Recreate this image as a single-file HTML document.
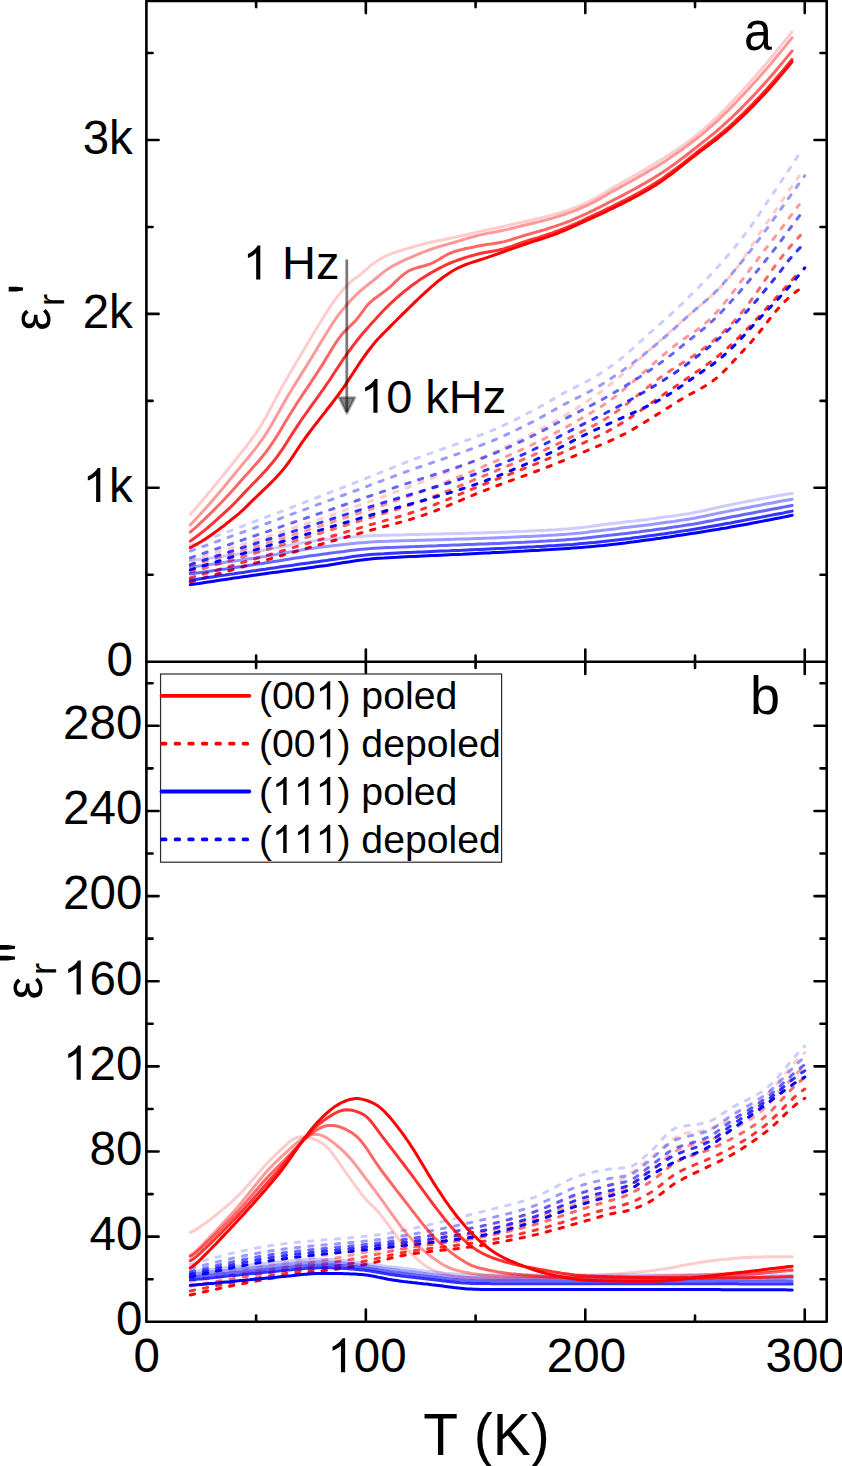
<!DOCTYPE html>
<html><head><meta charset="utf-8"><style>
html,body{margin:0;padding:0;background:#fff;width:842px;height:1466px;overflow:hidden}
svg{display:block}
text{font-family:"Liberation Sans",sans-serif;font-kerning:none;font-feature-settings:"kern" 0}
</style></head><body>
<svg width="842" height="1466" viewBox="0 0 842 1466">
<rect width="842" height="1466" fill="#fff"/>
<g fill="none" stroke-linejoin="round" stroke-linecap="round">
<path d="M190.3 560.0L194.7 558.7L199.1 557.4L203.5 556.2L207.8 554.9L212.2 553.6L216.6 552.3L221.0 551.0L225.4 549.6L229.8 548.3L234.2 547.0L238.6 545.6L243.0 544.3L247.3 542.9L251.7 541.5L256.1 540.1L260.5 538.7L264.9 537.3L269.3 535.9L273.7 534.5L278.1 533.0L282.5 531.6L286.8 530.2L291.2 528.7L295.6 527.2L300.0 525.8L304.4 524.3L308.8 522.8L313.2 521.3L317.6 519.8L322.0 518.3L326.3 516.8L330.7 515.3L335.1 513.7L339.5 512.2L343.9 510.6L348.3 509.1L352.7 507.5L357.1 506.0L361.5 504.4L365.9 502.8L370.2 501.3L374.6 499.7L379.0 498.1L383.4 496.5L387.8 494.9L392.2 493.3L396.6 491.7L401.0 490.0L405.4 488.4L409.7 486.7L414.1 485.1L418.5 483.4L422.9 481.7L427.3 480.0L431.7 478.3L436.1 476.6L440.5 474.9L444.9 473.1L449.2 471.3L453.6 469.5L458.0 467.7L462.4 465.9L466.8 464.1L471.2 462.2L475.6 460.3L480.0 458.4L484.4 456.5L488.7 454.5L493.1 452.6L497.5 450.6L501.9 448.5L506.3 446.5L510.7 444.4L515.1 442.2L519.5 440.1L523.9 437.9L528.2 435.6L532.6 433.3L537.0 431.0L541.4 428.7L545.8 426.3L550.2 423.8L554.6 421.3L559.0 418.8L563.4 416.3L567.7 413.7L572.1 411.0L576.5 408.3L580.9 405.5L585.3 402.6L589.7 399.6L594.1 396.6L598.5 393.5L602.9 390.3L607.2 386.9L611.6 383.5L616.0 379.9L620.4 376.2L624.8 372.3L629.2 368.4L633.6 364.4L638.0 360.5L642.4 356.5L646.7 352.6L651.1 348.6L655.5 344.8L659.9 340.9L664.3 337.0L668.7 333.0L673.1 329.1L677.5 325.2L681.9 321.3L686.2 317.4L690.6 313.6L695.0 309.9L699.4 306.2L703.8 302.5L708.2 298.8L712.6 294.8L717.0 290.6L721.4 286.1L725.7 281.4L730.1 276.4L734.5 271.0L738.9 265.0L743.3 258.6L747.7 251.8L752.1 245.0L756.5 238.2L760.9 231.6L765.2 225.2L769.6 218.9L774.0 212.4L778.4 206.0L782.8 199.5L787.2 193.1L791.6 186.8L796.0 180.5L799.3 175.9" stroke="#ff0000" stroke-opacity="0.2" stroke-width="3.0" stroke-dasharray="4.4 9"/>
<path d="M190.3 566.2L194.7 564.9L199.1 563.6L203.5 562.3L207.8 561.1L212.2 559.8L216.6 558.5L221.0 557.2L225.4 555.8L229.8 554.5L234.2 553.2L238.6 551.9L243.0 550.5L247.3 549.2L251.7 547.8L256.1 546.5L260.5 545.1L264.9 543.8L269.3 542.4L273.7 541.0L278.1 539.6L282.5 538.2L286.8 536.8L291.2 535.4L295.6 534.0L300.0 532.6L304.4 531.2L308.8 529.8L313.2 528.4L317.6 526.9L322.0 525.5L326.3 524.0L330.7 522.6L335.1 521.1L339.5 519.7L343.9 518.2L348.3 516.8L352.7 515.3L357.1 513.8L361.5 512.3L365.9 510.9L370.2 509.4L374.6 507.9L379.0 506.5L383.4 505.0L387.8 503.5L392.2 502.0L396.6 500.5L401.0 499.0L405.4 497.5L409.7 495.9L414.1 494.4L418.5 492.8L422.9 491.1L427.3 489.5L431.7 487.8L436.1 486.1L440.5 484.4L444.9 482.6L449.2 480.8L453.6 479.0L458.0 477.2L462.4 475.4L466.8 473.5L471.2 471.6L475.6 469.8L480.0 467.9L484.4 466.0L488.7 464.2L493.1 462.3L497.5 460.4L501.9 458.4L506.3 456.5L510.7 454.5L515.1 452.6L519.5 450.6L523.9 448.5L528.2 446.5L532.6 444.4L537.0 442.2L541.4 440.1L545.8 437.9L550.2 435.6L554.6 433.3L559.0 431.0L563.4 428.7L567.7 426.3L572.1 423.8L576.5 421.3L580.9 418.8L585.3 416.2L589.7 413.6L594.1 411.0L598.5 408.2L602.9 405.4L607.2 402.4L611.6 399.2L616.0 395.9L620.4 392.4L624.8 388.7L629.2 385.0L633.6 381.2L638.0 377.4L642.4 373.5L646.7 369.6L651.1 365.7L655.5 361.8L659.9 358.0L664.3 354.2L668.7 350.5L673.1 346.9L677.5 343.5L681.9 340.3L686.2 337.2L690.6 334.3L695.0 331.4L699.4 328.2L703.8 324.7L708.2 320.8L712.6 316.4L717.0 311.7L721.4 306.7L725.7 301.4L730.1 295.9L734.5 290.2L738.9 284.4L743.3 278.5L747.7 272.6L752.1 266.7L756.5 260.9L760.9 255.1L765.2 249.4L769.6 243.8L774.0 238.1L778.4 232.4L782.8 226.5L787.2 220.4L791.6 214.6L796.0 208.9L799.3 204.6" stroke="#ff0000" stroke-opacity="0.4" stroke-width="3.0" stroke-dasharray="4.4 9"/>
<path d="M190.3 572.3L194.7 571.1L199.1 569.8L203.5 568.5L207.8 567.2L212.2 565.9L216.6 564.6L221.0 563.3L225.4 562.0L229.8 560.7L234.2 559.4L238.6 558.1L243.0 556.8L247.3 555.5L251.7 554.2L256.1 552.9L260.5 551.5L264.9 550.2L269.3 548.9L273.7 547.5L278.1 546.2L282.5 544.9L286.8 543.5L291.2 542.2L295.6 540.8L300.0 539.5L304.4 538.1L308.8 536.8L313.2 535.4L317.6 534.0L322.0 532.7L326.3 531.3L330.7 529.9L335.1 528.6L339.5 527.2L343.9 525.8L348.3 524.4L352.7 523.0L357.1 521.7L361.5 520.3L365.9 518.9L370.2 517.5L374.6 516.2L379.0 514.8L383.4 513.5L387.8 512.1L392.2 510.8L396.6 509.4L401.0 508.0L405.4 506.6L409.7 505.1L414.1 503.6L418.5 502.1L422.9 500.5L427.3 498.9L431.7 497.3L436.1 495.6L440.5 493.9L444.9 492.1L449.2 490.3L453.6 488.5L458.0 486.6L462.4 484.8L466.8 482.9L471.2 481.1L475.6 479.2L480.0 477.4L484.4 475.6L488.7 473.8L493.1 472.0L497.5 470.2L501.9 468.3L506.3 466.5L510.7 464.7L515.1 462.9L519.5 461.0L523.9 459.2L528.2 457.3L532.6 455.4L537.0 453.4L541.4 451.5L545.8 449.5L550.2 447.4L554.6 445.3L559.0 443.2L563.4 441.1L567.7 438.9L572.1 436.7L576.5 434.4L580.9 432.2L585.3 429.9L589.7 427.6L594.1 425.3L598.5 422.9L602.9 420.4L607.2 417.8L611.6 415.0L616.0 412.0L620.4 408.8L624.8 405.5L629.2 402.1L633.6 398.6L638.0 395.0L642.4 391.5L646.7 388.0L651.1 384.5L655.5 381.1L659.9 377.8L664.3 374.7L668.7 371.7L673.1 368.8L677.5 366.0L681.9 363.2L686.2 360.5L690.6 357.6L695.0 354.7L699.4 351.6L703.8 348.3L708.2 344.9L712.6 341.4L717.0 337.6L721.4 333.8L725.7 329.7L730.1 325.4L734.5 320.8L738.9 315.9L743.3 310.5L747.7 304.8L752.1 298.8L756.5 292.6L760.9 286.3L765.2 279.9L769.6 273.6L774.0 267.4L778.4 261.4L782.8 255.6L787.2 250.0L791.6 244.9L796.0 240.0L800.4 235.4L800.4 235.4" stroke="#ff0000" stroke-opacity="0.6" stroke-width="3.0" stroke-dasharray="4.4 9"/>
<path d="M190.3 577.9L194.7 576.6L199.1 575.3L203.5 574.0L207.8 572.7L212.2 571.4L216.6 570.2L221.0 568.9L225.4 567.6L229.8 566.3L234.2 565.0L238.6 563.7L243.0 562.4L247.3 561.1L251.7 559.8L256.1 558.5L260.5 557.3L264.9 556.0L269.3 554.7L273.7 553.4L278.1 552.1L282.5 550.8L286.8 549.5L291.2 548.2L295.6 546.9L300.0 545.6L304.4 544.3L308.8 543.0L313.2 541.7L317.6 540.4L322.0 539.1L326.3 537.8L330.7 536.5L335.1 535.2L339.5 533.9L343.9 532.6L348.3 531.3L352.7 530.0L357.1 528.7L361.5 527.4L365.9 526.1L370.2 524.8L374.6 523.6L379.0 522.3L383.4 521.1L387.8 519.8L392.2 518.6L396.6 517.3L401.0 516.0L405.4 514.7L409.7 513.3L414.1 511.9L418.5 510.4L422.9 508.9L427.3 507.4L431.7 505.8L436.1 504.1L440.5 502.3L444.9 500.6L449.2 498.8L453.6 496.9L458.0 495.1L462.4 493.2L466.8 491.4L471.2 489.5L475.6 487.7L480.0 485.9L484.4 484.1L488.7 482.4L493.1 480.6L497.5 478.9L501.9 477.2L506.3 475.5L510.7 473.8L515.1 472.1L519.5 470.4L523.9 468.7L528.2 466.9L532.6 465.2L537.0 463.4L541.4 461.6L545.8 459.8L550.2 457.9L554.6 456.1L559.0 454.1L563.4 452.2L567.7 450.2L572.1 448.2L576.5 446.1L580.9 444.1L585.3 442.1L589.7 440.1L594.1 438.0L598.5 436.0L602.9 433.9L607.2 431.6L611.6 429.2L616.0 426.7L620.4 424.0L624.8 421.2L629.2 418.3L633.6 415.4L638.0 412.4L642.4 409.3L646.7 406.2L651.1 403.2L655.5 400.1L659.9 397.0L664.3 394.0L668.7 391.0L673.1 388.0L677.5 385.0L681.9 382.1L686.2 379.0L690.6 376.0L695.0 372.9L699.4 369.9L703.8 366.8L708.2 363.6L712.6 360.4L717.0 357.0L721.4 353.4L725.7 349.7L730.1 345.7L734.5 341.6L738.9 337.4L743.3 333.0L747.7 328.5L752.1 323.9L756.5 319.2L760.9 314.5L765.2 309.8L769.6 305.0L774.0 300.2L778.4 295.3L782.8 290.5L787.2 285.5L791.6 280.6L796.0 275.6L799.3 271.8" stroke="#ff0000" stroke-opacity="0.8" stroke-width="3.0" stroke-dasharray="4.4 9"/>
<path d="M190.3 582.1L194.7 580.8L199.1 579.5L203.5 578.2L207.8 576.9L212.2 575.6L216.6 574.3L221.0 573.1L225.4 571.8L229.8 570.5L234.2 569.2L238.6 568.0L243.0 566.7L247.3 565.4L251.7 564.1L256.1 562.9L260.5 561.6L264.9 560.3L269.3 559.1L273.7 557.8L278.1 556.5L282.5 555.3L286.8 554.0L291.2 552.8L295.6 551.5L300.0 550.2L304.4 549.0L308.8 547.7L313.2 546.5L317.6 545.2L322.0 544.0L326.3 542.7L330.7 541.5L335.1 540.2L339.5 539.0L343.9 537.7L348.3 536.5L352.7 535.2L357.1 534.0L361.5 532.8L365.9 531.5L370.2 530.3L374.6 529.2L379.0 528.0L383.4 526.8L387.8 525.7L392.2 524.5L396.6 523.3L401.0 522.1L405.4 520.8L409.7 519.6L414.1 518.2L418.5 516.8L422.9 515.4L427.3 513.8L431.7 512.2L436.1 510.5L440.5 508.8L444.9 507.0L449.2 505.2L453.6 503.4L458.0 501.5L462.4 499.6L466.8 497.8L471.2 495.9L475.6 494.1L480.0 492.3L484.4 490.6L488.7 488.9L493.1 487.2L497.5 485.5L501.9 483.9L506.3 482.3L510.7 480.7L515.1 479.1L519.5 477.5L523.9 475.9L528.2 474.3L532.6 472.7L537.0 471.0L541.4 469.4L545.8 467.7L550.2 466.0L554.6 464.2L559.0 462.4L563.4 460.6L567.7 458.8L572.1 456.9L576.5 455.0L580.9 453.2L585.3 451.3L589.7 449.5L594.1 447.6L598.5 445.8L602.9 444.0L607.2 442.1L611.6 440.2L616.0 438.2L620.4 436.0L624.8 433.8L629.2 431.4L633.6 428.9L638.0 426.3L642.4 423.6L646.7 420.9L651.1 418.2L655.5 415.5L659.9 412.8L664.3 410.0L668.7 407.2L673.1 404.4L677.5 401.6L681.9 399.0L686.2 396.4L690.6 394.0L695.0 391.7L699.4 389.3L703.8 386.8L708.2 384.2L712.6 381.1L717.0 377.7L721.4 373.8L725.7 369.5L730.1 364.9L734.5 360.1L738.9 355.3L743.3 350.6L747.7 345.8L752.1 340.9L756.5 335.7L760.9 330.3L765.2 324.7L769.6 319.0L774.0 313.5L778.4 308.3L782.8 303.6L787.2 299.2L791.6 295.3L796.0 291.7L800.4 288.5L804.8 285.7" stroke="#ff0000" stroke-width="3.0" stroke-dasharray="4.4 9"/>
<path d="M190.3 545.7L194.7 544.1L199.1 542.5L203.5 540.8L207.8 539.2L212.2 537.6L216.6 535.9L221.0 534.3L225.4 532.6L229.8 531.0L234.2 529.3L238.6 527.7L243.0 526.0L247.3 524.3L251.7 522.7L256.1 521.0L260.5 519.3L264.9 517.6L269.3 516.0L273.7 514.3L278.1 512.6L282.5 510.9L286.8 509.2L291.2 507.5L295.6 505.8L300.0 504.1L304.4 502.4L308.8 500.7L313.2 499.0L317.6 497.3L322.0 495.6L326.3 493.9L330.7 492.2L335.1 490.5L339.5 488.8L343.9 487.0L348.3 485.3L352.7 483.6L357.1 481.9L361.5 480.1L365.9 478.4L370.2 476.7L374.6 474.9L379.0 473.1L383.4 471.3L387.8 469.6L392.2 467.8L396.6 466.0L401.0 464.3L405.4 462.6L409.7 460.9L414.1 459.2L418.5 457.6L422.9 456.0L427.3 454.4L431.7 452.9L436.1 451.3L440.5 449.7L444.9 448.2L449.2 446.6L453.6 445.1L458.0 443.5L462.4 441.9L466.8 440.3L471.2 438.7L475.6 437.0L480.0 435.3L484.4 433.6L488.7 431.8L493.1 430.0L497.5 428.1L501.9 426.1L506.3 424.1L510.7 422.0L515.1 419.8L519.5 417.6L523.9 415.3L528.2 413.0L532.6 410.6L537.0 408.3L541.4 405.9L545.8 403.4L550.2 400.9L554.6 398.4L559.0 395.8L563.4 393.3L567.7 391.0L572.1 388.7L576.5 386.6L580.9 384.4L585.3 382.2L589.7 379.8L594.1 377.2L598.5 374.5L602.9 371.7L607.2 368.7L611.6 365.7L616.0 362.5L620.4 359.1L624.8 355.5L629.2 351.7L633.6 347.8L638.0 343.8L642.4 339.8L646.7 335.8L651.1 331.9L655.5 328.1L659.9 324.2L664.3 320.2L668.7 316.2L673.1 312.2L677.5 308.0L681.9 303.9L686.2 299.6L690.6 295.3L695.0 291.0L699.4 286.5L703.8 282.0L708.2 277.4L712.6 272.7L717.0 267.8L721.4 262.9L725.7 257.9L730.1 252.7L734.5 247.5L738.9 242.1L743.3 236.5L747.7 230.7L752.1 224.6L756.5 218.2L760.9 211.7L765.2 205.2L769.6 198.6L774.0 192.1L778.4 185.6L782.8 179.0L787.2 172.4L791.6 165.7L796.0 158.9L799.7 153.1" stroke="#0000ff" stroke-opacity="0.2" stroke-width="3.0" stroke-dasharray="4.4 9"/>
<path d="M190.3 551.0L194.7 549.5L199.1 547.9L203.5 546.3L207.8 544.7L212.2 543.2L216.6 541.6L221.0 540.0L225.4 538.4L229.8 536.8L234.2 535.2L238.6 533.7L243.0 532.1L247.3 530.5L251.7 528.9L256.1 527.3L260.5 525.7L264.9 524.1L269.3 522.5L273.7 520.9L278.1 519.3L282.5 517.6L286.8 516.0L291.2 514.4L295.6 512.8L300.0 511.2L304.4 509.6L308.8 508.0L313.2 506.3L317.6 504.7L322.0 503.1L326.3 501.5L330.7 499.8L335.1 498.2L339.5 496.6L343.9 495.0L348.3 493.3L352.7 491.7L357.1 490.1L361.5 488.4L365.9 486.8L370.2 485.1L374.6 483.5L379.0 481.8L383.4 480.2L387.8 478.5L392.2 476.9L396.6 475.2L401.0 473.6L405.4 472.0L409.7 470.4L414.1 468.9L418.5 467.3L422.9 465.8L427.3 464.3L431.7 462.8L436.1 461.3L440.5 459.8L444.9 458.3L449.2 456.8L453.6 455.3L458.0 453.8L462.4 452.2L466.8 450.6L471.2 449.0L475.6 447.4L480.0 445.7L484.4 444.0L488.7 442.3L493.1 440.5L497.5 438.6L501.9 436.7L506.3 434.7L510.7 432.7L515.1 430.6L519.5 428.4L523.9 426.3L528.2 424.0L532.6 421.8L537.0 419.5L541.4 417.1L545.8 414.7L550.2 412.2L554.6 409.8L559.0 407.3L563.4 404.9L567.7 402.6L572.1 400.4L576.5 398.2L580.9 396.0L585.3 393.7L589.7 391.4L594.1 388.9L598.5 386.4L602.9 383.7L607.2 381.0L611.6 378.1L616.0 375.2L620.4 372.1L624.8 368.9L629.2 365.7L633.6 362.4L638.0 359.1L642.4 355.7L646.7 352.2L651.1 348.7L655.5 345.0L659.9 341.3L664.3 337.5L668.7 333.6L673.1 329.6L677.5 325.6L681.9 321.6L686.2 317.6L690.6 313.7L695.0 309.9L699.4 306.2L703.8 302.5L708.2 298.7L712.6 294.7L717.0 290.4L721.4 285.7L725.7 280.8L730.1 275.7L734.5 270.5L738.9 265.2L743.3 259.8L747.7 254.3L752.1 248.5L756.5 242.7L760.9 236.8L765.2 230.8L769.6 224.8L774.0 218.7L778.4 212.6L782.8 206.4L787.2 200.2L791.6 194.1L796.0 187.9L800.4 181.7L804.8 175.6" stroke="#0000ff" stroke-opacity="0.4" stroke-width="3.0" stroke-dasharray="4.4 9"/>
<path d="M190.3 557.8L194.7 556.3L199.1 554.8L203.5 553.3L207.8 551.8L212.2 550.3L216.6 548.8L221.0 547.3L225.4 545.8L229.8 544.3L234.2 542.8L238.6 541.3L243.0 539.8L247.3 538.3L251.7 536.8L256.1 535.3L260.5 533.8L264.9 532.3L269.3 530.8L273.7 529.2L278.1 527.7L282.5 526.2L286.8 524.7L291.2 523.2L295.6 521.7L300.0 520.2L304.4 518.7L308.8 517.1L313.2 515.6L317.6 514.1L322.0 512.6L326.3 511.1L330.7 509.6L335.1 508.1L339.5 506.5L343.9 505.0L348.3 503.5L352.7 502.0L357.1 500.5L361.5 499.0L365.9 497.4L370.2 495.9L374.6 494.4L379.0 492.9L383.4 491.4L387.8 489.9L392.2 488.4L396.6 486.9L401.0 485.5L405.4 484.0L409.7 482.6L414.1 481.1L418.5 479.7L422.9 478.3L427.3 476.9L431.7 475.5L436.1 474.1L440.5 472.6L444.9 471.2L449.2 469.8L453.6 468.3L458.0 466.8L462.4 465.3L466.8 463.8L471.2 462.2L475.6 460.7L480.0 459.0L484.4 457.4L488.7 455.6L493.1 453.9L497.5 452.1L501.9 450.2L506.3 448.3L510.7 446.3L515.1 444.3L519.5 442.2L523.9 440.2L528.2 438.0L532.6 435.9L537.0 433.7L541.4 431.4L545.8 429.1L550.2 426.8L554.6 424.4L559.0 422.0L563.4 419.6L567.7 417.4L572.1 415.1L576.5 412.9L580.9 410.7L585.3 408.4L589.7 406.1L594.1 403.8L598.5 401.5L602.9 399.1L607.2 396.6L611.6 394.1L616.0 391.5L620.4 388.9L624.8 386.2L629.2 383.6L633.6 380.8L638.0 378.0L642.4 375.2L646.7 372.3L651.1 369.4L655.5 366.4L659.9 363.3L664.3 360.1L668.7 356.8L673.1 353.3L677.5 349.7L681.9 346.1L686.2 342.5L690.6 339.0L695.0 335.6L699.4 332.2L703.8 328.6L708.2 324.8L712.6 320.8L717.0 316.5L721.4 312.0L725.7 307.4L730.1 302.6L734.5 297.7L738.9 292.7L743.3 287.6L747.7 282.4L752.1 277.1L756.5 271.8L760.9 266.4L765.2 261.0L769.6 255.5L774.0 249.9L778.4 244.3L782.8 238.3L787.2 232.2L791.6 226.3L796.0 220.5L800.4 214.7L800.4 214.7" stroke="#0000ff" stroke-opacity="0.6" stroke-width="3.0" stroke-dasharray="4.4 9"/>
<path d="M190.3 564.6L194.7 563.1L199.1 561.7L203.5 560.3L207.8 558.9L212.2 557.5L216.6 556.0L221.0 554.6L225.4 553.2L229.8 551.8L234.2 550.4L238.6 548.9L243.0 547.5L247.3 546.1L251.7 544.7L256.1 543.3L260.5 541.9L264.9 540.4L269.3 539.0L273.7 537.6L278.1 536.2L282.5 534.8L286.8 533.4L291.2 532.0L295.6 530.6L300.0 529.2L304.4 527.7L308.8 526.3L313.2 524.9L317.6 523.5L322.0 522.1L326.3 520.7L330.7 519.3L335.1 517.9L339.5 516.5L343.9 515.1L348.3 513.7L352.7 512.3L357.1 510.9L361.5 509.5L365.9 508.1L370.2 506.7L374.6 505.4L379.0 504.0L383.4 502.6L387.8 501.3L392.2 500.0L396.6 498.6L401.0 497.3L405.4 496.0L409.7 494.7L414.1 493.4L418.5 492.1L422.9 490.8L427.3 489.5L431.7 488.1L436.1 486.8L440.5 485.5L444.9 484.1L449.2 482.7L453.6 481.3L458.0 479.9L462.4 478.4L466.8 477.0L471.2 475.5L475.6 473.9L480.0 472.3L484.4 470.7L488.7 469.0L493.1 467.3L497.5 465.5L501.9 463.7L506.3 461.8L510.7 459.9L515.1 458.0L519.5 456.1L523.9 454.1L528.2 452.0L532.6 450.0L537.0 447.9L541.4 445.8L545.8 443.5L550.2 441.3L554.6 439.0L559.0 436.7L563.4 434.4L567.7 432.1L572.1 429.8L576.5 427.5L580.9 425.3L585.3 423.1L589.7 420.9L594.1 418.8L598.5 416.6L602.9 414.5L607.2 412.2L611.6 410.0L616.0 407.6L620.4 405.3L624.8 402.9L629.2 400.5L633.6 398.0L638.0 395.6L642.4 393.0L646.7 390.5L651.1 387.9L655.5 385.2L659.9 382.5L664.3 379.7L668.7 376.9L673.1 374.0L677.5 371.0L681.9 367.9L686.2 364.7L690.6 361.4L695.0 358.0L699.4 354.6L703.8 351.1L708.2 347.6L712.6 344.0L717.0 340.2L721.4 336.4L725.7 332.5L730.1 328.4L734.5 324.1L738.9 319.7L743.3 315.1L747.7 310.4L752.1 305.5L756.5 300.4L760.9 295.3L765.2 290.0L769.6 284.7L774.0 279.3L778.4 273.9L782.8 268.1L787.2 262.1L791.6 256.9L796.0 252.0L800.4 247.4L800.4 247.4" stroke="#0000ff" stroke-opacity="0.8" stroke-width="3.0" stroke-dasharray="4.4 9"/>
<path d="M190.3 569.9L194.7 568.5L199.1 567.2L203.5 565.8L207.8 564.4L212.2 563.1L216.6 561.7L221.0 560.4L225.4 559.0L229.8 557.6L234.2 556.3L238.6 554.9L243.0 553.6L247.3 552.2L251.7 550.9L256.1 549.6L260.5 548.2L264.9 546.9L269.3 545.5L273.7 544.2L278.1 542.9L282.5 541.5L286.8 540.2L291.2 538.9L295.6 537.5L300.0 536.2L304.4 534.9L308.8 533.6L313.2 532.2L317.6 530.9L322.0 529.6L326.3 528.3L330.7 526.9L335.1 525.6L339.5 524.3L343.9 523.0L348.3 521.7L352.7 520.4L357.1 519.1L361.5 517.8L365.9 516.5L370.2 515.2L374.6 513.9L379.0 512.7L383.4 511.5L387.8 510.3L392.2 509.0L396.6 507.8L401.0 506.6L405.4 505.4L409.7 504.2L414.1 503.0L418.5 501.8L422.9 500.6L427.3 499.3L431.7 498.1L436.1 496.8L440.5 495.5L444.9 494.2L449.2 492.9L453.6 491.5L458.0 490.2L462.4 488.8L466.8 487.3L471.2 485.8L475.6 484.3L480.0 482.8L484.4 481.2L488.7 479.5L493.1 477.8L497.5 476.1L501.9 474.3L506.3 472.5L510.7 470.7L515.1 468.8L519.5 466.9L523.9 465.0L528.2 463.0L532.6 461.0L537.0 459.0L541.4 457.0L545.8 454.9L550.2 452.8L554.6 450.5L559.0 448.2L563.4 445.9L567.7 443.6L572.1 441.3L576.5 439.0L580.9 436.8L585.3 434.6L589.7 432.5L594.1 430.5L598.5 428.5L602.9 426.5L607.2 424.5L611.6 422.6L616.0 420.6L620.4 418.6L624.8 416.6L629.2 414.6L633.6 412.6L638.0 410.5L642.4 408.5L646.7 406.4L651.1 404.3L655.5 402.1L659.9 399.7L664.3 397.2L668.7 394.6L673.1 391.8L677.5 388.8L681.9 385.8L686.2 382.7L690.6 379.7L695.0 376.6L699.4 373.6L703.8 370.6L708.2 367.6L712.6 364.5L717.0 361.1L721.4 357.6L725.7 353.7L730.1 349.6L734.5 345.3L738.9 340.8L743.3 336.2L747.7 331.4L752.1 326.5L756.5 321.7L760.9 317.0L765.2 312.4L769.6 307.9L774.0 303.3L778.4 298.7L782.8 293.9L787.2 288.9L791.6 283.8L796.0 278.6L800.4 273.3L804.8 267.8" stroke="#0000ff" stroke-width="3.0" stroke-dasharray="4.4 9"/>
<path d="M190.3 560.7L194.7 560.1L199.1 559.6L203.5 559.0L207.9 558.4L212.3 557.8L216.7 557.2L221.0 556.6L225.4 556.0L229.8 555.4L234.2 554.7L238.6 554.1L243.0 553.5L247.4 552.8L251.8 552.1L256.2 551.4L260.6 550.7L265.0 549.9L269.4 549.2L273.8 548.3L278.2 547.5L282.6 546.6L287.0 545.7L291.3 544.9L295.7 544.1L300.1 543.2L304.5 542.5L308.9 541.8L313.3 541.1L317.7 540.5L322.1 540.0L326.5 539.5L330.9 539.0L335.3 538.5L339.7 538.1L344.1 537.7L348.5 537.3L352.9 537.0L357.3 536.6L361.6 536.3L366.0 536.1L370.4 535.8L374.8 535.6L379.2 535.5L383.6 535.3L388.0 535.2L392.4 535.1L396.8 535.0L401.2 534.9L405.6 534.7L410.0 534.6L414.4 534.5L418.8 534.4L423.2 534.3L427.6 534.2L431.9 534.1L436.3 534.0L440.7 533.9L445.1 533.8L449.5 533.7L453.9 533.6L458.3 533.5L462.7 533.4L467.1 533.3L471.5 533.1L475.9 533.0L480.3 532.9L484.7 532.7L489.1 532.6L493.5 532.4L497.9 532.3L502.3 532.1L506.6 532.0L511.0 531.8L515.4 531.6L519.8 531.4L524.2 531.3L528.6 531.1L533.0 530.9L537.4 530.6L541.8 530.4L546.2 530.2L550.6 529.9L555.0 529.7L559.4 529.4L563.8 529.1L568.2 528.8L572.6 528.4L576.9 528.0L581.3 527.5L585.7 526.9L590.1 526.4L594.5 525.8L598.9 525.2L603.3 524.6L607.7 524.1L612.1 523.5L616.5 523.0L620.9 522.5L625.3 522.0L629.7 521.5L634.1 521.0L638.5 520.4L642.9 519.9L647.2 519.4L651.6 518.8L656.0 518.3L660.4 517.7L664.8 517.1L669.2 516.5L673.6 515.9L678.0 515.3L682.4 514.6L686.8 513.9L691.2 513.2L695.6 512.3L700.0 511.5L704.4 510.5L708.8 509.5L713.2 508.5L717.5 507.5L721.9 506.5L726.3 505.6L730.7 504.7L735.1 503.8L739.5 503.0L743.9 502.1L748.3 501.2L752.7 500.4L757.1 499.6L761.5 498.7L765.9 497.9L770.3 497.1L774.7 496.3L779.1 495.6L783.5 494.8L787.8 494.1L792.2 493.4" stroke="#0000ff" stroke-opacity="0.2" stroke-width="3.0" />
<path d="M190.3 567.2L194.7 566.6L199.1 566.0L203.5 565.4L207.9 564.8L212.3 564.2L216.7 563.6L221.0 563.0L225.4 562.3L229.8 561.7L234.2 561.1L238.6 560.4L243.0 559.8L247.4 559.1L251.8 558.4L256.2 557.8L260.6 557.1L265.0 556.4L269.4 555.6L273.8 554.9L278.2 554.1L282.6 553.3L287.0 552.5L291.3 551.7L295.7 550.9L300.1 550.2L304.5 549.5L308.9 548.8L313.3 548.2L317.7 547.6L322.1 547.0L326.5 546.5L330.9 545.9L335.3 545.4L339.7 544.9L344.1 544.4L348.5 544.0L352.9 543.5L357.3 543.1L361.6 542.7L366.0 542.4L370.4 542.1L374.8 541.8L379.2 541.6L383.6 541.4L388.0 541.3L392.4 541.1L396.8 541.0L401.2 540.8L405.6 540.7L410.0 540.6L414.4 540.4L418.8 540.3L423.2 540.2L427.6 540.0L431.9 539.9L436.3 539.8L440.7 539.7L445.1 539.5L449.5 539.4L453.9 539.3L458.3 539.1L462.7 539.0L467.1 538.9L471.5 538.7L475.9 538.5L480.3 538.4L484.7 538.2L489.1 538.1L493.5 537.9L497.9 537.7L502.3 537.5L506.6 537.4L511.0 537.2L515.4 537.0L519.8 536.8L524.2 536.6L528.6 536.4L533.0 536.2L537.4 536.0L541.8 535.7L546.2 535.5L550.6 535.2L555.0 535.0L559.4 534.7L563.8 534.4L568.2 534.1L572.6 533.7L576.9 533.3L581.3 532.9L585.7 532.4L590.1 531.8L594.5 531.3L598.9 530.8L603.3 530.2L607.7 529.7L612.1 529.2L616.5 528.7L620.9 528.1L625.3 527.6L629.7 527.1L634.1 526.6L638.5 526.0L642.9 525.5L647.2 524.9L651.6 524.4L656.0 523.8L660.4 523.2L664.8 522.6L669.2 522.0L673.6 521.4L678.0 520.7L682.4 520.1L686.8 519.4L691.2 518.7L695.6 517.9L700.0 517.1L704.4 516.2L708.8 515.3L713.2 514.3L717.5 513.4L721.9 512.5L726.3 511.6L730.7 510.8L735.1 509.9L739.5 509.1L743.9 508.2L748.3 507.4L752.7 506.5L757.1 505.7L761.5 504.9L765.9 504.0L770.3 503.2L774.7 502.4L779.1 501.6L783.5 500.8L787.8 500.1L792.2 499.3" stroke="#0000ff" stroke-opacity="0.4" stroke-width="3.0" />
<path d="M190.3 574.0L194.7 573.3L199.1 572.7L203.5 572.1L207.9 571.4L212.3 570.8L216.7 570.2L221.0 569.5L225.4 568.9L229.8 568.2L234.2 567.6L238.6 566.9L243.0 566.3L247.4 565.7L251.8 565.0L256.2 564.3L260.6 563.7L265.0 563.0L269.4 562.3L273.8 561.6L278.2 560.9L282.6 560.2L287.0 559.5L291.3 558.8L295.7 558.1L300.1 557.4L304.5 556.7L308.9 556.1L313.3 555.5L317.7 554.9L322.1 554.3L326.5 553.7L330.9 553.1L335.3 552.6L339.7 552.0L344.1 551.4L348.5 550.8L352.9 550.3L357.3 549.8L361.6 549.3L366.0 548.9L370.4 548.6L374.8 548.2L379.2 548.0L383.6 547.8L388.0 547.6L392.4 547.4L396.8 547.2L401.2 547.1L405.6 546.9L410.0 546.7L414.4 546.6L418.8 546.4L423.2 546.2L427.6 546.1L431.9 545.9L436.3 545.8L440.7 545.6L445.1 545.5L449.5 545.3L453.9 545.1L458.3 545.0L462.7 544.8L467.1 544.6L471.5 544.5L475.9 544.3L480.3 544.1L484.7 543.9L489.1 543.7L493.5 543.5L497.9 543.4L502.3 543.2L506.6 543.0L511.0 542.8L515.4 542.6L519.8 542.4L524.2 542.2L528.6 541.9L533.0 541.7L537.4 541.5L541.8 541.2L546.2 541.0L550.6 540.7L555.0 540.5L559.4 540.2L563.8 539.9L568.2 539.6L572.6 539.3L576.9 538.9L581.3 538.5L585.7 538.0L590.1 537.5L594.5 537.0L598.9 536.5L603.3 536.0L607.7 535.5L612.1 535.0L616.5 534.5L620.9 534.0L625.3 533.5L629.7 532.9L634.1 532.4L638.5 531.9L642.9 531.3L647.2 530.7L651.6 530.2L656.0 529.6L660.4 529.0L664.8 528.4L669.2 527.7L673.6 527.1L678.0 526.4L682.4 525.8L686.8 525.1L691.2 524.4L695.6 523.7L700.0 522.9L704.4 522.1L708.8 521.2L713.2 520.4L717.5 519.5L721.9 518.7L726.3 517.9L730.7 517.0L735.1 516.2L739.5 515.4L743.9 514.5L748.3 513.7L752.7 512.9L757.1 512.0L761.5 511.2L765.9 510.4L770.3 509.5L774.7 508.7L779.1 507.9L783.5 507.1L787.8 506.2L792.2 505.4" stroke="#0000ff" stroke-opacity="0.6" stroke-width="3.0" />
<path d="M190.3 580.2L194.7 579.6L199.1 578.9L203.5 578.3L207.9 577.6L212.3 576.9L216.7 576.3L221.0 575.6L225.4 575.0L229.8 574.3L234.2 573.7L238.6 573.0L243.0 572.4L247.4 571.7L251.8 571.1L256.2 570.5L260.6 569.8L265.0 569.2L269.4 568.5L273.8 567.9L278.2 567.3L282.6 566.6L287.0 566.0L291.3 565.4L295.7 564.7L300.1 564.1L304.5 563.5L308.9 562.9L313.3 562.3L317.7 561.7L322.1 561.1L326.5 560.5L330.9 559.8L335.3 559.2L339.7 558.5L344.1 557.9L348.5 557.2L352.9 556.6L357.3 556.0L361.6 555.5L366.0 555.0L370.4 554.6L374.8 554.2L379.2 553.9L383.6 553.7L388.0 553.4L392.4 553.2L396.8 553.0L401.2 552.8L405.6 552.6L410.0 552.4L414.4 552.2L418.8 552.0L423.2 551.9L427.6 551.7L431.9 551.5L436.3 551.3L440.7 551.1L445.1 550.9L449.5 550.8L453.9 550.6L458.3 550.4L462.7 550.2L467.1 550.0L471.5 549.8L475.9 549.6L480.3 549.4L484.7 549.2L489.1 549.0L493.5 548.8L497.9 548.6L502.3 548.4L506.6 548.2L511.0 548.0L515.4 547.8L519.8 547.5L524.2 547.3L528.6 547.1L533.0 546.9L537.4 546.6L541.8 546.4L546.2 546.1L550.6 545.8L555.0 545.6L559.4 545.3L563.8 545.0L568.2 544.7L572.6 544.4L576.9 544.0L581.3 543.6L585.7 543.2L590.1 542.8L594.5 542.4L598.9 541.9L603.3 541.4L607.7 540.9L612.1 540.4L616.5 539.9L620.9 539.4L625.3 538.9L629.7 538.4L634.1 537.8L638.5 537.3L642.9 536.7L647.2 536.1L651.6 535.5L656.0 534.9L660.4 534.3L664.8 533.7L669.2 533.0L673.6 532.4L678.0 531.7L682.4 531.1L686.8 530.4L691.2 529.7L695.6 529.0L700.0 528.3L704.4 527.5L708.8 526.8L713.2 526.0L717.5 525.2L721.9 524.4L726.3 523.6L730.7 522.9L735.1 522.1L739.5 521.3L743.9 520.4L748.3 519.6L752.7 518.8L757.1 518.0L761.5 517.1L765.9 516.3L770.3 515.4L774.7 514.6L779.1 513.7L783.5 512.9L787.8 512.0L792.2 511.1" stroke="#0000ff" stroke-opacity="0.8" stroke-width="3.0" />
<path d="M190.3 584.8L194.7 584.1L199.1 583.5L203.5 582.8L207.9 582.1L212.3 581.4L216.7 580.7L221.0 580.1L225.4 579.4L229.8 578.8L234.2 578.1L238.6 577.5L243.0 576.8L247.4 576.2L251.8 575.5L256.2 574.9L260.6 574.3L265.0 573.7L269.4 573.1L273.8 572.5L278.2 571.9L282.6 571.3L287.0 570.7L291.3 570.2L295.7 569.6L300.1 569.0L304.5 568.4L308.9 567.8L313.3 567.2L317.7 566.6L322.1 566.0L326.5 565.4L330.9 564.7L335.3 564.0L339.7 563.3L344.1 562.6L348.5 561.9L352.9 561.2L357.3 560.6L361.6 560.0L366.0 559.4L370.4 559.0L374.8 558.6L379.2 558.2L383.6 558.0L388.0 557.7L392.4 557.5L396.8 557.3L401.2 557.0L405.6 556.8L410.0 556.6L414.4 556.4L418.8 556.2L423.2 556.0L427.6 555.8L431.9 555.6L436.3 555.4L440.7 555.2L445.1 555.0L449.5 554.8L453.9 554.6L458.3 554.4L462.7 554.2L467.1 553.9L471.5 553.7L475.9 553.5L480.3 553.3L484.7 553.1L489.1 552.9L493.5 552.6L497.9 552.4L502.3 552.2L506.6 552.0L511.0 551.8L515.4 551.5L519.8 551.3L524.2 551.1L528.6 550.8L533.0 550.6L537.4 550.4L541.8 550.1L546.2 549.8L550.6 549.6L555.0 549.3L559.4 549.0L563.8 548.7L568.2 548.4L572.6 548.1L576.9 547.8L581.3 547.4L585.7 547.1L590.1 546.7L594.5 546.3L598.9 545.8L603.3 545.4L607.7 544.9L612.1 544.4L616.5 543.9L620.9 543.4L625.3 542.9L629.7 542.3L634.1 541.8L638.5 541.2L642.9 540.6L647.2 540.0L651.6 539.4L656.0 538.8L660.4 538.2L664.8 537.5L669.2 536.9L673.6 536.3L678.0 535.6L682.4 534.9L686.8 534.3L691.2 533.6L695.6 532.9L700.0 532.2L704.4 531.5L708.8 530.8L713.2 530.1L717.5 529.4L721.9 528.6L726.3 527.9L730.7 527.1L735.1 526.3L739.5 525.5L743.9 524.7L748.3 523.9L752.7 523.1L757.1 522.3L761.5 521.4L765.9 520.6L770.3 519.7L774.7 518.8L779.1 518.0L783.5 517.1L787.8 516.2L792.2 515.3" stroke="#0000ff" stroke-width="3.0" />
<path d="M190.3 514.4L192.5 511.9L194.7 509.4L196.9 506.9L199.1 504.3L201.3 501.7L203.5 499.1L205.7 496.5L207.9 493.9L210.1 491.3L212.3 488.6L214.4 486.0L216.6 483.3L218.8 480.6L221.0 477.9L223.2 475.2L225.4 472.4L227.6 469.7L229.8 466.9L232.0 464.2L234.2 461.5L236.4 458.7L238.6 456.0L240.8 453.3L243.0 450.5L245.2 447.7L247.4 444.9L249.6 442.0L251.8 439.0L254.0 435.9L256.2 432.8L258.4 429.5L260.6 426.2L262.8 422.6L265.0 418.8L267.2 414.9L269.3 410.8L271.5 406.6L273.7 402.4L275.9 398.2L278.1 394.1L280.3 390.0L282.5 386.0L284.7 382.2L286.9 378.4L289.1 374.6L291.3 370.9L293.5 367.2L295.7 363.5L297.9 359.8L300.1 356.2L302.3 352.4L304.5 348.7L306.7 345.0L308.9 341.2L311.1 337.5L313.3 333.8L315.5 330.1L317.7 326.5L319.9 323.0L322.1 319.5L324.3 316.0L326.4 312.5L328.6 309.1L330.8 305.7L333.0 302.5L335.2 299.5L337.4 296.6L339.6 293.9L341.8 291.2L344.0 288.6L346.2 286.2L348.4 284.0L350.6 281.9L352.8 280.0L355.0 278.4L357.2 276.9L359.4 275.4L361.6 273.6L363.8 271.7L366.0 269.6L368.2 267.6L370.4 265.7L372.6 263.9L374.8 262.4L377.0 261.0L379.2 259.7L381.4 258.4L383.5 257.2L385.7 256.2L387.9 255.2L390.1 254.3L392.3 253.4L394.5 252.6L396.7 251.9L398.9 251.1L401.1 250.5L403.3 249.8L405.5 249.1L407.7 248.5L409.9 247.8L412.1 247.2L414.3 246.5L416.5 245.9L418.7 245.3L420.9 244.7L423.1 244.1L425.3 243.5L427.5 243.0L429.7 242.5L431.9 242.0L434.1 241.5L436.3 241.0L438.4 240.6L440.6 240.1L442.8 239.7L445.0 239.3L447.2 238.8L449.4 238.4L451.6 237.9L453.8 237.5L456.0 237.0L458.2 236.5L460.4 236.0L462.6 235.5L464.8 235.0L467.0 234.5L469.2 234.0L471.4 233.5L473.6 233.0L475.8 232.4L478.0 231.9L480.2 231.4L482.4 230.9L484.6 230.5L486.8 230.0L489.0 229.5L491.2 229.0L493.4 228.5L495.5 228.1L497.7 227.6L499.9 227.1L502.1 226.6L504.3 226.2L506.5 225.7L508.7 225.2L510.9 224.7L513.1 224.2L515.3 223.7L517.5 223.2L519.7 222.7L521.9 222.2L524.1 221.7L526.3 221.2L528.5 220.7L530.7 220.2L532.9 219.7L535.1 219.2L537.3 218.7L539.5 218.2L541.7 217.6L543.9 217.1L546.1 216.5L548.3 216.0L550.5 215.4L552.6 214.8L554.8 214.2L557.0 213.6L559.2 212.9L561.4 212.3L563.6 211.6L565.8 210.9L568.0 210.1L570.2 209.4L572.4 208.6L574.6 207.7L576.8 206.9L579.0 206.0L581.2 205.1L583.4 204.1L585.6 203.1L587.8 202.1L590.0 201.0L592.2 199.8L594.4 198.7L596.6 197.4L598.8 196.2L601.0 194.9L603.2 193.6L605.4 192.3L607.5 191.0L609.7 189.7L611.9 188.4L614.1 187.1L616.3 185.8L618.5 184.5L620.7 183.2L622.9 182.0L625.1 180.8L627.3 179.5L629.5 178.3L631.7 177.1L633.9 175.8L636.1 174.6L638.3 173.4L640.5 172.1L642.7 170.8L644.9 169.6L647.1 168.3L649.3 167.0L651.5 165.7L653.7 164.3L655.9 163.0L658.1 161.6L660.3 160.3L662.5 158.9L664.6 157.5L666.8 156.1L669.0 154.7L671.2 153.3L673.4 151.8L675.6 150.4L677.8 148.9L680.0 147.4L682.2 145.9L684.4 144.3L686.6 142.7L688.8 141.1L691.0 139.5L693.2 137.8L695.4 136.0L697.6 134.3L699.8 132.4L702.0 130.6L704.2 128.7L706.4 126.8L708.6 124.8L710.8 122.8L713.0 120.8L715.2 118.7L717.4 116.6L719.6 114.5L721.7 112.4L723.9 110.2L726.1 108.0L728.3 105.7L730.5 103.4L732.7 101.1L734.9 98.8L737.1 96.4L739.3 94.0L741.5 91.6L743.7 89.2L745.9 86.8L748.1 84.3L750.3 81.8L752.5 79.3L754.7 76.9L756.9 74.3L759.1 71.8L761.3 69.3L763.5 66.7L765.7 64.2L767.9 61.6L770.1 59.0L772.3 56.3L774.5 53.7L776.6 51.0L778.8 48.3L781.0 45.6L783.2 42.9L785.4 40.2L787.6 37.4L789.8 34.6L792.0 31.8" stroke="#ff0000" stroke-opacity="0.2" stroke-width="3.0" />
<path d="M190.3 524.8L192.5 522.5L194.7 520.2L196.9 517.8L199.1 515.4L201.3 513.0L203.5 510.6L205.7 508.2L207.9 505.7L210.1 503.2L212.3 500.7L214.4 498.2L216.6 495.7L218.8 493.1L221.0 490.5L223.2 487.9L225.4 485.2L227.6 482.5L229.8 479.8L232.0 477.2L234.2 474.5L236.4 471.8L238.6 469.1L240.8 466.4L243.0 463.8L245.2 461.1L247.4 458.5L249.6 455.8L251.8 453.1L254.0 450.4L256.2 447.6L258.4 444.7L260.6 441.7L262.8 438.6L265.0 435.3L267.2 431.9L269.3 428.4L271.5 424.7L273.7 420.9L275.9 417.1L278.1 413.1L280.3 409.2L282.5 405.3L284.7 401.4L286.9 397.6L289.1 393.9L291.3 390.3L293.5 386.7L295.7 383.1L297.9 379.6L300.1 376.1L302.3 372.6L304.5 369.1L306.7 365.6L308.9 362.0L311.1 358.5L313.3 354.8L315.5 351.2L317.7 347.5L319.9 343.9L322.1 340.3L324.3 336.7L326.4 333.2L328.6 329.7L330.8 326.2L333.0 322.8L335.2 319.5L337.4 316.4L339.6 313.5L341.8 310.7L344.0 308.1L346.2 305.5L348.4 303.0L350.6 300.6L352.8 298.3L355.0 296.0L357.2 293.9L359.4 291.8L361.6 289.8L363.8 288.0L366.0 286.2L368.2 284.5L370.4 282.8L372.6 281.1L374.8 279.3L377.0 277.5L379.2 275.7L381.4 273.8L383.5 272.1L385.7 270.4L387.9 268.9L390.1 267.5L392.3 266.2L394.5 265.0L396.7 263.9L398.9 262.8L401.1 261.7L403.3 260.7L405.5 259.7L407.7 258.7L409.9 257.8L412.1 256.8L414.3 255.8L416.5 254.9L418.7 254.0L420.9 253.1L423.1 252.2L425.3 251.4L427.5 250.5L429.7 249.8L431.9 249.0L434.1 248.3L436.3 247.6L438.4 246.9L440.6 246.3L442.8 245.6L445.0 245.0L447.2 244.4L449.4 243.7L451.6 243.1L453.8 242.5L456.0 241.8L458.2 241.1L460.4 240.5L462.6 239.8L464.8 239.1L467.0 238.5L469.2 237.8L471.4 237.2L473.6 236.6L475.8 236.0L478.0 235.4L480.2 234.9L482.4 234.4L484.6 234.0L486.8 233.5L489.0 233.1L491.2 232.7L493.4 232.3L495.5 231.9L497.7 231.5L499.9 231.0L502.1 230.6L504.3 230.1L506.5 229.6L508.7 229.1L510.9 228.5L513.1 228.0L515.3 227.5L517.5 226.9L519.7 226.4L521.9 225.8L524.1 225.3L526.3 224.8L528.5 224.2L530.7 223.7L532.9 223.2L535.1 222.7L537.3 222.1L539.5 221.6L541.7 221.0L543.9 220.5L546.1 219.9L548.3 219.3L550.5 218.7L552.6 218.1L554.8 217.4L557.0 216.8L559.2 216.1L561.4 215.4L563.6 214.7L565.8 214.0L568.0 213.2L570.2 212.4L572.4 211.6L574.6 210.7L576.8 209.9L579.0 209.0L581.2 208.0L583.4 207.1L585.6 206.1L587.8 205.1L590.0 204.0L592.2 202.9L594.4 201.8L596.6 200.6L598.8 199.4L601.0 198.1L603.2 196.8L605.4 195.6L607.5 194.3L609.7 193.0L611.9 191.8L614.1 190.6L616.3 189.4L618.5 188.2L620.7 186.9L622.9 185.7L625.1 184.5L627.3 183.3L629.5 182.1L631.7 180.9L633.9 179.6L636.1 178.4L638.3 177.1L640.5 175.9L642.7 174.7L644.9 173.4L647.1 172.1L649.3 170.8L651.5 169.5L653.7 168.2L655.9 166.9L658.1 165.5L660.3 164.2L662.5 162.8L664.6 161.4L666.8 160.0L669.0 158.5L671.2 157.1L673.4 155.6L675.6 154.1L677.8 152.6L680.0 151.0L682.2 149.5L684.4 147.9L686.6 146.3L688.8 144.6L691.0 143.0L693.2 141.3L695.4 139.6L697.6 137.8L699.8 136.1L702.0 134.3L704.2 132.4L706.4 130.6L708.6 128.7L710.8 126.7L713.0 124.8L715.2 122.8L717.4 120.8L719.6 118.7L721.7 116.6L723.9 114.5L726.1 112.4L728.3 110.2L730.5 108.0L732.7 105.7L734.9 103.5L737.1 101.2L739.3 98.8L741.5 96.5L743.7 94.2L745.9 91.8L748.1 89.4L750.3 87.0L752.5 84.6L754.7 82.2L756.9 79.7L759.1 77.3L761.3 74.8L763.5 72.2L765.7 69.7L767.9 67.2L770.1 64.6L772.3 62.0L774.5 59.4L776.6 56.8L778.8 54.1L781.0 51.4L783.2 48.8L785.4 46.1L787.6 43.3L789.8 40.6L792.0 37.8" stroke="#ff0000" stroke-opacity="0.4" stroke-width="3.0" />
<path d="M190.3 532.2L192.5 530.2L194.7 528.3L196.9 526.3L199.1 524.3L201.3 522.2L203.5 520.2L205.7 518.1L207.9 515.9L210.1 513.8L212.3 511.6L214.4 509.4L216.6 507.2L218.8 505.0L221.0 502.8L223.2 500.5L225.4 498.2L227.6 495.8L229.8 493.4L232.0 490.9L234.2 488.4L236.4 486.0L238.6 483.5L240.8 481.0L243.0 478.5L245.2 476.1L247.4 473.7L249.6 471.2L251.8 468.8L254.0 466.3L256.2 463.8L258.4 461.3L260.6 458.7L262.8 456.0L265.0 453.2L267.2 450.3L269.3 447.4L271.5 444.2L273.7 441.0L275.9 437.6L278.1 434.1L280.3 430.5L282.5 426.8L284.7 423.1L286.9 419.4L289.1 415.8L291.3 412.2L293.5 408.7L295.7 405.2L297.9 401.8L300.1 398.5L302.3 395.1L304.5 391.9L306.7 388.6L308.9 385.3L311.1 382.0L313.3 378.7L315.5 375.4L317.7 372.0L319.9 368.6L322.1 365.1L324.3 361.6L326.4 358.1L328.6 354.5L330.8 350.9L333.0 347.3L335.2 343.8L337.4 340.5L339.6 337.4L341.8 334.6L344.0 332.1L346.2 329.8L348.4 327.7L350.6 325.6L352.8 323.4L355.0 321.2L357.2 318.7L359.4 315.8L361.6 312.8L363.8 309.8L366.0 306.9L368.2 304.3L370.4 302.1L372.6 300.3L374.8 298.5L377.0 296.9L379.2 295.3L381.4 293.7L383.5 292.1L385.7 290.5L387.9 288.7L390.1 286.8L392.3 284.8L394.5 282.7L396.7 280.6L398.9 278.5L401.1 276.5L403.3 274.6L405.5 272.9L407.7 271.5L409.9 270.3L412.1 269.4L414.3 268.6L416.5 267.9L418.7 267.3L420.9 266.7L423.1 266.1L425.3 265.5L427.5 264.8L429.7 264.1L431.9 263.2L434.1 262.2L436.3 261.0L438.4 259.8L440.6 258.4L442.8 257.1L445.0 255.8L447.2 254.6L449.4 253.5L451.6 252.6L453.8 251.8L456.0 251.1L458.2 250.5L460.4 249.9L462.6 249.4L464.8 248.8L467.0 248.3L469.2 247.9L471.4 247.4L473.6 247.0L475.8 246.5L478.0 246.1L480.2 245.7L482.4 245.3L484.6 244.9L486.8 244.6L489.0 244.3L491.2 244.0L493.4 243.6L495.5 243.3L497.7 242.9L499.9 242.5L502.1 242.1L504.3 241.6L506.5 241.0L508.7 240.4L510.9 239.7L513.1 239.0L515.3 238.3L517.5 237.6L519.7 236.9L521.9 236.2L524.1 235.5L526.3 234.9L528.5 234.3L530.7 233.6L532.9 233.0L535.1 232.4L537.3 231.8L539.5 231.2L541.7 230.5L543.9 229.9L546.1 229.2L548.3 228.5L550.5 227.8L552.6 227.1L554.8 226.4L557.0 225.6L559.2 224.9L561.4 224.1L563.6 223.3L565.8 222.5L568.0 221.6L570.2 220.8L572.4 219.9L574.6 218.9L576.8 218.0L579.0 217.0L581.2 216.0L583.4 215.0L585.6 214.0L587.8 213.0L590.0 211.9L592.2 210.9L594.4 209.8L596.6 208.7L598.8 207.6L601.0 206.5L603.2 205.4L605.4 204.3L607.5 203.1L609.7 202.0L611.9 200.9L614.1 199.7L616.3 198.6L618.5 197.5L620.7 196.3L622.9 195.2L625.1 194.0L627.3 192.8L629.5 191.7L631.7 190.5L633.9 189.3L636.1 188.1L638.3 186.9L640.5 185.6L642.7 184.4L644.9 183.2L647.1 181.9L649.3 180.6L651.5 179.3L653.7 178.0L655.9 176.6L658.1 175.2L660.3 173.8L662.5 172.4L664.6 170.9L666.8 169.4L669.0 167.9L671.2 166.3L673.4 164.8L675.6 163.2L677.8 161.6L680.0 160.0L682.2 158.3L684.4 156.7L686.6 155.0L688.8 153.3L691.0 151.5L693.2 149.8L695.4 148.1L697.6 146.3L699.8 144.6L702.0 142.8L704.2 141.1L706.4 139.4L708.6 137.6L710.8 135.8L713.0 134.1L715.2 132.3L717.4 130.4L719.6 128.5L721.7 126.6L723.9 124.7L726.1 122.7L728.3 120.6L730.5 118.6L732.7 116.5L734.9 114.4L737.1 112.2L739.3 110.1L741.5 107.9L743.7 105.7L745.9 103.4L748.1 101.2L750.3 98.9L752.5 96.6L754.7 94.3L756.9 91.9L759.1 89.5L761.3 87.1L763.5 84.7L765.7 82.2L767.9 79.8L770.1 77.3L772.3 74.7L774.5 72.2L776.6 69.6L778.8 67.0L781.0 64.4L783.2 61.8L785.4 59.1L787.6 56.4L789.8 53.7L792.0 51.0" stroke="#ff0000" stroke-opacity="0.6" stroke-width="3.0" />
<path d="M190.3 541.1L192.5 539.5L194.7 537.9L196.9 536.2L199.1 534.6L201.3 532.8L203.5 531.1L205.7 529.3L207.9 527.5L210.1 525.6L212.3 523.7L214.4 521.8L216.6 519.9L218.8 517.9L221.0 515.9L223.2 513.9L225.4 511.9L227.6 509.9L229.8 507.8L232.0 505.7L234.2 503.5L236.4 501.2L238.6 498.9L240.8 496.6L243.0 494.2L245.2 491.9L247.4 489.5L249.6 487.3L251.8 485.0L254.0 482.8L256.2 480.5L258.4 478.2L260.6 476.0L262.8 473.6L265.0 471.3L267.2 468.8L269.3 466.3L271.5 463.8L273.7 461.1L275.9 458.3L278.1 455.3L280.3 452.2L282.5 449.0L284.7 445.7L286.9 442.2L289.1 438.8L291.3 435.3L293.5 431.9L295.7 428.5L297.9 425.1L300.1 421.9L302.3 418.7L304.5 415.5L306.7 412.4L308.9 409.3L311.1 406.2L313.3 403.2L315.5 400.1L317.7 397.1L319.9 394.0L322.1 390.9L324.3 387.8L326.4 384.7L328.6 381.5L330.8 378.3L333.0 374.9L335.2 371.5L337.4 368.1L339.6 364.8L341.8 361.5L344.0 358.2L346.2 355.1L348.4 352.0L350.6 349.0L352.8 346.0L355.0 343.1L357.2 340.3L359.4 337.5L361.6 334.8L363.8 332.2L366.0 329.7L368.2 327.2L370.4 324.7L372.6 322.3L374.8 319.9L377.0 317.5L379.2 315.1L381.4 312.7L383.5 310.5L385.7 308.2L387.9 306.1L390.1 303.9L392.3 301.9L394.5 299.9L396.7 297.9L398.9 296.0L401.1 294.1L403.3 292.2L405.5 290.4L407.7 288.7L409.9 287.0L412.1 285.3L414.3 283.7L416.5 282.2L418.7 280.6L420.9 279.1L423.1 277.7L425.3 276.3L427.5 274.9L429.7 273.6L431.9 272.3L434.1 271.1L436.3 269.9L438.4 268.7L440.6 267.6L442.8 266.5L445.0 265.4L447.2 264.4L449.4 263.4L451.6 262.5L453.8 261.7L456.0 260.8L458.2 260.0L460.4 259.3L462.6 258.5L464.8 257.8L467.0 257.1L469.2 256.4L471.4 255.8L473.6 255.2L475.8 254.6L478.0 254.0L480.2 253.5L482.4 253.0L484.6 252.6L486.8 252.2L489.0 251.8L491.2 251.4L493.4 251.1L495.5 250.7L497.7 250.3L499.9 249.8L502.1 249.3L504.3 248.7L506.5 248.0L508.7 247.3L510.9 246.6L513.1 245.8L515.3 245.0L517.5 244.2L519.7 243.4L521.9 242.6L524.1 241.9L526.3 241.2L528.5 240.5L530.7 239.8L532.9 239.2L535.1 238.5L537.3 237.9L539.5 237.2L541.7 236.5L543.9 235.8L546.1 235.0L548.3 234.3L550.5 233.5L552.6 232.8L554.8 232.0L557.0 231.2L559.2 230.4L561.4 229.5L563.6 228.7L565.8 227.8L568.0 226.9L570.2 226.0L572.4 225.0L574.6 224.1L576.8 223.1L579.0 222.0L581.2 221.0L583.4 220.0L585.6 218.9L587.8 217.9L590.0 216.9L592.2 215.8L594.4 214.8L596.6 213.8L598.8 212.8L601.0 211.8L603.2 210.8L605.4 209.7L607.5 208.7L609.7 207.6L611.9 206.6L614.1 205.5L616.3 204.4L618.5 203.3L620.7 202.2L622.9 201.1L625.1 200.0L627.3 198.8L629.5 197.7L631.7 196.5L633.9 195.4L636.1 194.2L638.3 193.0L640.5 191.8L642.7 190.5L644.9 189.3L647.1 188.1L649.3 186.8L651.5 185.5L653.7 184.1L655.9 182.8L658.1 181.3L660.3 179.9L662.5 178.4L664.6 176.9L666.8 175.3L669.0 173.7L671.2 172.2L673.4 170.5L675.6 168.9L677.8 167.3L680.0 165.6L682.2 163.9L684.4 162.2L686.6 160.5L688.8 158.7L691.0 156.9L693.2 155.2L695.4 153.4L697.6 151.7L699.8 150.0L702.0 148.3L704.2 146.6L706.4 144.9L708.6 143.3L710.8 141.6L713.0 139.9L715.2 138.2L717.4 136.5L719.6 134.7L721.7 132.9L723.9 131.1L726.1 129.2L728.3 127.3L730.5 125.3L732.7 123.3L734.9 121.3L737.1 119.2L739.3 117.2L741.5 115.1L743.7 113.0L745.9 110.8L748.1 108.6L750.3 106.4L752.5 104.2L754.7 101.9L756.9 99.6L759.1 97.3L761.3 95.0L763.5 92.6L765.7 90.2L767.9 87.8L770.1 85.3L772.3 82.8L774.5 80.3L776.6 77.8L778.8 75.2L781.0 72.7L783.2 70.1L785.4 67.4L787.6 64.8L789.8 62.1L792.0 59.4" stroke="#ff0000" stroke-opacity="0.8" stroke-width="3.0" />
<path d="M190.3 547.6L192.5 546.5L194.7 545.3L196.9 544.1L199.1 542.8L201.3 541.5L203.5 540.1L205.7 538.7L207.9 537.3L210.1 535.8L212.3 534.3L214.4 532.7L216.6 531.1L218.8 529.5L221.0 527.8L223.2 526.2L225.4 524.5L227.6 522.7L229.8 521.0L232.0 519.2L234.2 517.4L236.4 515.6L238.6 513.8L240.8 511.9L243.0 509.9L245.2 507.8L247.4 505.6L249.6 503.4L251.8 501.2L254.0 499.1L256.2 497.0L258.4 494.9L260.6 492.8L262.8 490.7L265.0 488.6L267.2 486.5L269.3 484.4L271.5 482.2L273.7 480.0L275.9 477.7L278.1 475.3L280.3 472.9L282.5 470.3L284.7 467.6L286.9 464.8L289.1 461.7L291.3 458.6L293.5 455.3L295.7 452.0L297.9 448.7L300.1 445.4L302.3 442.2L304.5 439.0L306.7 436.0L308.9 433.0L311.1 430.1L313.3 427.2L315.5 424.4L317.7 421.6L319.9 418.7L322.1 415.9L324.3 413.1L326.4 410.3L328.6 407.5L330.8 404.7L333.0 401.8L335.2 398.9L337.4 396.0L339.6 393.0L341.8 389.9L344.0 386.8L346.2 383.5L348.4 380.2L350.6 376.9L352.8 373.5L355.0 370.1L357.2 366.7L359.4 363.4L361.6 360.2L363.8 357.0L366.0 354.0L368.2 351.0L370.4 348.2L372.6 345.3L374.8 342.6L377.0 340.1L379.2 337.7L381.4 335.4L383.5 333.2L385.7 331.0L387.9 328.9L390.1 326.6L392.3 324.4L394.5 322.2L396.7 320.0L398.9 317.8L401.1 315.6L403.3 313.4L405.5 311.3L407.7 309.1L409.9 307.0L412.1 304.9L414.3 302.7L416.5 300.6L418.7 298.5L420.9 296.4L423.1 294.3L425.3 292.3L427.5 290.3L429.7 288.3L431.9 286.4L434.1 284.6L436.3 282.7L438.4 280.9L440.6 279.2L442.8 277.5L445.0 275.9L447.2 274.4L449.4 272.9L451.6 271.5L453.8 270.2L456.0 269.0L458.2 267.9L460.4 266.9L462.6 265.9L464.8 265.0L467.0 264.2L469.2 263.4L471.4 262.6L473.6 261.9L475.8 261.2L478.0 260.5L480.2 259.8L482.4 259.1L484.6 258.4L486.8 257.7L489.0 256.9L491.2 256.1L493.4 255.4L495.5 254.6L497.7 253.8L499.9 253.0L502.1 252.3L504.3 251.5L506.5 250.7L508.7 249.9L510.9 249.1L513.1 248.3L515.3 247.6L517.5 246.8L519.7 246.0L521.9 245.3L524.1 244.5L526.3 243.8L528.5 243.1L530.7 242.4L532.9 241.6L535.1 240.9L537.3 240.2L539.5 239.5L541.7 238.8L543.9 238.1L546.1 237.4L548.3 236.6L550.5 235.9L552.6 235.1L554.8 234.3L557.0 233.5L559.2 232.6L561.4 231.7L563.6 230.8L565.8 229.9L568.0 228.9L570.2 227.9L572.4 226.9L574.6 225.9L576.8 224.9L579.0 223.9L581.2 222.8L583.4 221.8L585.6 220.8L587.8 219.8L590.0 218.8L592.2 217.8L594.4 216.8L596.6 215.8L598.8 214.8L601.0 213.8L603.2 212.8L605.4 211.8L607.5 210.7L609.7 209.7L611.9 208.7L614.1 207.6L616.3 206.5L618.5 205.4L620.7 204.4L622.9 203.2L625.1 202.1L627.3 201.0L629.5 199.9L631.7 198.7L633.9 197.5L636.1 196.4L638.3 195.2L640.5 194.0L642.7 192.7L644.9 191.5L647.1 190.2L649.3 188.9L651.5 187.6L653.7 186.2L655.9 184.9L658.1 183.4L660.3 182.0L662.5 180.5L664.6 179.0L666.8 177.4L669.0 175.8L671.2 174.2L673.4 172.5L675.6 170.8L677.8 169.1L680.0 167.4L682.2 165.6L684.4 163.9L686.6 162.1L688.8 160.3L691.0 158.6L693.2 156.9L695.4 155.2L697.6 153.5L699.8 151.8L702.0 150.1L704.2 148.5L706.4 146.8L708.6 145.2L710.8 143.5L713.0 141.9L715.2 140.2L717.4 138.5L719.6 136.7L721.7 134.9L723.9 133.1L726.1 131.3L728.3 129.4L730.5 127.5L732.7 125.5L734.9 123.5L737.1 121.5L739.3 119.4L741.5 117.3L743.7 115.2L745.9 113.1L748.1 110.9L750.3 108.7L752.5 106.5L754.7 104.2L756.9 101.9L759.1 99.6L761.3 97.3L763.5 94.9L765.7 92.6L767.9 90.2L770.1 87.7L772.3 85.3L774.5 82.8L776.6 80.2L778.8 77.7L781.0 75.1L783.2 72.5L785.4 69.9L787.6 67.2L789.8 64.5L792.0 61.7" stroke="#ff0000" stroke-width="3.0" />
<path d="M190.3 1275.0L192.5 1274.8L194.7 1274.6L196.9 1274.4L199.1 1274.2L201.3 1274.0L203.5 1273.8L205.7 1273.5L207.8 1273.3L210.0 1273.1L212.2 1272.9L214.4 1272.6L216.6 1272.4L218.8 1272.1L221.0 1271.9L223.2 1271.6L225.4 1271.4L227.6 1271.1L229.8 1270.9L232.0 1270.6L234.2 1270.3L236.4 1270.1L238.6 1269.8L240.8 1269.5L243.0 1269.2L245.2 1268.9L247.3 1268.7L249.5 1268.4L251.7 1268.1L253.9 1267.8L256.1 1267.5L258.3 1267.2L260.5 1266.9L262.7 1266.6L264.9 1266.2L267.1 1265.9L269.3 1265.6L271.5 1265.3L273.7 1265.0L275.9 1264.7L278.1 1264.3L280.3 1264.0L282.5 1263.7L284.7 1263.3L286.8 1262.9L289.0 1262.6L291.2 1262.2L293.4 1261.8L295.6 1261.4L297.8 1261.0L300.0 1260.6L302.2 1260.2L304.4 1259.8L306.6 1259.3L308.8 1258.9L311.0 1258.5L313.2 1258.0L315.4 1257.6L317.6 1257.1L319.8 1256.7L322.0 1256.2L324.2 1255.8L326.3 1255.3L328.5 1254.8L330.7 1254.4L332.9 1253.9L335.1 1253.4L337.3 1253.0L339.5 1252.5L341.7 1252.0L343.9 1251.6L346.1 1251.1L348.3 1250.7L350.5 1250.2L352.7 1249.7L354.9 1249.3L357.1 1248.8L359.3 1248.4L361.5 1247.9L363.7 1247.5L365.9 1247.0L368.0 1246.6L370.2 1246.2L372.4 1245.8L374.6 1245.3L376.8 1244.9L379.0 1244.5L381.2 1244.1L383.4 1243.7L385.6 1243.4L387.8 1243.0L390.0 1242.6L392.2 1242.2L394.4 1241.9L396.6 1241.5L398.8 1241.2L401.0 1240.8L403.2 1240.5L405.4 1240.1L407.5 1239.8L409.7 1239.4L411.9 1239.1L414.1 1238.8L416.3 1238.4L418.5 1238.1L420.7 1237.7L422.9 1237.4L425.1 1237.1L427.3 1236.7L429.5 1236.4L431.7 1236.0L433.9 1235.7L436.1 1235.3L438.3 1235.0L440.5 1234.6L442.7 1234.3L444.9 1233.9L447.0 1233.5L449.2 1233.2L451.4 1232.8L453.6 1232.4L455.8 1232.0L458.0 1231.6L460.2 1231.2L462.4 1230.8L464.6 1230.4L466.8 1229.9L469.0 1229.5L471.2 1229.1L473.4 1228.6L475.6 1228.1L477.8 1227.7L480.0 1227.2L482.2 1226.7L484.4 1226.2L486.5 1225.6L488.7 1225.1L490.9 1224.6L493.1 1224.0L495.3 1223.5L497.5 1222.9L499.7 1222.3L501.9 1221.7L504.1 1221.1L506.3 1220.5L508.5 1219.9L510.7 1219.2L512.9 1218.6L515.1 1218.0L517.3 1217.3L519.5 1216.6L521.7 1216.0L523.9 1215.3L526.0 1214.6L528.2 1213.9L530.4 1213.2L532.6 1212.5L534.8 1211.8L537.0 1211.0L539.2 1210.3L541.4 1209.5L543.6 1208.7L545.8 1207.8L548.0 1207.0L550.2 1206.1L552.4 1205.3L554.6 1204.4L556.8 1203.5L559.0 1202.6L561.2 1201.8L563.4 1200.9L565.5 1200.0L567.7 1199.1L569.9 1198.2L572.1 1197.3L574.3 1196.5L576.5 1195.6L578.7 1194.7L580.9 1193.9L583.1 1193.1L585.3 1192.3L587.5 1191.5L589.7 1190.7L591.9 1189.9L594.1 1189.2L596.3 1188.6L598.5 1187.9L600.7 1187.3L602.9 1186.7L605.1 1186.0L607.2 1185.4L609.4 1184.7L611.6 1183.9L613.8 1183.1L616.0 1182.3L618.2 1181.3L620.4 1180.2L622.6 1179.0L624.8 1177.7L627.0 1176.2L629.2 1174.6L631.4 1172.9L633.6 1171.2L635.8 1169.4L638.0 1167.7L640.2 1165.9L642.4 1164.1L644.6 1162.4L646.7 1160.7L648.9 1159.1L651.1 1157.4L653.3 1155.6L655.5 1153.8L657.7 1151.9L659.9 1150.0L662.1 1148.1L664.3 1146.2L666.5 1144.3L668.7 1142.5L670.9 1140.8L673.1 1139.2L675.3 1137.8L677.5 1136.5L679.7 1135.4L681.9 1134.5L684.1 1133.8L686.2 1133.3L688.4 1132.8L690.6 1132.5L692.8 1132.1L695.0 1131.8L697.2 1131.6L699.4 1131.3L701.6 1130.9L703.8 1130.6L706.0 1130.1L708.2 1129.6L710.4 1128.9L712.6 1128.1L714.8 1127.2L717.0 1126.2L719.2 1125.2L721.4 1124.1L723.6 1122.9L725.7 1121.8L727.9 1120.7L730.1 1119.6L732.3 1118.5L734.5 1117.4L736.7 1116.4L738.9 1115.3L741.1 1114.2L743.3 1113.0L745.5 1111.8L747.7 1110.6L749.9 1109.3L752.1 1107.9L754.3 1106.4L756.5 1104.8L758.7 1103.0L760.9 1101.0L763.1 1099.0L765.2 1096.8L767.4 1094.5L769.6 1092.1L771.8 1089.6L774.0 1087.0L776.2 1084.4L778.4 1081.8L780.6 1079.1L782.8 1076.5L785.0 1073.8L787.2 1071.2L789.4 1068.6L791.6 1066.0L793.8 1063.5L796.0 1061.1L798.2 1058.8L800.4 1056.6L802.6 1054.5L804.8 1052.5" stroke="#ff0000" stroke-opacity="0.2" stroke-width="3.0" stroke-dasharray="4.4 9"/>
<path d="M190.3 1281.0L192.5 1280.7L194.7 1280.4L196.9 1280.1L199.1 1279.8L201.3 1279.5L203.5 1279.2L205.7 1278.9L207.8 1278.6L210.0 1278.3L212.2 1278.0L214.4 1277.7L216.6 1277.4L218.8 1277.1L221.0 1276.8L223.2 1276.4L225.4 1276.1L227.6 1275.8L229.8 1275.5L232.0 1275.2L234.2 1274.8L236.4 1274.5L238.6 1274.2L240.8 1273.9L243.0 1273.5L245.2 1273.2L247.3 1272.9L249.5 1272.5L251.7 1272.2L253.9 1271.9L256.1 1271.5L258.3 1271.2L260.5 1270.9L262.7 1270.5L264.9 1270.2L267.1 1269.9L269.3 1269.5L271.5 1269.2L273.7 1268.8L275.9 1268.5L278.1 1268.2L280.3 1267.8L282.5 1267.5L284.7 1267.1L286.8 1266.8L289.0 1266.4L291.2 1266.0L293.4 1265.7L295.6 1265.3L297.8 1264.9L300.0 1264.6L302.2 1264.2L304.4 1263.8L306.6 1263.4L308.8 1263.0L311.0 1262.6L313.2 1262.2L315.4 1261.8L317.6 1261.4L319.8 1261.0L322.0 1260.6L324.2 1260.2L326.3 1259.8L328.5 1259.4L330.7 1259.0L332.9 1258.6L335.1 1258.2L337.3 1257.7L339.5 1257.3L341.7 1256.9L343.9 1256.5L346.1 1256.1L348.3 1255.6L350.5 1255.2L352.7 1254.8L354.9 1254.4L357.1 1253.9L359.3 1253.5L361.5 1253.1L363.7 1252.7L365.9 1252.2L368.0 1251.8L370.2 1251.4L372.4 1250.9L374.6 1250.5L376.8 1250.0L379.0 1249.6L381.2 1249.1L383.4 1248.7L385.6 1248.2L387.8 1247.8L390.0 1247.4L392.2 1246.9L394.4 1246.5L396.6 1246.1L398.8 1245.7L401.0 1245.3L403.2 1244.9L405.4 1244.6L407.5 1244.2L409.7 1243.9L411.9 1243.5L414.1 1243.2L416.3 1242.9L418.5 1242.5L420.7 1242.2L422.9 1241.9L425.1 1241.6L427.3 1241.3L429.5 1240.9L431.7 1240.6L433.9 1240.3L436.1 1240.0L438.3 1239.7L440.5 1239.3L442.7 1239.0L444.9 1238.7L447.0 1238.4L449.2 1238.0L451.4 1237.7L453.6 1237.4L455.8 1237.0L458.0 1236.7L460.2 1236.3L462.4 1235.9L464.6 1235.6L466.8 1235.2L469.0 1234.8L471.2 1234.4L473.4 1234.0L475.6 1233.6L477.8 1233.1L480.0 1232.7L482.2 1232.3L484.4 1231.8L486.5 1231.3L488.7 1230.8L490.9 1230.3L493.1 1229.8L495.3 1229.3L497.5 1228.8L499.7 1228.3L501.9 1227.7L504.1 1227.2L506.3 1226.6L508.5 1226.1L510.7 1225.5L512.9 1224.9L515.1 1224.3L517.3 1223.7L519.5 1223.1L521.7 1222.5L523.9 1221.9L526.0 1221.3L528.2 1220.7L530.4 1220.0L532.6 1219.4L534.8 1218.7L537.0 1218.0L539.2 1217.3L541.4 1216.6L543.6 1215.9L545.8 1215.1L548.0 1214.4L550.2 1213.6L552.4 1212.8L554.6 1212.0L556.8 1211.2L559.0 1210.4L561.2 1209.6L563.4 1208.8L565.5 1208.0L567.7 1207.2L569.9 1206.4L572.1 1205.6L574.3 1204.8L576.5 1204.0L578.7 1203.2L580.9 1202.4L583.1 1201.6L585.3 1200.9L587.5 1200.1L589.7 1199.4L591.9 1198.7L594.1 1198.0L596.3 1197.3L598.5 1196.7L600.7 1196.1L602.9 1195.4L605.1 1194.8L607.2 1194.2L609.4 1193.5L611.6 1192.9L613.8 1192.2L616.0 1191.5L618.2 1190.7L620.4 1189.8L622.6 1188.8L624.8 1187.7L627.0 1186.5L629.2 1185.3L631.4 1183.9L633.6 1182.5L635.8 1181.0L638.0 1179.5L640.2 1178.0L642.4 1176.5L644.6 1175.0L646.7 1173.5L648.9 1172.0L651.1 1170.5L653.3 1168.8L655.5 1167.1L657.7 1165.3L659.9 1163.4L662.1 1161.5L664.3 1159.7L666.5 1157.9L668.7 1156.1L670.9 1154.4L673.1 1152.9L675.3 1151.4L677.5 1150.1L679.7 1149.0L681.9 1148.0L684.1 1147.1L686.2 1146.4L688.4 1145.8L690.6 1145.2L692.8 1144.7L695.0 1144.2L697.2 1143.7L699.4 1143.1L701.6 1142.6L703.8 1142.0L706.0 1141.4L708.2 1140.7L710.4 1139.9L712.6 1139.0L714.8 1138.1L717.0 1137.1L719.2 1136.0L721.4 1134.9L723.6 1133.8L725.7 1132.7L727.9 1131.6L730.1 1130.4L732.3 1129.3L734.5 1128.2L736.7 1127.0L738.9 1125.9L741.1 1124.7L743.3 1123.5L745.5 1122.2L747.7 1120.9L749.9 1119.5L752.1 1118.1L754.3 1116.6L756.5 1115.0L758.7 1113.3L760.9 1111.4L763.1 1109.5L765.2 1107.5L767.4 1105.3L769.6 1103.1L771.8 1100.8L774.0 1098.4L776.2 1096.0L778.4 1093.5L780.6 1091.0L782.8 1088.5L785.0 1086.0L787.2 1083.5L789.4 1081.1L791.6 1078.7L793.8 1076.4L796.0 1074.1L798.2 1072.0L800.4 1069.9L802.6 1068.0L804.8 1066.3" stroke="#ff0000" stroke-opacity="0.4" stroke-width="3.0" stroke-dasharray="4.4 9"/>
<path d="M190.3 1286.0L192.5 1285.6L194.7 1285.2L196.9 1284.9L199.1 1284.5L201.3 1284.1L203.5 1283.8L205.7 1283.4L207.8 1283.0L210.0 1282.7L212.2 1282.3L214.4 1281.9L216.6 1281.6L218.8 1281.2L221.0 1280.8L223.2 1280.4L225.4 1280.1L227.6 1279.7L229.8 1279.3L232.0 1279.0L234.2 1278.6L236.4 1278.2L238.6 1277.9L240.8 1277.5L243.0 1277.1L245.2 1276.8L247.3 1276.4L249.5 1276.0L251.7 1275.7L253.9 1275.3L256.1 1274.9L258.3 1274.6L260.5 1274.2L262.7 1273.8L264.9 1273.5L267.1 1273.1L269.3 1272.8L271.5 1272.4L273.7 1272.1L275.9 1271.7L278.1 1271.4L280.3 1271.0L282.5 1270.6L284.7 1270.3L286.8 1269.9L289.0 1269.6L291.2 1269.2L293.4 1268.9L295.6 1268.5L297.8 1268.2L300.0 1267.8L302.2 1267.5L304.4 1267.1L306.6 1266.8L308.8 1266.4L311.0 1266.1L313.2 1265.7L315.4 1265.4L317.6 1265.0L319.8 1264.7L322.0 1264.3L324.2 1263.9L326.3 1263.6L328.5 1263.2L330.7 1262.8L332.9 1262.5L335.1 1262.1L337.3 1261.7L339.5 1261.3L341.7 1261.0L343.9 1260.6L346.1 1260.2L348.3 1259.8L350.5 1259.4L352.7 1259.0L354.9 1258.6L357.1 1258.2L359.3 1257.8L361.5 1257.4L363.7 1257.0L365.9 1256.5L368.0 1256.1L370.2 1255.7L372.4 1255.2L374.6 1254.7L376.8 1254.2L379.0 1253.8L381.2 1253.3L383.4 1252.8L385.6 1252.3L387.8 1251.8L390.0 1251.3L392.2 1250.8L394.4 1250.4L396.6 1249.9L398.8 1249.5L401.0 1249.1L403.2 1248.7L405.4 1248.3L407.5 1247.9L409.7 1247.6L411.9 1247.2L414.1 1246.9L416.3 1246.6L418.5 1246.3L420.7 1246.0L422.9 1245.6L425.1 1245.3L427.3 1245.0L429.5 1244.7L431.7 1244.5L433.9 1244.2L436.1 1243.9L438.3 1243.6L440.5 1243.3L442.7 1243.0L444.9 1242.7L447.0 1242.4L449.2 1242.1L451.4 1241.8L453.6 1241.5L455.8 1241.2L458.0 1240.9L460.2 1240.6L462.4 1240.2L464.6 1239.9L466.8 1239.6L469.0 1239.2L471.2 1238.8L473.4 1238.5L475.6 1238.1L477.8 1237.7L480.0 1237.3L482.2 1236.9L484.4 1236.5L486.5 1236.0L488.7 1235.6L490.9 1235.2L493.1 1234.7L495.3 1234.2L497.5 1233.7L499.7 1233.3L501.9 1232.8L504.1 1232.3L506.3 1231.8L508.5 1231.2L510.7 1230.7L512.9 1230.2L515.1 1229.6L517.3 1229.1L519.5 1228.6L521.7 1228.0L523.9 1227.4L526.0 1226.9L528.2 1226.3L530.4 1225.7L532.6 1225.1L534.8 1224.5L537.0 1223.9L539.2 1223.2L541.4 1222.6L543.6 1221.9L545.8 1221.2L548.0 1220.5L550.2 1219.8L552.4 1219.1L554.6 1218.3L556.8 1217.6L559.0 1216.9L561.2 1216.1L563.4 1215.4L565.5 1214.6L567.7 1213.9L569.9 1213.2L572.1 1212.4L574.3 1211.7L576.5 1210.9L578.7 1210.2L580.9 1209.5L583.1 1208.8L585.3 1208.1L587.5 1207.4L589.7 1206.7L591.9 1206.0L594.1 1205.3L596.3 1204.7L598.5 1204.0L600.7 1203.4L602.9 1202.8L605.1 1202.2L607.2 1201.5L609.4 1200.9L611.6 1200.3L613.8 1199.7L616.0 1199.1L618.2 1198.5L620.4 1197.8L622.6 1197.0L624.8 1196.1L627.0 1195.2L629.2 1194.2L631.4 1193.1L633.6 1191.9L635.8 1190.7L638.0 1189.4L640.2 1188.1L642.4 1186.8L644.6 1185.4L646.7 1184.1L648.9 1182.8L651.1 1181.3L653.3 1179.8L655.5 1178.1L657.7 1176.4L659.9 1174.6L662.1 1172.8L664.3 1171.0L666.5 1169.2L668.7 1167.4L670.9 1165.8L673.1 1164.2L675.3 1162.8L677.5 1161.5L679.7 1160.3L681.9 1159.2L684.1 1158.3L686.2 1157.4L688.4 1156.6L690.6 1155.9L692.8 1155.2L695.0 1154.5L697.2 1153.8L699.4 1153.0L701.6 1152.3L703.8 1151.6L706.0 1150.8L708.2 1149.9L710.4 1149.0L712.6 1148.1L714.8 1147.1L717.0 1146.1L719.2 1145.1L721.4 1144.0L723.6 1142.9L725.7 1141.8L727.9 1140.6L730.1 1139.5L732.3 1138.3L734.5 1137.1L736.7 1135.9L738.9 1134.7L741.1 1133.4L743.3 1132.2L745.5 1130.8L747.7 1129.5L749.9 1128.1L752.1 1126.6L754.3 1125.1L756.5 1123.5L758.7 1121.9L760.9 1120.1L763.1 1118.3L765.2 1116.4L767.4 1114.4L769.6 1112.3L771.8 1110.2L774.0 1107.9L776.2 1105.6L778.4 1103.3L780.6 1100.9L782.8 1098.5L785.0 1096.2L787.2 1093.8L789.4 1091.5L791.6 1089.2L793.8 1087.0L796.0 1084.9L798.2 1082.9L800.4 1081.0L802.6 1079.3L804.8 1077.7" stroke="#ff0000" stroke-opacity="0.6" stroke-width="3.0" stroke-dasharray="4.4 9"/>
<path d="M190.3 1291.0L192.5 1290.5L194.7 1290.1L196.9 1289.6L199.1 1289.2L201.3 1288.8L203.5 1288.3L205.7 1287.9L207.8 1287.4L210.0 1287.0L212.2 1286.6L214.4 1286.1L216.6 1285.7L218.8 1285.3L221.0 1284.9L223.2 1284.4L225.4 1284.0L227.6 1283.6L229.8 1283.2L232.0 1282.8L234.2 1282.3L236.4 1281.9L238.6 1281.5L240.8 1281.1L243.0 1280.7L245.2 1280.3L247.3 1279.9L249.5 1279.5L251.7 1279.1L253.9 1278.7L256.1 1278.3L258.3 1277.9L260.5 1277.5L262.7 1277.2L264.9 1276.8L267.1 1276.4L269.3 1276.0L271.5 1275.6L273.7 1275.3L275.9 1274.9L278.1 1274.5L280.3 1274.2L282.5 1273.8L284.7 1273.5L286.8 1273.1L289.0 1272.8L291.2 1272.5L293.4 1272.1L295.6 1271.8L297.8 1271.5L300.0 1271.1L302.2 1270.8L304.4 1270.5L306.6 1270.2L308.8 1269.9L311.0 1269.5L313.2 1269.2L315.4 1268.9L317.6 1268.6L319.8 1268.3L322.0 1268.0L324.2 1267.6L326.3 1267.3L328.5 1267.0L330.7 1266.7L332.9 1266.3L335.1 1266.0L337.3 1265.7L339.5 1265.3L341.7 1265.0L343.9 1264.7L346.1 1264.3L348.3 1263.9L350.5 1263.6L352.7 1263.2L354.9 1262.8L357.1 1262.5L359.3 1262.1L361.5 1261.7L363.7 1261.3L365.9 1260.9L368.0 1260.4L370.2 1260.0L372.4 1259.5L374.6 1259.0L376.8 1258.5L379.0 1258.0L381.2 1257.4L383.4 1256.9L385.6 1256.3L387.8 1255.8L390.0 1255.2L392.2 1254.7L394.4 1254.2L396.6 1253.7L398.8 1253.2L401.0 1252.8L403.2 1252.4L405.4 1252.0L407.5 1251.6L409.7 1251.3L411.9 1250.9L414.1 1250.6L416.3 1250.3L418.5 1250.0L420.7 1249.7L422.9 1249.4L425.1 1249.1L427.3 1248.8L429.5 1248.6L431.7 1248.3L433.9 1248.0L436.1 1247.7L438.3 1247.5L440.5 1247.2L442.7 1247.0L444.9 1246.7L447.0 1246.4L449.2 1246.2L451.4 1245.9L453.6 1245.6L455.8 1245.4L458.0 1245.1L460.2 1244.8L462.4 1244.5L464.6 1244.2L466.8 1243.9L469.0 1243.6L471.2 1243.3L473.4 1243.0L475.6 1242.6L477.8 1242.3L480.0 1241.9L482.2 1241.5L484.4 1241.2L486.5 1240.8L488.7 1240.4L490.9 1240.0L493.1 1239.5L495.3 1239.1L497.5 1238.7L499.7 1238.2L501.9 1237.8L504.1 1237.3L506.3 1236.9L508.5 1236.4L510.7 1235.9L512.9 1235.5L515.1 1235.0L517.3 1234.5L519.5 1234.0L521.7 1233.5L523.9 1232.9L526.0 1232.4L528.2 1231.9L530.4 1231.4L532.6 1230.8L534.8 1230.3L537.0 1229.7L539.2 1229.1L541.4 1228.5L543.6 1227.9L545.8 1227.3L548.0 1226.6L550.2 1226.0L552.4 1225.3L554.6 1224.7L556.8 1224.0L559.0 1223.3L561.2 1222.7L563.4 1222.0L565.5 1221.3L567.7 1220.6L569.9 1219.9L572.1 1219.3L574.3 1218.6L576.5 1217.9L578.7 1217.3L580.9 1216.6L583.1 1215.9L585.3 1215.3L587.5 1214.6L589.7 1213.9L591.9 1213.3L594.1 1212.6L596.3 1212.0L598.5 1211.3L600.7 1210.7L602.9 1210.1L605.1 1209.5L607.2 1208.9L609.4 1208.3L611.6 1207.8L613.8 1207.3L616.0 1206.8L618.2 1206.3L620.4 1205.8L622.6 1205.2L624.8 1204.5L627.0 1203.8L629.2 1203.1L631.4 1202.2L633.6 1201.3L635.8 1200.3L638.0 1199.3L640.2 1198.2L642.4 1197.1L644.6 1195.9L646.7 1194.7L648.9 1193.5L651.1 1192.2L653.3 1190.8L655.5 1189.2L657.7 1187.5L659.9 1185.8L662.1 1184.0L664.3 1182.2L666.5 1180.5L668.7 1178.7L670.9 1177.1L673.1 1175.5L675.3 1174.1L677.5 1172.8L679.7 1171.6L681.9 1170.5L684.1 1169.4L686.2 1168.4L688.4 1167.5L690.6 1166.5L692.8 1165.6L695.0 1164.7L697.2 1163.8L699.4 1163.0L701.6 1162.1L703.8 1161.1L706.0 1160.2L708.2 1159.2L710.4 1158.2L712.6 1157.2L714.8 1156.2L717.0 1155.2L719.2 1154.1L721.4 1153.0L723.6 1151.9L725.7 1150.8L727.9 1149.7L730.1 1148.5L732.3 1147.3L734.5 1146.0L736.7 1144.8L738.9 1143.5L741.1 1142.2L743.3 1140.9L745.5 1139.5L747.7 1138.1L749.9 1136.6L752.1 1135.2L754.3 1133.6L756.5 1132.1L758.7 1130.4L760.9 1128.8L763.1 1127.1L765.2 1125.3L767.4 1123.5L769.6 1121.5L771.8 1119.5L774.0 1117.4L776.2 1115.3L778.4 1113.0L780.6 1110.8L782.8 1108.6L785.0 1106.3L787.2 1104.1L789.4 1101.9L791.6 1099.8L793.8 1097.7L796.0 1095.8L798.2 1093.9L800.4 1092.1L802.6 1090.6L804.8 1089.1" stroke="#ff0000" stroke-opacity="0.8" stroke-width="3.0" stroke-dasharray="4.4 9"/>
<path d="M190.3 1295.0L192.5 1294.5L194.7 1294.0L196.9 1293.5L199.1 1293.0L201.3 1292.5L203.5 1292.0L205.7 1291.5L207.8 1291.0L210.0 1290.5L212.2 1290.0L214.4 1289.5L216.6 1289.1L218.8 1288.6L221.0 1288.1L223.2 1287.6L225.4 1287.2L227.6 1286.7L229.8 1286.3L232.0 1285.8L234.2 1285.3L236.4 1284.9L238.6 1284.5L240.8 1284.0L243.0 1283.6L245.2 1283.1L247.3 1282.7L249.5 1282.3L251.7 1281.9L253.9 1281.4L256.1 1281.0L258.3 1280.6L260.5 1280.2L262.7 1279.8L264.9 1279.4L267.1 1279.0L269.3 1278.6L271.5 1278.2L273.7 1277.9L275.9 1277.5L278.1 1277.1L280.3 1276.7L282.5 1276.4L284.7 1276.0L286.8 1275.7L289.0 1275.3L291.2 1275.0L293.4 1274.7L295.6 1274.4L297.8 1274.1L300.0 1273.8L302.2 1273.5L304.4 1273.2L306.6 1272.9L308.8 1272.6L311.0 1272.3L313.2 1272.0L315.4 1271.7L317.6 1271.5L319.8 1271.2L322.0 1270.9L324.2 1270.6L326.3 1270.3L328.5 1270.0L330.7 1269.7L332.9 1269.5L335.1 1269.2L337.3 1268.9L339.5 1268.5L341.7 1268.2L343.9 1267.9L346.1 1267.6L348.3 1267.3L350.5 1266.9L352.7 1266.6L354.9 1266.2L357.1 1265.9L359.3 1265.5L361.5 1265.1L363.7 1264.7L365.9 1264.3L368.0 1263.9L370.2 1263.4L372.4 1262.9L374.6 1262.4L376.8 1261.9L379.0 1261.3L381.2 1260.7L383.4 1260.1L385.6 1259.6L387.8 1259.0L390.0 1258.4L392.2 1257.8L394.4 1257.3L396.6 1256.8L398.8 1256.3L401.0 1255.8L403.2 1255.4L405.4 1255.0L407.5 1254.6L409.7 1254.2L411.9 1253.9L414.1 1253.6L416.3 1253.3L418.5 1253.0L420.7 1252.7L422.9 1252.4L425.1 1252.1L427.3 1251.9L429.5 1251.6L431.7 1251.3L433.9 1251.1L436.1 1250.8L438.3 1250.6L440.5 1250.4L442.7 1250.1L444.9 1249.9L447.0 1249.7L449.2 1249.4L451.4 1249.2L453.6 1249.0L455.8 1248.7L458.0 1248.5L460.2 1248.2L462.4 1248.0L464.6 1247.7L466.8 1247.4L469.0 1247.1L471.2 1246.9L473.4 1246.6L475.6 1246.2L477.8 1245.9L480.0 1245.6L482.2 1245.3L484.4 1244.9L486.5 1244.5L488.7 1244.2L490.9 1243.8L493.1 1243.4L495.3 1243.0L497.5 1242.6L499.7 1242.2L501.9 1241.8L504.1 1241.4L506.3 1241.0L508.5 1240.5L510.7 1240.1L512.9 1239.7L515.1 1239.2L517.3 1238.8L519.5 1238.3L521.7 1237.8L523.9 1237.4L526.0 1236.9L528.2 1236.4L530.4 1235.9L532.6 1235.4L534.8 1234.9L537.0 1234.4L539.2 1233.8L541.4 1233.3L543.6 1232.7L545.8 1232.1L548.0 1231.5L550.2 1230.9L552.4 1230.3L554.6 1229.7L556.8 1229.1L559.0 1228.5L561.2 1227.9L563.4 1227.3L565.5 1226.6L567.7 1226.0L569.9 1225.4L572.1 1224.7L574.3 1224.1L576.5 1223.5L578.7 1222.9L580.9 1222.3L583.1 1221.7L585.3 1221.0L587.5 1220.4L589.7 1219.8L591.9 1219.1L594.1 1218.5L596.3 1217.8L598.5 1217.2L600.7 1216.5L602.9 1215.9L605.1 1215.3L607.2 1214.8L609.4 1214.3L611.6 1213.8L613.8 1213.3L616.0 1212.9L618.2 1212.5L620.4 1212.1L622.6 1211.7L624.8 1211.3L627.0 1210.8L629.2 1210.2L631.4 1209.6L633.6 1208.8L635.8 1208.1L638.0 1207.2L640.2 1206.3L642.4 1205.3L644.6 1204.3L646.7 1203.3L648.9 1202.2L651.1 1200.9L653.3 1199.5L655.5 1198.0L657.7 1196.4L659.9 1194.7L662.1 1193.0L664.3 1191.2L666.5 1189.5L668.7 1187.8L670.9 1186.2L673.1 1184.6L675.3 1183.2L677.5 1181.9L679.7 1180.7L681.9 1179.5L684.1 1178.3L686.2 1177.2L688.4 1176.1L690.6 1175.0L692.8 1174.0L695.0 1172.9L697.2 1171.9L699.4 1170.9L701.6 1169.8L703.8 1168.8L706.0 1167.7L708.2 1166.6L710.4 1165.5L712.6 1164.5L714.8 1163.4L717.0 1162.4L719.2 1161.3L721.4 1160.3L723.6 1159.2L725.7 1158.1L727.9 1156.9L730.1 1155.7L732.3 1154.5L734.5 1153.2L736.7 1151.9L738.9 1150.6L741.1 1149.2L743.3 1147.8L745.5 1146.4L747.7 1144.9L749.9 1143.5L752.1 1142.0L754.3 1140.4L756.5 1138.9L758.7 1137.3L760.9 1135.7L763.1 1134.1L765.2 1132.4L767.4 1130.7L769.6 1128.9L771.8 1127.0L774.0 1125.0L776.2 1123.0L778.4 1120.9L780.6 1118.7L782.8 1116.6L785.0 1114.4L787.2 1112.3L789.4 1110.3L791.6 1108.2L793.8 1106.3L796.0 1104.4L798.2 1102.7L800.4 1101.0L802.6 1099.6L804.8 1098.3" stroke="#ff0000" stroke-width="3.0" stroke-dasharray="4.4 9"/>
<path d="M190.3 1264.3L192.5 1263.7L194.7 1263.1L196.9 1262.5L199.1 1261.9L201.3 1261.2L203.5 1260.6L205.7 1260.0L207.8 1259.4L210.0 1258.9L212.2 1258.3L214.4 1257.7L216.6 1257.1L218.8 1256.6L221.0 1256.0L223.2 1255.5L225.4 1254.9L227.6 1254.4L229.8 1253.8L232.0 1253.3L234.2 1252.8L236.4 1252.3L238.6 1251.8L240.8 1251.3L243.0 1250.8L245.2 1250.4L247.3 1249.9L249.5 1249.4L251.7 1249.0L253.9 1248.6L256.1 1248.1L258.3 1247.7L260.5 1247.3L262.7 1246.9L264.9 1246.6L267.1 1246.2L269.3 1245.8L271.5 1245.5L273.7 1245.2L275.9 1244.8L278.1 1244.5L280.3 1244.2L282.5 1244.0L284.7 1243.7L286.8 1243.4L289.0 1243.2L291.2 1242.9L293.4 1242.7L295.6 1242.4L297.8 1242.2L300.0 1242.0L302.2 1241.8L304.4 1241.6L306.6 1241.4L308.8 1241.2L311.0 1241.0L313.2 1240.8L315.4 1240.6L317.6 1240.5L319.8 1240.3L322.0 1240.1L324.2 1239.9L326.3 1239.8L328.5 1239.6L330.7 1239.4L332.9 1239.2L335.1 1239.1L337.3 1238.9L339.5 1238.7L341.7 1238.5L343.9 1238.4L346.1 1238.2L348.3 1238.0L350.5 1237.8L352.7 1237.6L354.9 1237.4L357.1 1237.2L359.3 1237.0L361.5 1236.8L363.7 1236.6L365.9 1236.3L368.0 1236.1L370.2 1235.8L372.4 1235.6L374.6 1235.3L376.8 1235.0L379.0 1234.7L381.2 1234.4L383.4 1234.1L385.6 1233.8L387.8 1233.4L390.0 1233.0L392.2 1232.6L394.4 1232.2L396.6 1231.8L398.8 1231.4L401.0 1230.9L403.2 1230.5L405.4 1230.1L407.5 1229.6L409.7 1229.2L411.9 1228.7L414.1 1228.2L416.3 1227.8L418.5 1227.3L420.7 1226.8L422.9 1226.3L425.1 1225.8L427.3 1225.3L429.5 1224.8L431.7 1224.3L433.9 1223.8L436.1 1223.2L438.3 1222.7L440.5 1222.2L442.7 1221.6L444.9 1221.1L447.0 1220.5L449.2 1220.0L451.4 1219.4L453.6 1218.9L455.8 1218.3L458.0 1217.8L460.2 1217.2L462.4 1216.7L464.6 1216.1L466.8 1215.5L469.0 1215.0L471.2 1214.4L473.4 1213.9L475.6 1213.3L477.8 1212.7L480.0 1212.2L482.2 1211.6L484.4 1211.1L486.5 1210.5L488.7 1210.0L490.9 1209.5L493.1 1208.9L495.3 1208.4L497.5 1207.9L499.7 1207.3L501.9 1206.8L504.1 1206.2L506.3 1205.7L508.5 1205.1L510.7 1204.5L512.9 1204.0L515.1 1203.4L517.3 1202.8L519.5 1202.1L521.7 1201.5L523.9 1200.8L526.0 1200.1L528.2 1199.4L530.4 1198.7L532.6 1197.9L534.8 1197.1L537.0 1196.2L539.2 1195.2L541.4 1194.2L543.6 1193.1L545.8 1192.0L548.0 1190.9L550.2 1189.7L552.4 1188.5L554.6 1187.4L556.8 1186.2L559.0 1185.0L561.2 1183.8L563.4 1182.7L565.5 1181.6L567.7 1180.5L569.9 1179.5L572.1 1178.5L574.3 1177.6L576.5 1176.7L578.7 1175.9L580.9 1175.2L583.1 1174.6L585.3 1174.0L587.5 1173.5L589.7 1172.9L591.9 1172.4L594.1 1171.9L596.3 1171.4L598.5 1171.0L600.7 1170.6L602.9 1170.2L605.1 1169.8L607.2 1169.5L609.4 1169.1L611.6 1168.9L613.8 1168.7L616.0 1168.5L618.2 1168.3L620.4 1168.1L622.6 1167.9L624.8 1167.7L627.0 1167.4L629.2 1167.0L631.4 1166.3L633.6 1165.3L635.8 1163.9L638.0 1162.3L640.2 1160.5L642.4 1158.7L644.6 1156.7L646.7 1154.9L648.9 1153.1L651.1 1151.1L653.3 1149.0L655.5 1146.7L657.7 1144.2L659.9 1141.7L662.1 1139.3L664.3 1136.9L666.5 1134.6L668.7 1132.6L670.9 1130.8L673.1 1129.4L675.3 1128.3L677.5 1127.6L679.7 1127.1L681.9 1126.6L684.1 1126.1L686.2 1125.8L688.4 1125.4L690.6 1125.1L692.8 1124.9L695.0 1124.6L697.2 1124.3L699.4 1123.9L701.6 1123.5L703.8 1123.0L706.0 1122.5L708.2 1121.9L710.4 1121.0L712.6 1120.0L714.8 1118.7L717.0 1117.4L719.2 1116.0L721.4 1114.5L723.6 1113.0L725.7 1111.5L727.9 1110.0L730.1 1108.7L732.3 1107.4L734.5 1106.2L736.7 1105.1L738.9 1104.0L741.1 1102.9L743.3 1101.8L745.5 1100.7L747.7 1099.6L749.9 1098.5L752.1 1097.3L754.3 1096.1L756.5 1094.9L758.7 1093.6L760.9 1092.2L763.1 1090.7L765.2 1089.2L767.4 1087.5L769.6 1085.6L771.8 1083.6L774.0 1081.4L776.2 1079.0L778.4 1076.5L780.6 1073.9L782.8 1071.3L785.0 1068.6L787.2 1065.9L789.4 1063.2L791.6 1060.5L793.8 1057.8L796.0 1055.3L798.2 1052.8L800.4 1050.5L802.6 1048.2L804.8 1046.1" stroke="#0000ff" stroke-opacity="0.2" stroke-width="3.0" stroke-dasharray="4.4 9"/>
<path d="M190.3 1268.8L192.5 1268.2L194.7 1267.6L196.9 1267.0L199.1 1266.5L201.3 1265.9L203.5 1265.3L205.7 1264.8L207.8 1264.2L210.0 1263.6L212.2 1263.1L214.4 1262.5L216.6 1262.0L218.8 1261.5L221.0 1260.9L223.2 1260.4L225.4 1259.9L227.6 1259.4L229.8 1258.9L232.0 1258.4L234.2 1257.9L236.4 1257.4L238.6 1256.9L240.8 1256.5L243.0 1256.0L245.2 1255.5L247.3 1255.1L249.5 1254.7L251.7 1254.2L253.9 1253.8L256.1 1253.4L258.3 1253.0L260.5 1252.6L262.7 1252.2L264.9 1251.8L267.1 1251.5L269.3 1251.1L271.5 1250.8L273.7 1250.5L275.9 1250.1L278.1 1249.8L280.3 1249.5L282.5 1249.2L284.7 1248.9L286.8 1248.7L289.0 1248.4L291.2 1248.1L293.4 1247.9L295.6 1247.6L297.8 1247.4L300.0 1247.2L302.2 1246.9L304.4 1246.7L306.6 1246.5L308.8 1246.3L311.0 1246.1L313.2 1245.9L315.4 1245.7L317.6 1245.5L319.8 1245.3L322.0 1245.1L324.2 1244.9L326.3 1244.7L328.5 1244.5L330.7 1244.3L332.9 1244.1L335.1 1243.9L337.3 1243.8L339.5 1243.6L341.7 1243.4L343.9 1243.2L346.1 1243.0L348.3 1242.8L350.5 1242.6L352.7 1242.4L354.9 1242.2L357.1 1242.0L359.3 1241.7L361.5 1241.5L363.7 1241.3L365.9 1241.1L368.0 1240.8L370.2 1240.6L372.4 1240.3L374.6 1240.1L376.8 1239.8L379.0 1239.5L381.2 1239.2L383.4 1238.9L385.6 1238.6L387.8 1238.3L390.0 1237.9L392.2 1237.6L394.4 1237.3L396.6 1236.9L398.8 1236.5L401.0 1236.2L403.2 1235.8L405.4 1235.4L407.5 1235.1L409.7 1234.7L411.9 1234.3L414.1 1233.9L416.3 1233.5L418.5 1233.1L420.7 1232.7L422.9 1232.3L425.1 1231.9L427.3 1231.5L429.5 1231.1L431.7 1230.7L433.9 1230.2L436.1 1229.8L438.3 1229.4L440.5 1228.9L442.7 1228.5L444.9 1228.0L447.0 1227.6L449.2 1227.1L451.4 1226.7L453.6 1226.2L455.8 1225.8L458.0 1225.3L460.2 1224.8L462.4 1224.3L464.6 1223.9L466.8 1223.4L469.0 1222.9L471.2 1222.4L473.4 1221.9L475.6 1221.4L477.8 1220.9L480.0 1220.4L482.2 1219.9L484.4 1219.4L486.5 1218.9L488.7 1218.4L490.9 1217.9L493.1 1217.4L495.3 1216.9L497.5 1216.3L499.7 1215.8L501.9 1215.3L504.1 1214.7L506.3 1214.1L508.5 1213.6L510.7 1213.0L512.9 1212.4L515.1 1211.8L517.3 1211.1L519.5 1210.5L521.7 1209.9L523.9 1209.2L526.0 1208.5L528.2 1207.8L530.4 1207.1L532.6 1206.4L534.8 1205.6L537.0 1204.8L539.2 1203.9L541.4 1202.9L543.6 1202.0L545.8 1201.0L548.0 1200.0L550.2 1198.9L552.4 1197.9L554.6 1196.8L556.8 1195.7L559.0 1194.7L561.2 1193.6L563.4 1192.6L565.5 1191.6L567.7 1190.6L569.9 1189.6L572.1 1188.7L574.3 1187.8L576.5 1187.0L578.7 1186.3L580.9 1185.5L583.1 1184.9L585.3 1184.3L587.5 1183.7L589.7 1183.1L591.9 1182.5L594.1 1182.0L596.3 1181.4L598.5 1180.9L600.7 1180.4L602.9 1180.0L605.1 1179.5L607.2 1179.0L609.4 1178.6L611.6 1178.2L613.8 1177.8L616.0 1177.5L618.2 1177.2L620.4 1176.8L622.6 1176.4L624.8 1176.0L627.0 1175.5L629.2 1175.0L631.4 1174.1L633.6 1173.0L635.8 1171.6L638.0 1170.0L640.2 1168.3L642.4 1166.5L644.6 1164.7L646.7 1162.9L648.9 1161.3L651.1 1159.6L653.3 1157.7L655.5 1155.7L657.7 1153.7L659.9 1151.6L662.1 1149.6L664.3 1147.6L666.5 1145.7L668.7 1144.0L670.9 1142.4L673.1 1141.1L675.3 1140.0L677.5 1139.2L679.7 1138.4L681.9 1137.8L684.1 1137.2L686.2 1136.6L688.4 1136.1L690.6 1135.6L692.8 1135.2L695.0 1134.7L697.2 1134.1L699.4 1133.6L701.6 1133.0L703.8 1132.3L706.0 1131.6L708.2 1130.7L710.4 1129.7L712.6 1128.5L714.8 1127.2L717.0 1125.7L719.2 1124.2L721.4 1122.6L723.6 1121.0L725.7 1119.4L727.9 1117.9L730.1 1116.4L732.3 1115.0L734.5 1113.7L736.7 1112.4L738.9 1111.1L741.1 1109.8L743.3 1108.5L745.5 1107.2L747.7 1106.0L749.9 1104.7L752.1 1103.4L754.3 1102.0L756.5 1100.6L758.7 1099.2L760.9 1097.8L763.1 1096.3L765.2 1094.7L767.4 1093.1L769.6 1091.3L771.8 1089.3L774.0 1087.3L776.2 1085.2L778.4 1083.0L780.6 1080.7L782.8 1078.4L785.0 1076.1L787.2 1073.8L789.4 1071.5L791.6 1069.2L793.8 1066.9L796.0 1064.7L798.2 1062.6L800.4 1060.6L802.6 1058.7L804.8 1056.9" stroke="#0000ff" stroke-opacity="0.4" stroke-width="3.0" stroke-dasharray="4.4 9"/>
<path d="M190.3 1272.0L192.5 1271.4L194.7 1270.9L196.9 1270.3L199.1 1269.8L201.3 1269.2L203.5 1268.7L205.7 1268.1L207.8 1267.6L210.0 1267.0L212.2 1266.5L214.4 1266.0L216.6 1265.5L218.8 1265.0L221.0 1264.5L223.2 1263.9L225.4 1263.4L227.6 1263.0L229.8 1262.5L232.0 1262.0L234.2 1261.5L236.4 1261.0L238.6 1260.6L240.8 1260.1L243.0 1259.7L245.2 1259.2L247.3 1258.8L249.5 1258.4L251.7 1258.0L253.9 1257.6L256.1 1257.2L258.3 1256.8L260.5 1256.4L262.7 1256.0L264.9 1255.6L267.1 1255.3L269.3 1254.9L271.5 1254.6L273.7 1254.2L275.9 1253.9L278.1 1253.6L280.3 1253.3L282.5 1253.0L284.7 1252.7L286.8 1252.4L289.0 1252.1L291.2 1251.9L293.4 1251.6L295.6 1251.4L297.8 1251.1L300.0 1250.9L302.2 1250.6L304.4 1250.4L306.6 1250.2L308.8 1249.9L311.0 1249.7L313.2 1249.5L315.4 1249.3L317.6 1249.1L319.8 1248.9L322.0 1248.7L324.2 1248.4L326.3 1248.2L328.5 1248.0L330.7 1247.8L332.9 1247.6L335.1 1247.4L337.3 1247.2L339.5 1247.0L341.7 1246.8L343.9 1246.6L346.1 1246.4L348.3 1246.2L350.5 1246.0L352.7 1245.8L354.9 1245.6L357.1 1245.3L359.3 1245.1L361.5 1244.9L363.7 1244.7L365.9 1244.4L368.0 1244.2L370.2 1244.0L372.4 1243.7L374.6 1243.4L376.8 1243.2L379.0 1242.9L381.2 1242.6L383.4 1242.4L385.6 1242.1L387.8 1241.8L390.0 1241.5L392.2 1241.2L394.4 1240.9L396.6 1240.5L398.8 1240.2L401.0 1239.9L403.2 1239.6L405.4 1239.3L407.5 1239.0L409.7 1238.6L411.9 1238.3L414.1 1238.0L416.3 1237.7L418.5 1237.3L420.7 1237.0L422.9 1236.6L425.1 1236.3L427.3 1235.9L429.5 1235.6L431.7 1235.2L433.9 1234.9L436.1 1234.5L438.3 1234.1L440.5 1233.8L442.7 1233.4L444.9 1233.0L447.0 1232.6L449.2 1232.2L451.4 1231.9L453.6 1231.5L455.8 1231.1L458.0 1230.6L460.2 1230.2L462.4 1229.8L464.6 1229.4L466.8 1229.0L469.0 1228.6L471.2 1228.1L473.4 1227.7L475.6 1227.2L477.8 1226.8L480.0 1226.4L482.2 1225.9L484.4 1225.4L486.5 1224.9L488.7 1224.5L490.9 1224.0L493.1 1223.4L495.3 1222.9L497.5 1222.4L499.7 1221.8L501.9 1221.3L504.1 1220.7L506.3 1220.2L508.5 1219.6L510.7 1219.0L512.9 1218.4L515.1 1217.8L517.3 1217.1L519.5 1216.5L521.7 1215.9L523.9 1215.2L526.0 1214.5L528.2 1213.9L530.4 1213.2L532.6 1212.5L534.8 1211.7L537.0 1210.9L539.2 1210.1L541.4 1209.2L543.6 1208.3L545.8 1207.4L548.0 1206.4L550.2 1205.5L552.4 1204.5L554.6 1203.5L556.8 1202.6L559.0 1201.6L561.2 1200.6L563.4 1199.7L565.5 1198.7L567.7 1197.8L569.9 1196.9L572.1 1196.0L574.3 1195.2L576.5 1194.4L578.7 1193.6L580.9 1192.9L583.1 1192.2L585.3 1191.6L587.5 1190.9L589.7 1190.3L591.9 1189.7L594.1 1189.2L596.3 1188.6L598.5 1188.0L600.7 1187.5L602.9 1186.9L605.1 1186.4L607.2 1185.9L609.4 1185.3L611.6 1184.8L613.8 1184.4L616.0 1183.9L618.2 1183.5L620.4 1183.0L622.6 1182.5L624.8 1182.0L627.0 1181.3L629.2 1180.6L631.4 1179.7L633.6 1178.5L635.8 1177.1L638.0 1175.5L640.2 1173.8L642.4 1172.1L644.6 1170.4L646.7 1168.7L648.9 1167.2L651.1 1165.6L653.3 1163.9L655.5 1162.2L657.7 1160.5L659.9 1158.7L662.1 1156.9L664.3 1155.2L666.5 1153.6L668.7 1152.1L670.9 1150.7L673.1 1149.4L675.3 1148.3L677.5 1147.4L679.7 1146.6L681.9 1145.8L684.1 1145.1L686.2 1144.4L688.4 1143.8L690.6 1143.1L692.8 1142.5L695.0 1141.9L697.2 1141.2L699.4 1140.5L701.6 1139.7L703.8 1138.9L706.0 1138.0L708.2 1137.1L710.4 1135.9L712.6 1134.6L714.8 1133.2L717.0 1131.6L719.2 1130.0L721.4 1128.4L723.6 1126.7L725.7 1125.1L727.9 1123.5L730.1 1121.9L732.3 1120.4L734.5 1119.0L736.7 1117.5L738.9 1116.1L741.1 1114.7L743.3 1113.3L745.5 1111.9L747.7 1110.5L749.9 1109.1L752.1 1107.7L754.3 1106.2L756.5 1104.8L758.7 1103.3L760.9 1101.8L763.1 1100.2L765.2 1098.7L767.4 1097.0L769.6 1095.3L771.8 1093.5L774.0 1091.6L776.2 1089.6L778.4 1087.6L780.6 1085.6L782.8 1083.5L785.0 1081.5L787.2 1079.4L789.4 1077.4L791.6 1075.4L793.8 1073.4L796.0 1071.5L798.2 1069.6L800.4 1067.9L802.6 1066.2L804.8 1064.7" stroke="#0000ff" stroke-opacity="0.6" stroke-width="3.0" stroke-dasharray="4.4 9"/>
<path d="M190.3 1274.5L192.5 1274.0L194.7 1273.5L196.9 1272.9L199.1 1272.4L201.3 1271.9L203.5 1271.3L205.7 1270.8L207.8 1270.3L210.0 1269.8L212.2 1269.3L214.4 1268.8L216.6 1268.3L218.8 1267.8L221.0 1267.3L223.2 1266.8L225.4 1266.3L227.6 1265.8L229.8 1265.3L232.0 1264.9L234.2 1264.4L236.4 1264.0L238.6 1263.5L240.8 1263.1L243.0 1262.6L245.2 1262.2L247.3 1261.8L249.5 1261.4L251.7 1261.0L253.9 1260.6L256.1 1260.2L258.3 1259.8L260.5 1259.4L262.7 1259.0L264.9 1258.7L267.1 1258.3L269.3 1257.9L271.5 1257.6L273.7 1257.3L275.9 1256.9L278.1 1256.6L280.3 1256.3L282.5 1256.0L284.7 1255.7L286.8 1255.4L289.0 1255.1L291.2 1254.9L293.4 1254.6L295.6 1254.3L297.8 1254.1L300.0 1253.8L302.2 1253.6L304.4 1253.3L306.6 1253.1L308.8 1252.9L311.0 1252.6L313.2 1252.4L315.4 1252.2L317.6 1251.9L319.8 1251.7L322.0 1251.5L324.2 1251.3L326.3 1251.1L328.5 1250.9L330.7 1250.6L332.9 1250.4L335.1 1250.2L337.3 1250.0L339.5 1249.8L341.7 1249.6L343.9 1249.4L346.1 1249.2L348.3 1248.9L350.5 1248.7L352.7 1248.5L354.9 1248.3L357.1 1248.1L359.3 1247.8L361.5 1247.6L363.7 1247.4L365.9 1247.1L368.0 1246.9L370.2 1246.7L372.4 1246.4L374.6 1246.2L376.8 1245.9L379.0 1245.6L381.2 1245.4L383.4 1245.1L385.6 1244.8L387.8 1244.6L390.0 1244.3L392.2 1244.0L394.4 1243.7L396.6 1243.5L398.8 1243.2L401.0 1242.9L403.2 1242.6L405.4 1242.4L407.5 1242.1L409.7 1241.8L411.9 1241.5L414.1 1241.2L416.3 1241.0L418.5 1240.7L420.7 1240.4L422.9 1240.1L425.1 1239.8L427.3 1239.5L429.5 1239.2L431.7 1238.9L433.9 1238.6L436.1 1238.3L438.3 1238.0L440.5 1237.6L442.7 1237.3L444.9 1237.0L447.0 1236.7L449.2 1236.3L451.4 1236.0L453.6 1235.6L455.8 1235.3L458.0 1234.9L460.2 1234.6L462.4 1234.2L464.6 1233.8L466.8 1233.5L469.0 1233.1L471.2 1232.7L473.4 1232.3L475.6 1231.9L477.8 1231.5L480.0 1231.1L482.2 1230.7L484.4 1230.2L486.5 1229.8L488.7 1229.3L490.9 1228.8L493.1 1228.3L495.3 1227.8L497.5 1227.2L499.7 1226.7L501.9 1226.1L504.1 1225.6L506.3 1225.0L508.5 1224.4L510.7 1223.8L512.9 1223.2L515.1 1222.6L517.3 1221.9L519.5 1221.3L521.7 1220.6L523.9 1220.0L526.0 1219.3L528.2 1218.7L530.4 1218.0L532.6 1217.3L534.8 1216.6L537.0 1215.8L539.2 1215.0L541.4 1214.2L543.6 1213.4L545.8 1212.5L548.0 1211.6L550.2 1210.7L552.4 1209.8L554.6 1208.9L556.8 1208.0L559.0 1207.1L561.2 1206.2L563.4 1205.3L565.5 1204.4L567.7 1203.6L569.9 1202.7L572.1 1201.9L574.3 1201.0L576.5 1200.3L578.7 1199.5L580.9 1198.8L583.1 1198.1L585.3 1197.4L587.5 1196.8L589.7 1196.1L591.9 1195.5L594.1 1194.9L596.3 1194.3L598.5 1193.7L600.7 1193.1L602.9 1192.5L605.1 1191.9L607.2 1191.3L609.4 1190.7L611.6 1190.2L613.8 1189.6L616.0 1189.1L618.2 1188.5L620.4 1188.0L622.6 1187.4L624.8 1186.7L627.0 1186.0L629.2 1185.2L631.4 1184.2L633.6 1182.9L635.8 1181.5L638.0 1179.9L640.2 1178.3L642.4 1176.6L644.6 1174.9L646.7 1173.3L648.9 1171.9L651.1 1170.4L653.3 1168.9L655.5 1167.4L657.7 1165.9L659.9 1164.3L662.1 1162.8L664.3 1161.4L666.5 1159.9L668.7 1158.6L670.9 1157.3L673.1 1156.1L675.3 1155.0L677.5 1154.0L679.7 1153.1L681.9 1152.2L684.1 1151.4L686.2 1150.6L688.4 1149.9L690.6 1149.1L692.8 1148.4L695.0 1147.6L697.2 1146.8L699.4 1146.0L701.6 1145.2L703.8 1144.2L706.0 1143.2L708.2 1142.1L710.4 1140.9L712.6 1139.5L714.8 1138.0L717.0 1136.4L719.2 1134.7L721.4 1133.0L723.6 1131.3L725.7 1129.6L727.9 1127.9L730.1 1126.3L732.3 1124.8L734.5 1123.2L736.7 1121.7L738.9 1120.2L741.1 1118.7L743.3 1117.2L745.5 1115.7L747.7 1114.1L749.9 1112.6L752.1 1111.1L754.3 1109.6L756.5 1108.1L758.7 1106.5L760.9 1105.0L763.1 1103.4L765.2 1101.8L767.4 1100.2L769.6 1098.5L771.8 1096.8L774.0 1095.0L776.2 1093.2L778.4 1091.3L780.6 1089.5L782.8 1087.6L785.0 1085.8L787.2 1083.9L789.4 1082.1L791.6 1080.3L793.8 1078.6L796.0 1076.9L798.2 1075.2L800.4 1073.7L802.6 1072.2L804.8 1070.8" stroke="#0000ff" stroke-opacity="0.8" stroke-width="3.0" stroke-dasharray="4.4 9"/>
<path d="M190.3 1277.1L192.5 1276.6L194.7 1276.1L196.9 1275.5L199.1 1275.0L201.3 1274.5L203.5 1274.0L205.7 1273.5L207.8 1273.0L210.0 1272.5L212.2 1272.0L214.4 1271.5L216.6 1271.0L218.8 1270.6L221.0 1270.1L223.2 1269.6L225.4 1269.1L227.6 1268.7L229.8 1268.2L232.0 1267.8L234.2 1267.3L236.4 1266.9L238.6 1266.4L240.8 1266.0L243.0 1265.6L245.2 1265.2L247.3 1264.8L249.5 1264.4L251.7 1263.9L253.9 1263.6L256.1 1263.2L258.3 1262.8L260.5 1262.4L262.7 1262.0L264.9 1261.7L267.1 1261.3L269.3 1261.0L271.5 1260.6L273.7 1260.3L275.9 1260.0L278.1 1259.6L280.3 1259.3L282.5 1259.0L284.7 1258.7L286.8 1258.4L289.0 1258.1L291.2 1257.9L293.4 1257.6L295.6 1257.3L297.8 1257.0L300.0 1256.8L302.2 1256.5L304.4 1256.3L306.6 1256.0L308.8 1255.8L311.0 1255.5L313.2 1255.3L315.4 1255.0L317.6 1254.8L319.8 1254.6L322.0 1254.4L324.2 1254.1L326.3 1253.9L328.5 1253.7L330.7 1253.4L332.9 1253.2L335.1 1253.0L337.3 1252.8L339.5 1252.6L341.7 1252.3L343.9 1252.1L346.1 1251.9L348.3 1251.7L350.5 1251.5L352.7 1251.2L354.9 1251.0L357.1 1250.8L359.3 1250.5L361.5 1250.3L363.7 1250.1L365.9 1249.8L368.0 1249.6L370.2 1249.4L372.4 1249.1L374.6 1248.9L376.8 1248.6L379.0 1248.4L381.2 1248.1L383.4 1247.9L385.6 1247.6L387.8 1247.4L390.0 1247.1L392.2 1246.9L394.4 1246.6L396.6 1246.4L398.8 1246.1L401.0 1245.9L403.2 1245.7L405.4 1245.4L407.5 1245.2L409.7 1245.0L411.9 1244.7L414.1 1244.5L416.3 1244.3L418.5 1244.0L420.7 1243.8L422.9 1243.5L425.1 1243.3L427.3 1243.0L429.5 1242.8L431.7 1242.5L433.9 1242.3L436.1 1242.0L438.3 1241.8L440.5 1241.5L442.7 1241.2L444.9 1241.0L447.0 1240.7L449.2 1240.4L451.4 1240.1L453.6 1239.8L455.8 1239.5L458.0 1239.2L460.2 1238.9L462.4 1238.6L464.6 1238.3L466.8 1238.0L469.0 1237.6L471.2 1237.3L473.4 1236.9L475.6 1236.6L477.8 1236.2L480.0 1235.8L482.2 1235.4L484.4 1235.0L486.5 1234.6L488.7 1234.1L490.9 1233.6L493.1 1233.1L495.3 1232.6L497.5 1232.1L499.7 1231.5L501.9 1231.0L504.1 1230.4L506.3 1229.8L508.5 1229.2L510.7 1228.6L512.9 1228.0L515.1 1227.4L517.3 1226.7L519.5 1226.1L521.7 1225.4L523.9 1224.8L526.0 1224.1L528.2 1223.5L530.4 1222.8L532.6 1222.1L534.8 1221.5L537.0 1220.7L539.2 1220.0L541.4 1219.2L543.6 1218.4L545.8 1217.6L548.0 1216.8L550.2 1216.0L552.4 1215.2L554.6 1214.3L556.8 1213.5L559.0 1212.7L561.2 1211.8L563.4 1211.0L565.5 1210.1L567.7 1209.3L569.9 1208.5L572.1 1207.7L574.3 1206.9L576.5 1206.1L578.7 1205.4L580.9 1204.7L583.1 1204.0L585.3 1203.3L587.5 1202.6L589.7 1201.9L591.9 1201.3L594.1 1200.7L596.3 1200.0L598.5 1199.4L600.7 1198.8L602.9 1198.1L605.1 1197.5L607.2 1196.8L609.4 1196.1L611.6 1195.5L613.8 1194.8L616.0 1194.2L618.2 1193.6L620.4 1192.9L622.6 1192.2L624.8 1191.5L627.0 1190.6L629.2 1189.7L631.4 1188.6L633.6 1187.3L635.8 1185.9L638.0 1184.3L640.2 1182.7L642.4 1181.1L644.6 1179.5L646.7 1178.0L648.9 1176.6L651.1 1175.2L653.3 1173.9L655.5 1172.6L657.7 1171.3L659.9 1170.0L662.1 1168.7L664.3 1167.5L666.5 1166.2L668.7 1165.1L670.9 1163.9L673.1 1162.7L675.3 1161.6L677.5 1160.6L679.7 1159.6L681.9 1158.6L684.1 1157.7L686.2 1156.8L688.4 1156.0L690.6 1155.1L692.8 1154.3L695.0 1153.4L697.2 1152.5L699.4 1151.6L701.6 1150.6L703.8 1149.5L706.0 1148.4L708.2 1147.2L710.4 1145.8L712.6 1144.4L714.8 1142.8L717.0 1141.1L719.2 1139.4L721.4 1137.7L723.6 1135.9L725.7 1134.1L727.9 1132.4L730.1 1130.7L732.3 1129.1L734.5 1127.5L736.7 1125.9L738.9 1124.2L741.1 1122.6L743.3 1121.0L745.5 1119.4L747.7 1117.8L749.9 1116.2L752.1 1114.6L754.3 1113.0L756.5 1111.4L758.7 1109.8L760.9 1108.1L763.1 1106.5L765.2 1104.9L767.4 1103.3L769.6 1101.7L771.8 1100.1L774.0 1098.4L776.2 1096.7L778.4 1095.0L780.6 1093.4L782.8 1091.7L785.0 1090.1L787.2 1088.4L789.4 1086.8L791.6 1085.3L793.8 1083.7L796.0 1082.3L798.2 1080.8L800.4 1079.5L802.6 1078.2L804.8 1077.0" stroke="#0000ff" stroke-width="3.0" stroke-dasharray="4.4 9"/>
<path d="M190.3 1271.5L192.5 1271.4L194.7 1271.2L196.9 1271.0L199.1 1270.7L201.3 1270.5L203.5 1270.2L205.7 1270.0L207.9 1269.7L210.1 1269.4L212.3 1269.2L214.5 1268.9L216.7 1268.6L218.8 1268.4L221.0 1268.1L223.2 1267.9L225.4 1267.6L227.6 1267.4L229.8 1267.1L232.0 1266.9L234.2 1266.6L236.4 1266.4L238.6 1266.1L240.8 1265.9L243.0 1265.7L245.2 1265.4L247.4 1265.2L249.6 1265.0L251.8 1264.8L254.0 1264.5L256.2 1264.3L258.4 1264.1L260.6 1263.9L262.8 1263.6L265.0 1263.4L267.2 1263.2L269.4 1262.9L271.6 1262.7L273.8 1262.5L276.0 1262.3L278.2 1262.0L280.4 1261.8L282.6 1261.6L284.8 1261.4L287.0 1261.1L289.2 1260.9L291.3 1260.7L293.5 1260.5L295.7 1260.3L297.9 1260.2L300.1 1260.0L302.3 1259.9L304.5 1259.7L306.7 1259.6L308.9 1259.5L311.1 1259.4L313.3 1259.3L315.5 1259.3L317.7 1259.2L319.9 1259.2L322.1 1259.2L324.3 1259.2L326.5 1259.3L328.7 1259.4L330.9 1259.5L333.1 1259.6L335.3 1259.8L337.5 1259.9L339.7 1260.1L341.9 1260.3L344.1 1260.6L346.3 1260.8L348.5 1261.1L350.7 1261.4L352.9 1261.7L355.1 1262.0L357.3 1262.3L359.5 1262.6L361.6 1262.9L363.8 1263.2L366.0 1263.5L368.2 1263.8L370.4 1264.2L372.6 1264.5L374.8 1264.8L377.0 1265.1L379.2 1265.4L381.4 1265.6L383.6 1265.9L385.8 1266.2L388.0 1266.5L390.2 1266.7L392.4 1267.0L394.6 1267.2L396.8 1267.5L399.0 1267.8L401.2 1268.0L403.4 1268.3L405.6 1268.6L407.8 1268.8L410.0 1269.1L412.2 1269.4L414.4 1269.7L416.6 1270.0L418.8 1270.2L421.0 1270.5L423.2 1270.8L425.4 1271.1L427.6 1271.3L429.8 1271.6L431.9 1271.8L434.1 1272.1L436.3 1272.3L438.5 1272.6L440.7 1272.8L442.9 1273.0L445.1 1273.2L447.3 1273.5L449.5 1273.6L451.7 1273.8L453.9 1274.0L456.1 1274.1L458.3 1274.3L460.5 1274.4L462.7 1274.5L464.9 1274.6L467.1 1274.7L469.3 1274.8L471.5 1274.8L473.7 1274.9L475.9 1274.9L478.1 1274.9L480.3 1274.9L482.5 1275.0L484.7 1275.0L486.9 1275.0L489.1 1275.0L491.3 1275.0L493.5 1275.0L495.7 1275.0L497.9 1275.0L500.1 1275.0L502.3 1275.0L504.4 1275.0L506.6 1275.0L508.8 1275.0L511.0 1275.0L513.2 1275.0L515.4 1275.0L517.6 1275.0L519.8 1275.0L522.0 1275.0L524.2 1275.0L526.4 1275.0L528.6 1275.0L530.8 1275.0L533.0 1275.0L535.2 1275.0L537.4 1275.0L539.6 1275.0L541.8 1275.0L544.0 1275.0L546.2 1275.0L548.4 1275.0L550.6 1275.0L552.8 1275.0L555.0 1275.0L557.2 1275.0L559.4 1275.0L561.6 1275.0L563.8 1275.0L566.0 1275.0L568.2 1275.0L570.4 1275.0L572.6 1275.0L574.7 1275.0L576.9 1275.0L579.1 1275.0L581.3 1275.0L583.5 1275.0L585.7 1275.0L587.9 1275.0L590.1 1275.0L592.3 1275.0L594.5 1275.0L596.7 1275.0L598.9 1275.0L601.1 1275.0L603.3 1275.0L605.5 1275.0L607.7 1275.0L609.9 1275.0L612.1 1275.0L614.3 1275.0L616.5 1275.0L618.7 1275.0L620.9 1275.0L623.1 1275.0L625.3 1275.0L627.5 1275.0L629.7 1275.0L631.9 1275.0L634.1 1275.0L636.3 1275.0L638.5 1275.0L640.7 1275.0L642.9 1275.0L645.0 1275.0L647.2 1275.0L649.4 1275.0L651.6 1275.0L653.8 1275.0L656.0 1275.0L658.2 1275.0L660.4 1275.0L662.6 1275.0L664.8 1275.0L667.0 1275.0L669.2 1275.0L671.4 1275.0L673.6 1275.0L675.8 1275.0L678.0 1275.0L680.2 1275.0L682.4 1275.0L684.6 1275.0L686.8 1275.0L689.0 1275.0L691.2 1275.0L693.4 1275.0L695.6 1275.0L697.8 1275.0L700.0 1275.0L702.2 1275.0L704.4 1275.0L706.6 1275.0L708.8 1275.0L711.0 1275.0L713.2 1275.0L715.3 1275.0L717.5 1275.0L719.7 1275.0L721.9 1275.0L724.1 1275.0L726.3 1275.0L728.5 1275.0L730.7 1275.1L732.9 1275.1L735.1 1275.1L737.3 1275.1L739.5 1275.1L741.7 1275.1L743.9 1275.1L746.1 1275.1L748.3 1275.1L750.5 1275.1L752.7 1275.2L754.9 1275.2L757.1 1275.2L759.3 1275.2L761.5 1275.2L763.7 1275.2L765.9 1275.2L768.1 1275.2L770.3 1275.3L772.5 1275.3L774.7 1275.3L776.9 1275.3L779.1 1275.3L781.3 1275.3L783.5 1275.3L785.7 1275.3L787.8 1275.4L790.0 1275.4L792.2 1275.4" stroke="#0000ff" stroke-opacity="0.2" stroke-width="3.0" />
<path d="M190.3 1274.3L192.5 1274.1L194.7 1273.9L196.9 1273.7L199.1 1273.5L201.3 1273.3L203.5 1273.0L205.7 1272.8L207.9 1272.5L210.1 1272.3L212.3 1272.0L214.5 1271.8L216.7 1271.5L218.8 1271.2L221.0 1271.0L223.2 1270.7L225.4 1270.5L227.6 1270.3L229.8 1270.0L232.0 1269.8L234.2 1269.5L236.4 1269.3L238.6 1269.1L240.8 1268.8L243.0 1268.6L245.2 1268.4L247.4 1268.2L249.6 1267.9L251.8 1267.7L254.0 1267.5L256.2 1267.3L258.4 1267.1L260.6 1266.8L262.8 1266.6L265.0 1266.4L267.2 1266.2L269.4 1265.9L271.6 1265.7L273.8 1265.5L276.0 1265.3L278.2 1265.0L280.4 1264.8L282.6 1264.6L284.8 1264.4L287.0 1264.1L289.2 1263.9L291.3 1263.7L293.5 1263.5L295.7 1263.3L297.9 1263.1L300.1 1263.0L302.3 1262.8L304.5 1262.6L306.7 1262.5L308.9 1262.4L311.1 1262.3L313.3 1262.2L315.5 1262.1L317.7 1262.1L319.9 1262.1L322.1 1262.0L324.3 1262.1L326.5 1262.1L328.7 1262.2L330.9 1262.3L333.1 1262.4L335.3 1262.5L337.5 1262.6L339.7 1262.8L341.9 1263.0L344.1 1263.2L346.3 1263.4L348.5 1263.6L350.7 1263.9L352.9 1264.1L355.1 1264.4L357.3 1264.7L359.5 1264.9L361.6 1265.2L363.8 1265.5L366.0 1265.8L368.2 1266.1L370.4 1266.5L372.6 1266.8L374.8 1267.1L377.0 1267.4L379.2 1267.8L381.4 1268.1L383.6 1268.4L385.8 1268.7L388.0 1269.0L390.2 1269.3L392.4 1269.6L394.6 1269.8L396.8 1270.1L399.0 1270.4L401.2 1270.7L403.4 1270.9L405.6 1271.2L407.8 1271.5L410.0 1271.7L412.2 1272.0L414.4 1272.3L416.6 1272.6L418.8 1272.8L421.0 1273.1L423.2 1273.4L425.4 1273.6L427.6 1273.9L429.8 1274.2L431.9 1274.4L434.1 1274.7L436.3 1274.9L438.5 1275.2L440.7 1275.4L442.9 1275.6L445.1 1275.9L447.3 1276.1L449.5 1276.3L451.7 1276.5L453.9 1276.7L456.1 1276.9L458.3 1277.0L460.5 1277.2L462.7 1277.3L464.9 1277.4L467.1 1277.5L469.3 1277.6L471.5 1277.7L473.7 1277.7L475.9 1277.8L478.1 1277.8L480.3 1277.8L482.5 1277.8L484.7 1277.9L486.9 1277.9L489.1 1277.9L491.3 1277.9L493.5 1277.9L495.7 1277.9L497.9 1277.9L500.1 1277.9L502.3 1277.9L504.4 1277.9L506.6 1277.9L508.8 1277.9L511.0 1277.9L513.2 1277.9L515.4 1277.9L517.6 1277.9L519.8 1277.9L522.0 1277.9L524.2 1277.9L526.4 1277.9L528.6 1277.9L530.8 1277.9L533.0 1277.9L535.2 1277.9L537.4 1277.9L539.6 1277.9L541.8 1277.9L544.0 1277.9L546.2 1277.9L548.4 1277.9L550.6 1277.9L552.8 1277.9L555.0 1277.9L557.2 1277.9L559.4 1277.9L561.6 1277.9L563.8 1277.9L566.0 1277.9L568.2 1277.9L570.4 1277.9L572.6 1277.9L574.7 1277.9L576.9 1277.9L579.1 1277.9L581.3 1277.9L583.5 1277.9L585.7 1277.9L587.9 1277.9L590.1 1277.9L592.3 1277.9L594.5 1277.9L596.7 1277.9L598.9 1277.9L601.1 1277.9L603.3 1277.9L605.5 1277.9L607.7 1277.9L609.9 1277.9L612.1 1277.9L614.3 1277.9L616.5 1277.9L618.7 1277.9L620.9 1277.9L623.1 1277.9L625.3 1277.9L627.5 1277.9L629.7 1277.9L631.9 1277.9L634.1 1277.9L636.3 1277.9L638.5 1277.9L640.7 1277.9L642.9 1277.9L645.0 1277.9L647.2 1277.9L649.4 1277.9L651.6 1277.9L653.8 1277.9L656.0 1277.9L658.2 1277.9L660.4 1277.9L662.6 1277.9L664.8 1277.9L667.0 1277.9L669.2 1277.9L671.4 1277.9L673.6 1277.9L675.8 1277.9L678.0 1277.9L680.2 1277.9L682.4 1277.9L684.6 1277.9L686.8 1277.9L689.0 1277.9L691.2 1277.9L693.4 1277.9L695.6 1277.9L697.8 1277.9L700.0 1277.9L702.2 1277.9L704.4 1277.9L706.6 1277.9L708.8 1277.9L711.0 1277.9L713.2 1277.9L715.3 1277.9L717.5 1277.9L719.7 1277.9L721.9 1277.9L724.1 1278.0L726.3 1278.0L728.5 1278.0L730.7 1278.0L732.9 1278.0L735.1 1278.0L737.3 1278.0L739.5 1278.0L741.7 1278.0L743.9 1278.0L746.1 1278.0L748.3 1278.1L750.5 1278.1L752.7 1278.1L754.9 1278.1L757.1 1278.1L759.3 1278.1L761.5 1278.1L763.7 1278.1L765.9 1278.1L768.1 1278.2L770.3 1278.2L772.5 1278.2L774.7 1278.2L776.9 1278.2L779.1 1278.2L781.3 1278.2L783.5 1278.2L785.7 1278.2L787.8 1278.3L790.0 1278.3L792.2 1278.3" stroke="#0000ff" stroke-opacity="0.4" stroke-width="3.0" />
<path d="M190.3 1277.0L192.5 1276.9L194.7 1276.7L196.9 1276.5L199.1 1276.3L201.3 1276.1L203.5 1275.8L205.7 1275.6L207.9 1275.4L210.1 1275.1L212.3 1274.9L214.5 1274.6L216.7 1274.4L218.8 1274.1L221.0 1273.9L223.2 1273.6L225.4 1273.4L227.6 1273.2L229.8 1272.9L232.0 1272.7L234.2 1272.5L236.4 1272.2L238.6 1272.0L240.8 1271.8L243.0 1271.6L245.2 1271.3L247.4 1271.1L249.6 1270.9L251.8 1270.7L254.0 1270.5L256.2 1270.2L258.4 1270.0L260.6 1269.8L262.8 1269.6L265.0 1269.4L267.2 1269.1L269.4 1268.9L271.6 1268.7L273.8 1268.5L276.0 1268.3L278.2 1268.0L280.4 1267.8L282.6 1267.6L284.8 1267.4L287.0 1267.1L289.2 1266.9L291.3 1266.7L293.5 1266.5L295.7 1266.3L297.9 1266.1L300.1 1265.9L302.3 1265.7L304.5 1265.6L306.7 1265.4L308.9 1265.3L311.1 1265.2L313.3 1265.1L315.5 1265.0L317.7 1264.9L319.9 1264.9L322.1 1264.9L324.3 1264.9L326.5 1264.9L328.7 1265.0L330.9 1265.0L333.1 1265.1L335.3 1265.2L337.5 1265.4L339.7 1265.5L341.9 1265.6L344.1 1265.8L346.3 1266.0L348.5 1266.2L350.7 1266.4L352.9 1266.6L355.1 1266.8L357.3 1267.0L359.5 1267.3L361.6 1267.6L363.8 1267.8L366.0 1268.1L368.2 1268.4L370.4 1268.8L372.6 1269.1L374.8 1269.4L377.0 1269.8L379.2 1270.2L381.4 1270.5L383.6 1270.9L385.8 1271.2L388.0 1271.5L390.2 1271.9L392.4 1272.2L394.6 1272.5L396.8 1272.7L399.0 1273.0L401.2 1273.3L403.4 1273.6L405.6 1273.8L407.8 1274.1L410.0 1274.4L412.2 1274.6L414.4 1274.9L416.6 1275.2L418.8 1275.4L421.0 1275.7L423.2 1275.9L425.4 1276.2L427.6 1276.5L429.8 1276.7L431.9 1277.0L434.1 1277.2L436.3 1277.5L438.5 1277.8L440.7 1278.0L442.9 1278.3L445.1 1278.5L447.3 1278.7L449.5 1279.0L451.7 1279.2L453.9 1279.4L456.1 1279.6L458.3 1279.8L460.5 1280.0L462.7 1280.1L464.9 1280.3L467.1 1280.4L469.3 1280.5L471.5 1280.5L473.7 1280.6L475.9 1280.7L478.1 1280.7L480.3 1280.7L482.5 1280.7L484.7 1280.7L486.9 1280.8L489.1 1280.8L491.3 1280.8L493.5 1280.8L495.7 1280.8L497.9 1280.8L500.1 1280.8L502.3 1280.8L504.4 1280.8L506.6 1280.8L508.8 1280.8L511.0 1280.8L513.2 1280.8L515.4 1280.8L517.6 1280.8L519.8 1280.8L522.0 1280.8L524.2 1280.8L526.4 1280.8L528.6 1280.8L530.8 1280.8L533.0 1280.8L535.2 1280.8L537.4 1280.8L539.6 1280.8L541.8 1280.8L544.0 1280.8L546.2 1280.8L548.4 1280.8L550.6 1280.8L552.8 1280.8L555.0 1280.8L557.2 1280.8L559.4 1280.8L561.6 1280.8L563.8 1280.8L566.0 1280.8L568.2 1280.8L570.4 1280.8L572.6 1280.8L574.7 1280.8L576.9 1280.8L579.1 1280.8L581.3 1280.8L583.5 1280.8L585.7 1280.8L587.9 1280.8L590.1 1280.8L592.3 1280.8L594.5 1280.8L596.7 1280.8L598.9 1280.8L601.1 1280.8L603.3 1280.8L605.5 1280.8L607.7 1280.8L609.9 1280.8L612.1 1280.8L614.3 1280.8L616.5 1280.8L618.7 1280.8L620.9 1280.8L623.1 1280.8L625.3 1280.8L627.5 1280.8L629.7 1280.8L631.9 1280.8L634.1 1280.8L636.3 1280.8L638.5 1280.8L640.7 1280.8L642.9 1280.8L645.0 1280.8L647.2 1280.8L649.4 1280.8L651.6 1280.8L653.8 1280.8L656.0 1280.8L658.2 1280.8L660.4 1280.8L662.6 1280.8L664.8 1280.8L667.0 1280.8L669.2 1280.8L671.4 1280.8L673.6 1280.8L675.8 1280.8L678.0 1280.8L680.2 1280.8L682.4 1280.8L684.6 1280.8L686.8 1280.8L689.0 1280.8L691.2 1280.8L693.4 1280.8L695.6 1280.8L697.8 1280.8L700.0 1280.8L702.2 1280.8L704.4 1280.8L706.6 1280.8L708.8 1280.8L711.0 1280.8L713.2 1280.8L715.3 1280.9L717.5 1280.9L719.7 1280.9L721.9 1280.9L724.1 1280.9L726.3 1280.9L728.5 1280.9L730.7 1280.9L732.9 1280.9L735.1 1280.9L737.3 1280.9L739.5 1280.9L741.7 1280.9L743.9 1281.0L746.1 1281.0L748.3 1281.0L750.5 1281.0L752.7 1281.0L754.9 1281.0L757.1 1281.0L759.3 1281.0L761.5 1281.0L763.7 1281.0L765.9 1281.1L768.1 1281.1L770.3 1281.1L772.5 1281.1L774.7 1281.1L776.9 1281.1L779.1 1281.1L781.3 1281.1L783.5 1281.1L785.7 1281.1L787.8 1281.2L790.0 1281.2L792.2 1281.2" stroke="#0000ff" stroke-opacity="0.6" stroke-width="3.0" />
<path d="M190.3 1279.8L192.5 1279.6L194.7 1279.5L196.9 1279.3L199.1 1279.1L201.3 1278.9L203.5 1278.6L205.7 1278.4L207.9 1278.2L210.1 1277.9L212.3 1277.7L214.5 1277.5L216.7 1277.2L218.8 1277.0L221.0 1276.8L223.2 1276.5L225.4 1276.3L227.6 1276.1L229.8 1275.8L232.0 1275.6L234.2 1275.4L236.4 1275.2L238.6 1274.9L240.8 1274.7L243.0 1274.5L245.2 1274.3L247.4 1274.1L249.6 1273.8L251.8 1273.6L254.0 1273.4L256.2 1273.2L258.4 1273.0L260.6 1272.8L262.8 1272.6L265.0 1272.3L267.2 1272.1L269.4 1271.9L271.6 1271.7L273.8 1271.5L276.0 1271.3L278.2 1271.0L280.4 1270.8L282.6 1270.6L284.8 1270.4L287.0 1270.1L289.2 1269.9L291.3 1269.7L293.5 1269.5L295.7 1269.3L297.9 1269.1L300.1 1268.9L302.3 1268.7L304.5 1268.5L306.7 1268.3L308.9 1268.2L311.1 1268.1L313.3 1268.0L315.5 1267.9L317.7 1267.8L319.9 1267.8L322.1 1267.7L324.3 1267.7L326.5 1267.7L328.7 1267.8L330.9 1267.8L333.1 1267.9L335.3 1268.0L337.5 1268.1L339.7 1268.2L341.9 1268.3L344.1 1268.4L346.3 1268.6L348.5 1268.7L350.7 1268.9L352.9 1269.1L355.1 1269.2L357.3 1269.4L359.5 1269.7L361.6 1269.9L363.8 1270.1L366.0 1270.4L368.2 1270.7L370.4 1271.1L372.6 1271.4L374.8 1271.8L377.0 1272.2L379.2 1272.6L381.4 1273.0L383.6 1273.3L385.8 1273.7L388.0 1274.1L390.2 1274.4L392.4 1274.7L394.6 1275.1L396.8 1275.4L399.0 1275.6L401.2 1275.9L403.4 1276.2L405.6 1276.5L407.8 1276.7L410.0 1277.0L412.2 1277.2L414.4 1277.5L416.6 1277.8L418.8 1278.0L421.0 1278.3L423.2 1278.5L425.4 1278.8L427.6 1279.0L429.8 1279.3L431.9 1279.5L434.1 1279.8L436.3 1280.1L438.5 1280.3L440.7 1280.6L442.9 1280.9L445.1 1281.1L447.3 1281.4L449.5 1281.6L451.7 1281.9L453.9 1282.1L456.1 1282.4L458.3 1282.6L460.5 1282.8L462.7 1282.9L464.9 1283.1L467.1 1283.2L469.3 1283.3L471.5 1283.4L473.7 1283.5L475.9 1283.5L478.1 1283.6L480.3 1283.6L482.5 1283.6L484.7 1283.6L486.9 1283.6L489.1 1283.6L491.3 1283.7L493.5 1283.7L495.7 1283.7L497.9 1283.7L500.1 1283.7L502.3 1283.7L504.4 1283.7L506.6 1283.7L508.8 1283.7L511.0 1283.7L513.2 1283.7L515.4 1283.7L517.6 1283.7L519.8 1283.7L522.0 1283.7L524.2 1283.7L526.4 1283.7L528.6 1283.7L530.8 1283.7L533.0 1283.7L535.2 1283.7L537.4 1283.7L539.6 1283.7L541.8 1283.7L544.0 1283.7L546.2 1283.7L548.4 1283.7L550.6 1283.7L552.8 1283.7L555.0 1283.7L557.2 1283.7L559.4 1283.7L561.6 1283.7L563.8 1283.7L566.0 1283.7L568.2 1283.7L570.4 1283.7L572.6 1283.7L574.7 1283.7L576.9 1283.7L579.1 1283.7L581.3 1283.7L583.5 1283.7L585.7 1283.7L587.9 1283.7L590.1 1283.7L592.3 1283.7L594.5 1283.7L596.7 1283.7L598.9 1283.7L601.1 1283.7L603.3 1283.7L605.5 1283.7L607.7 1283.7L609.9 1283.7L612.1 1283.7L614.3 1283.7L616.5 1283.7L618.7 1283.7L620.9 1283.7L623.1 1283.7L625.3 1283.7L627.5 1283.7L629.7 1283.7L631.9 1283.7L634.1 1283.7L636.3 1283.7L638.5 1283.7L640.7 1283.7L642.9 1283.7L645.0 1283.7L647.2 1283.7L649.4 1283.7L651.6 1283.7L653.8 1283.7L656.0 1283.7L658.2 1283.7L660.4 1283.7L662.6 1283.7L664.8 1283.7L667.0 1283.7L669.2 1283.7L671.4 1283.7L673.6 1283.7L675.8 1283.7L678.0 1283.7L680.2 1283.7L682.4 1283.7L684.6 1283.7L686.8 1283.7L689.0 1283.7L691.2 1283.7L693.4 1283.7L695.6 1283.7L697.8 1283.7L700.0 1283.7L702.2 1283.8L704.4 1283.8L706.6 1283.8L708.8 1283.8L711.0 1283.8L713.2 1283.8L715.3 1283.8L717.5 1283.8L719.7 1283.8L721.9 1283.8L724.1 1283.8L726.3 1283.8L728.5 1283.8L730.7 1283.8L732.9 1283.8L735.1 1283.8L737.3 1283.8L739.5 1283.9L741.7 1283.9L743.9 1283.9L746.1 1283.9L748.3 1283.9L750.5 1283.9L752.7 1283.9L754.9 1283.9L757.1 1283.9L759.3 1283.9L761.5 1283.9L763.7 1284.0L765.9 1284.0L768.1 1284.0L770.3 1284.0L772.5 1284.0L774.7 1284.0L776.9 1284.0L779.1 1284.0L781.3 1284.0L783.5 1284.0L785.7 1284.0L787.8 1284.1L790.0 1284.1L792.2 1284.1" stroke="#0000ff" stroke-opacity="0.8" stroke-width="3.0" />
<path d="M190.3 1285.3L192.5 1285.1L194.7 1285.0L196.9 1284.8L199.1 1284.6L201.3 1284.4L203.5 1284.2L205.7 1284.0L207.9 1283.8L210.1 1283.6L212.3 1283.4L214.5 1283.2L216.7 1282.9L218.8 1282.7L221.0 1282.5L223.2 1282.3L225.4 1282.1L227.6 1281.9L229.8 1281.7L232.0 1281.4L234.2 1281.2L236.4 1281.0L238.6 1280.8L240.8 1280.6L243.0 1280.4L245.2 1280.2L247.4 1280.0L249.6 1279.8L251.8 1279.5L254.0 1279.3L256.2 1279.1L258.4 1278.9L260.6 1278.7L262.8 1278.5L265.0 1278.3L267.2 1278.1L269.4 1277.9L271.6 1277.7L273.8 1277.5L276.0 1277.3L278.2 1277.0L280.4 1276.8L282.6 1276.6L284.8 1276.4L287.0 1276.1L289.2 1275.9L291.3 1275.7L293.5 1275.4L295.7 1275.2L297.9 1275.0L300.1 1274.8L302.3 1274.5L304.5 1274.3L306.7 1274.2L308.9 1274.0L311.1 1273.8L313.3 1273.7L315.5 1273.6L317.7 1273.5L319.9 1273.5L322.1 1273.4L324.3 1273.4L326.5 1273.4L328.7 1273.4L330.9 1273.4L333.1 1273.4L335.3 1273.4L337.5 1273.5L339.7 1273.5L341.9 1273.6L344.1 1273.7L346.3 1273.7L348.5 1273.8L350.7 1273.9L352.9 1274.0L355.1 1274.1L357.3 1274.2L359.5 1274.4L361.6 1274.6L363.8 1274.8L366.0 1275.0L368.2 1275.3L370.4 1275.7L372.6 1276.1L374.8 1276.5L377.0 1276.9L379.2 1277.4L381.4 1277.8L383.6 1278.3L385.8 1278.7L388.0 1279.2L390.2 1279.6L392.4 1279.9L394.6 1280.3L396.8 1280.6L399.0 1280.9L401.2 1281.2L403.4 1281.5L405.6 1281.7L407.8 1282.0L410.0 1282.2L412.2 1282.5L414.4 1282.7L416.6 1282.9L418.8 1283.2L421.0 1283.4L423.2 1283.7L425.4 1283.9L427.6 1284.1L429.8 1284.4L431.9 1284.7L434.1 1284.9L436.3 1285.2L438.5 1285.5L440.7 1285.8L442.9 1286.1L445.1 1286.4L447.3 1286.7L449.5 1287.0L451.7 1287.3L453.9 1287.6L456.1 1287.8L458.3 1288.1L460.5 1288.3L462.7 1288.5L464.9 1288.7L467.1 1288.9L469.3 1289.0L471.5 1289.1L473.7 1289.2L475.9 1289.3L478.1 1289.3L480.3 1289.4L482.5 1289.4L484.7 1289.4L486.9 1289.4L489.1 1289.4L491.3 1289.4L493.5 1289.4L495.7 1289.4L497.9 1289.4L500.1 1289.4L502.3 1289.4L504.4 1289.4L506.6 1289.4L508.8 1289.4L511.0 1289.4L513.2 1289.4L515.4 1289.4L517.6 1289.4L519.8 1289.4L522.0 1289.4L524.2 1289.4L526.4 1289.4L528.6 1289.4L530.8 1289.4L533.0 1289.4L535.2 1289.4L537.4 1289.4L539.6 1289.4L541.8 1289.4L544.0 1289.4L546.2 1289.4L548.4 1289.4L550.6 1289.4L552.8 1289.4L555.0 1289.4L557.2 1289.4L559.4 1289.4L561.6 1289.4L563.8 1289.4L566.0 1289.4L568.2 1289.4L570.4 1289.4L572.6 1289.4L574.7 1289.4L576.9 1289.4L579.1 1289.4L581.3 1289.4L583.5 1289.4L585.7 1289.4L587.9 1289.4L590.1 1289.4L592.3 1289.4L594.5 1289.4L596.7 1289.4L598.9 1289.4L601.1 1289.4L603.3 1289.5L605.5 1289.5L607.7 1289.5L609.9 1289.5L612.1 1289.5L614.3 1289.5L616.5 1289.5L618.7 1289.5L620.9 1289.5L623.1 1289.5L625.3 1289.5L627.5 1289.5L629.7 1289.5L631.9 1289.5L634.1 1289.5L636.3 1289.5L638.5 1289.5L640.7 1289.5L642.9 1289.5L645.0 1289.5L647.2 1289.5L649.4 1289.5L651.6 1289.5L653.8 1289.5L656.0 1289.5L658.2 1289.5L660.4 1289.5L662.6 1289.5L664.8 1289.5L667.0 1289.5L669.2 1289.5L671.4 1289.5L673.6 1289.5L675.8 1289.5L678.0 1289.5L680.2 1289.6L682.4 1289.6L684.6 1289.6L686.8 1289.6L689.0 1289.6L691.2 1289.6L693.4 1289.6L695.6 1289.6L697.8 1289.6L700.0 1289.6L702.2 1289.6L704.4 1289.6L706.6 1289.6L708.8 1289.6L711.0 1289.6L713.2 1289.6L715.3 1289.6L717.5 1289.6L719.7 1289.6L721.9 1289.7L724.1 1289.7L726.3 1289.7L728.5 1289.7L730.7 1289.7L732.9 1289.7L735.1 1289.7L737.3 1289.7L739.5 1289.7L741.7 1289.7L743.9 1289.7L746.1 1289.7L748.3 1289.7L750.5 1289.7L752.7 1289.7L754.9 1289.7L757.1 1289.8L759.3 1289.8L761.5 1289.8L763.7 1289.8L765.9 1289.8L768.1 1289.8L770.3 1289.8L772.5 1289.8L774.7 1289.8L776.9 1289.8L779.1 1289.8L781.3 1289.8L783.5 1289.8L785.7 1289.8L787.8 1289.9L790.0 1289.9L792.2 1289.9" stroke="#0000ff" stroke-width="3.0" />
<path d="M190.3 1232.4L192.5 1231.5L194.7 1230.4L196.9 1229.1L199.1 1227.6L201.3 1226.1L203.5 1224.6L205.7 1223.0L207.9 1221.3L210.1 1219.7L212.3 1218.0L214.5 1216.3L216.7 1214.5L218.8 1212.7L221.0 1210.9L223.2 1209.1L225.4 1207.2L227.6 1205.3L229.8 1203.4L232.0 1201.5L234.2 1199.4L236.4 1197.4L238.6 1195.2L240.8 1193.0L243.0 1190.7L245.2 1188.3L247.4 1185.8L249.6 1183.3L251.8 1180.8L254.0 1178.2L256.2 1175.7L258.4 1173.1L260.6 1170.6L262.8 1168.1L265.0 1165.6L267.2 1163.2L269.4 1160.9L271.6 1158.6L273.8 1156.5L276.0 1154.3L278.2 1152.3L280.4 1150.2L282.6 1148.1L284.8 1146.1L287.0 1144.1L289.2 1142.2L291.3 1140.5L293.5 1139.1L295.7 1138.0L297.9 1137.3L300.1 1136.8L302.3 1136.7L304.5 1136.9L306.7 1137.2L308.9 1137.7L311.1 1138.3L313.3 1139.0L315.5 1139.8L317.7 1140.7L319.9 1141.8L322.1 1143.1L324.3 1144.7L326.5 1146.6L328.7 1148.9L330.9 1151.5L333.1 1154.4L335.3 1157.4L337.5 1160.6L339.7 1163.7L341.9 1166.9L344.1 1170.0L346.3 1173.1L348.5 1176.1L350.7 1179.2L352.9 1182.3L355.1 1185.4L357.3 1188.5L359.5 1191.4L361.6 1194.2L363.8 1196.9L366.0 1199.4L368.2 1201.7L370.4 1203.9L372.6 1206.1L374.8 1208.2L377.0 1210.5L379.2 1213.0L381.4 1215.8L383.6 1218.7L385.8 1221.7L388.0 1224.7L390.2 1227.7L392.4 1230.7L394.6 1233.7L396.8 1236.6L399.0 1239.5L401.2 1242.3L403.4 1244.9L405.6 1247.5L407.8 1249.9L410.0 1252.2L412.2 1254.4L414.4 1256.6L416.6 1258.6L418.8 1260.6L421.0 1262.4L423.2 1264.1L425.4 1265.7L427.6 1267.1L429.8 1268.4L431.9 1269.5L434.1 1270.5L436.3 1271.3L438.5 1272.1L440.7 1272.8L442.9 1273.5L445.1 1274.1L447.3 1274.6L449.5 1275.0L451.7 1275.4L453.9 1275.8L456.1 1276.1L458.3 1276.4L460.5 1276.7L462.7 1276.9L464.9 1277.2L467.1 1277.4L469.3 1277.6L471.5 1277.8L473.7 1278.0L475.9 1278.2L478.1 1278.4L480.3 1278.6L482.5 1278.7L484.7 1278.8L486.9 1278.9L489.1 1279.0L491.3 1279.1L493.5 1279.2L495.7 1279.2L497.9 1279.2L500.1 1279.2L502.3 1279.2L504.4 1279.2L506.6 1279.2L508.8 1279.1L511.0 1279.1L513.2 1279.1L515.4 1279.0L517.6 1279.0L519.8 1278.9L522.0 1278.9L524.2 1278.8L526.4 1278.7L528.6 1278.7L530.8 1278.6L533.0 1278.5L535.2 1278.4L537.4 1278.3L539.6 1278.3L541.8 1278.2L544.0 1278.1L546.2 1278.0L548.4 1277.9L550.6 1277.8L552.8 1277.7L555.0 1277.6L557.2 1277.5L559.4 1277.4L561.6 1277.3L563.8 1277.1L566.0 1277.0L568.2 1276.9L570.4 1276.8L572.6 1276.7L574.7 1276.6L576.9 1276.5L579.1 1276.4L581.3 1276.2L583.5 1276.1L585.7 1276.0L587.9 1275.9L590.1 1275.8L592.3 1275.6L594.5 1275.5L596.7 1275.4L598.9 1275.2L601.1 1275.1L603.3 1274.9L605.5 1274.8L607.7 1274.6L609.9 1274.5L612.1 1274.3L614.3 1274.1L616.5 1274.0L618.7 1273.8L620.9 1273.6L623.1 1273.4L625.3 1273.2L627.5 1273.0L629.7 1272.8L631.9 1272.6L634.1 1272.4L636.3 1272.2L638.5 1272.0L640.7 1271.8L642.9 1271.6L645.0 1271.3L647.2 1271.1L649.4 1270.9L651.6 1270.6L653.8 1270.4L656.0 1270.1L658.2 1269.8L660.4 1269.5L662.6 1269.1L664.8 1268.8L667.0 1268.4L669.2 1268.1L671.4 1267.7L673.6 1267.3L675.8 1266.9L678.0 1266.5L680.2 1266.0L682.4 1265.6L684.6 1265.2L686.8 1264.8L689.0 1264.4L691.2 1264.0L693.4 1263.6L695.6 1263.2L697.8 1262.8L700.0 1262.4L702.2 1262.1L704.4 1261.7L706.6 1261.4L708.8 1261.1L711.0 1260.8L713.2 1260.5L715.3 1260.3L717.5 1260.0L719.7 1259.8L721.9 1259.6L724.1 1259.4L726.3 1259.2L728.5 1258.9L730.7 1258.7L732.9 1258.5L735.1 1258.3L737.3 1258.2L739.5 1258.0L741.7 1257.8L743.9 1257.6L746.1 1257.5L748.3 1257.4L750.5 1257.2L752.7 1257.1L754.9 1257.1L757.1 1257.0L759.3 1256.9L761.5 1256.9L763.7 1256.9L765.9 1256.8L768.1 1256.8L770.3 1256.8L772.5 1256.8L774.7 1256.7L776.9 1256.7L779.1 1256.7L781.3 1256.7L783.5 1256.7L785.7 1256.7L787.8 1256.7L790.0 1256.7L792.2 1256.7" stroke="#ff0000" stroke-opacity="0.2" stroke-width="3.0" />
<path d="M190.3 1255.2L192.5 1253.9L194.7 1252.2L196.9 1250.2L199.1 1248.1L201.3 1245.9L203.5 1243.7L205.7 1241.4L207.9 1239.2L210.1 1236.9L212.3 1234.6L214.5 1232.3L216.7 1230.0L218.8 1227.7L221.0 1225.3L223.2 1223.0L225.4 1220.6L227.6 1218.2L229.8 1215.8L232.0 1213.4L234.2 1211.0L236.4 1208.5L238.6 1205.9L240.8 1203.3L243.0 1200.6L245.2 1197.9L247.4 1195.2L249.6 1192.4L251.8 1189.7L254.0 1186.9L256.2 1184.2L258.4 1181.4L260.6 1178.7L262.8 1176.1L265.0 1173.5L267.2 1171.0L269.4 1168.6L271.6 1166.3L273.8 1164.0L276.0 1161.9L278.2 1159.8L280.4 1157.7L282.6 1155.7L284.8 1153.6L287.0 1151.6L289.2 1149.5L291.3 1147.5L293.5 1145.6L295.7 1143.7L297.9 1141.9L300.1 1140.3L302.3 1138.8L304.5 1137.4L306.7 1136.3L308.9 1135.4L311.1 1134.7L313.3 1134.4L315.5 1134.2L317.7 1134.4L319.9 1134.9L322.1 1135.6L324.3 1136.6L326.5 1137.8L328.7 1139.2L330.9 1140.7L333.1 1142.4L335.3 1144.2L337.5 1146.0L339.7 1147.9L341.9 1149.9L344.1 1151.9L346.3 1154.1L348.5 1156.4L350.7 1158.9L352.9 1161.5L355.1 1164.2L357.3 1167.1L359.5 1170.0L361.6 1172.9L363.8 1175.9L366.0 1178.8L368.2 1181.7L370.4 1184.6L372.6 1187.5L374.8 1190.4L377.0 1193.4L379.2 1196.3L381.4 1199.4L383.6 1202.4L385.8 1205.5L388.0 1208.6L390.2 1211.7L392.4 1214.8L394.6 1217.9L396.8 1220.9L399.0 1223.9L401.2 1226.8L403.4 1229.6L405.6 1232.3L407.8 1234.9L410.0 1237.3L412.2 1239.7L414.4 1242.0L416.6 1244.1L418.8 1246.2L421.0 1248.3L423.2 1250.2L425.4 1252.1L427.6 1253.8L429.8 1255.6L431.9 1257.2L434.1 1258.8L436.3 1260.3L438.5 1261.8L440.7 1263.2L442.9 1264.6L445.1 1265.8L447.3 1266.9L449.5 1267.9L451.7 1268.8L453.9 1269.5L456.1 1270.1L458.3 1270.7L460.5 1271.2L462.7 1271.7L464.9 1272.1L467.1 1272.6L469.3 1273.0L471.5 1273.4L473.7 1273.7L475.9 1274.1L478.1 1274.4L480.3 1274.7L482.5 1274.9L484.7 1275.2L486.9 1275.4L489.1 1275.6L491.3 1275.7L493.5 1275.8L495.7 1275.9L497.9 1276.0L500.1 1276.1L502.3 1276.1L504.4 1276.2L506.6 1276.2L508.8 1276.3L511.0 1276.3L513.2 1276.4L515.4 1276.4L517.6 1276.5L519.8 1276.5L522.0 1276.5L524.2 1276.6L526.4 1276.6L528.6 1276.7L530.8 1276.7L533.0 1276.7L535.2 1276.8L537.4 1276.8L539.6 1276.8L541.8 1276.8L544.0 1276.9L546.2 1276.9L548.4 1276.9L550.6 1276.9L552.8 1277.0L555.0 1277.0L557.2 1277.0L559.4 1277.0L561.6 1277.0L563.8 1277.0L566.0 1277.0L568.2 1277.1L570.4 1277.1L572.6 1277.1L574.7 1277.1L576.9 1277.1L579.1 1277.1L581.3 1277.1L583.5 1277.1L585.7 1277.1L587.9 1277.1L590.1 1277.1L592.3 1277.1L594.5 1277.1L596.7 1277.1L598.9 1277.0L601.1 1277.0L603.3 1277.0L605.5 1277.0L607.7 1277.0L609.9 1276.9L612.1 1276.9L614.3 1276.9L616.5 1276.9L618.7 1276.8L620.9 1276.8L623.1 1276.8L625.3 1276.7L627.5 1276.7L629.7 1276.7L631.9 1276.6L634.1 1276.6L636.3 1276.5L638.5 1276.5L640.7 1276.4L642.9 1276.4L645.0 1276.3L647.2 1276.3L649.4 1276.2L651.6 1276.2L653.8 1276.1L656.0 1276.1L658.2 1276.0L660.4 1276.0L662.6 1275.9L664.8 1275.8L667.0 1275.8L669.2 1275.7L671.4 1275.7L673.6 1275.6L675.8 1275.5L678.0 1275.5L680.2 1275.4L682.4 1275.3L684.6 1275.3L686.8 1275.2L689.0 1275.1L691.2 1275.1L693.4 1275.0L695.6 1274.9L697.8 1274.9L700.0 1274.8L702.2 1274.7L704.4 1274.6L706.6 1274.6L708.8 1274.5L711.0 1274.4L713.2 1274.3L715.3 1274.2L717.5 1274.1L719.7 1274.0L721.9 1273.9L724.1 1273.8L726.3 1273.6L728.5 1273.5L730.7 1273.4L732.9 1273.3L735.1 1273.1L737.3 1273.0L739.5 1272.9L741.7 1272.7L743.9 1272.6L746.1 1272.4L748.3 1272.3L750.5 1272.2L752.7 1272.0L754.9 1271.9L757.1 1271.7L759.3 1271.5L761.5 1271.4L763.7 1271.2L765.9 1271.1L768.1 1270.9L770.3 1270.7L772.5 1270.6L774.7 1270.4L776.9 1270.2L779.1 1270.1L781.3 1269.9L783.5 1269.7L785.7 1269.5L787.8 1269.4L790.0 1269.3L792.2 1269.1" stroke="#ff0000" stroke-opacity="0.4" stroke-width="3.0" />
<path d="M190.3 1256.4L192.5 1255.2L194.7 1253.6L196.9 1251.8L199.1 1249.9L201.3 1247.8L203.5 1245.8L205.7 1243.7L207.9 1241.6L210.1 1239.5L212.3 1237.4L214.5 1235.2L216.7 1233.1L218.8 1230.9L221.0 1228.7L223.2 1226.5L225.4 1224.3L227.6 1222.1L229.8 1219.8L232.0 1217.5L234.2 1215.2L236.4 1212.9L238.6 1210.5L240.8 1208.1L243.0 1205.6L245.2 1203.1L247.4 1200.5L249.6 1198.0L251.8 1195.4L254.0 1192.8L256.2 1190.2L258.4 1187.7L260.6 1185.1L262.8 1182.6L265.0 1180.1L267.2 1177.7L269.4 1175.3L271.6 1173.0L273.8 1170.7L276.0 1168.5L278.2 1166.3L280.4 1164.2L282.6 1162.0L284.8 1159.8L287.0 1157.5L289.2 1155.2L291.3 1152.9L293.5 1150.6L295.7 1148.3L297.9 1146.1L300.1 1143.9L302.3 1141.7L304.5 1139.6L306.7 1137.6L308.9 1135.7L311.1 1133.9L313.3 1132.2L315.5 1130.7L317.7 1129.4L319.9 1128.2L322.1 1127.2L324.3 1126.4L326.5 1125.8L328.7 1125.5L330.9 1125.4L333.1 1125.5L335.3 1125.7L337.5 1126.2L339.7 1126.9L341.9 1127.7L344.1 1128.6L346.3 1129.7L348.5 1130.9L350.7 1132.1L352.9 1133.6L355.1 1135.2L357.3 1137.1L359.5 1139.3L361.6 1141.8L363.8 1144.6L366.0 1147.7L368.2 1150.9L370.4 1154.3L372.6 1157.6L374.8 1161.0L377.0 1164.2L379.2 1167.3L381.4 1170.3L383.6 1173.3L385.8 1176.2L388.0 1179.1L390.2 1182.0L392.4 1184.9L394.6 1187.8L396.8 1190.6L399.0 1193.5L401.2 1196.3L403.4 1199.1L405.6 1202.0L407.8 1204.8L410.0 1207.6L412.2 1210.5L414.4 1213.3L416.6 1216.2L418.8 1219.0L421.0 1221.9L423.2 1224.6L425.4 1227.3L427.6 1229.9L429.8 1232.4L431.9 1234.8L434.1 1237.2L436.3 1239.4L438.5 1241.6L440.7 1243.7L442.9 1245.7L445.1 1247.6L447.3 1249.5L449.5 1251.3L451.7 1253.0L453.9 1254.6L456.1 1256.2L458.3 1257.7L460.5 1259.2L462.7 1260.6L464.9 1262.0L467.1 1263.2L469.3 1264.3L471.5 1265.3L473.7 1266.2L475.9 1267.0L478.1 1267.7L480.3 1268.3L482.5 1268.8L484.7 1269.3L486.9 1269.8L489.1 1270.3L491.3 1270.7L493.5 1271.1L495.7 1271.5L497.9 1271.9L500.1 1272.2L502.3 1272.6L504.4 1272.9L506.6 1273.2L508.8 1273.4L511.0 1273.7L513.2 1273.9L515.4 1274.1L517.6 1274.4L519.8 1274.6L522.0 1274.8L524.2 1274.9L526.4 1275.1L528.6 1275.3L530.8 1275.5L533.0 1275.7L535.2 1275.8L537.4 1276.0L539.6 1276.2L541.8 1276.3L544.0 1276.5L546.2 1276.6L548.4 1276.8L550.6 1276.9L552.8 1277.1L555.0 1277.2L557.2 1277.3L559.4 1277.4L561.6 1277.5L563.8 1277.6L566.0 1277.7L568.2 1277.8L570.4 1277.9L572.6 1278.0L574.7 1278.0L576.9 1278.1L579.1 1278.1L581.3 1278.1L583.5 1278.1L585.7 1278.2L587.9 1278.2L590.1 1278.2L592.3 1278.2L594.5 1278.2L596.7 1278.1L598.9 1278.1L601.1 1278.1L603.3 1278.1L605.5 1278.1L607.7 1278.1L609.9 1278.1L612.1 1278.1L614.3 1278.1L616.5 1278.1L618.7 1278.0L620.9 1278.0L623.1 1278.0L625.3 1278.0L627.5 1278.0L629.7 1278.0L631.9 1277.9L634.1 1277.9L636.3 1277.9L638.5 1277.9L640.7 1277.9L642.9 1277.8L645.0 1277.8L647.2 1277.8L649.4 1277.8L651.6 1277.7L653.8 1277.7L656.0 1277.7L658.2 1277.7L660.4 1277.6L662.6 1277.6L664.8 1277.6L667.0 1277.5L669.2 1277.5L671.4 1277.5L673.6 1277.4L675.8 1277.4L678.0 1277.4L680.2 1277.3L682.4 1277.3L684.6 1277.3L686.8 1277.2L689.0 1277.2L691.2 1277.2L693.4 1277.1L695.6 1277.1L697.8 1277.0L700.0 1277.0L702.2 1276.9L704.4 1276.9L706.6 1276.8L708.8 1276.7L711.0 1276.6L713.2 1276.5L715.3 1276.4L717.5 1276.3L719.7 1276.2L721.9 1276.1L724.1 1276.0L726.3 1275.8L728.5 1275.7L730.7 1275.6L732.9 1275.4L735.1 1275.3L737.3 1275.1L739.5 1275.0L741.7 1274.8L743.9 1274.7L746.1 1274.5L748.3 1274.3L750.5 1274.1L752.7 1273.9L754.9 1273.8L757.1 1273.6L759.3 1273.4L761.5 1273.2L763.7 1273.0L765.9 1272.8L768.1 1272.6L770.3 1272.4L772.5 1272.2L774.7 1272.0L776.9 1271.8L779.1 1271.6L781.3 1271.4L783.5 1271.1L785.7 1270.9L787.8 1270.8L790.0 1270.6L792.2 1270.5" stroke="#ff0000" stroke-opacity="0.6" stroke-width="3.0" />
<path d="M190.3 1260.6L192.5 1259.4L194.7 1257.9L196.9 1256.1L199.1 1254.1L201.3 1252.1L203.5 1250.0L205.7 1248.0L207.9 1245.9L210.1 1243.8L212.3 1241.6L214.5 1239.5L216.7 1237.3L218.8 1235.2L221.0 1233.0L223.2 1230.8L225.4 1228.6L227.6 1226.3L229.8 1224.1L232.0 1221.8L234.2 1219.5L236.4 1217.2L238.6 1214.9L240.8 1212.5L243.0 1210.2L245.2 1207.8L247.4 1205.3L249.6 1202.9L251.8 1200.4L254.0 1198.0L256.2 1195.5L258.4 1193.0L260.6 1190.5L262.8 1188.0L265.0 1185.5L267.2 1183.0L269.4 1180.5L271.6 1178.0L273.8 1175.5L276.0 1173.0L278.2 1170.5L280.4 1167.9L282.6 1165.4L284.8 1162.7L287.0 1160.1L289.2 1157.3L291.3 1154.6L293.5 1151.9L295.7 1149.1L297.9 1146.4L300.1 1143.7L302.3 1141.1L304.5 1138.5L306.7 1136.0L308.9 1133.6L311.1 1131.4L313.3 1129.2L315.5 1127.1L317.7 1125.2L319.9 1123.4L322.1 1121.7L324.3 1120.1L326.5 1118.6L328.7 1117.1L330.9 1115.7L333.1 1114.3L335.3 1113.1L337.5 1112.0L339.7 1111.1L341.9 1110.5L344.1 1110.0L346.3 1109.8L348.5 1109.9L350.7 1110.1L352.9 1110.5L355.1 1111.1L357.3 1111.8L359.5 1112.6L361.6 1113.6L363.8 1114.8L366.0 1116.4L368.2 1118.3L370.4 1120.7L372.6 1123.4L374.8 1126.3L377.0 1129.3L379.2 1132.4L381.4 1135.3L383.6 1138.3L385.8 1141.1L388.0 1144.0L390.2 1146.8L392.4 1149.7L394.6 1152.5L396.8 1155.4L399.0 1158.3L401.2 1161.1L403.4 1164.0L405.6 1166.9L407.8 1169.8L410.0 1172.7L412.2 1175.7L414.4 1178.7L416.6 1181.7L418.8 1184.7L421.0 1187.7L423.2 1190.7L425.4 1193.7L427.6 1196.6L429.8 1199.6L431.9 1202.5L434.1 1205.4L436.3 1208.3L438.5 1211.2L440.7 1214.0L442.9 1216.8L445.1 1219.6L447.3 1222.3L449.5 1224.9L451.7 1227.4L453.9 1229.8L456.1 1232.2L458.3 1234.5L460.5 1236.7L462.7 1238.9L464.9 1240.9L467.1 1242.9L469.3 1244.8L471.5 1246.5L473.7 1248.1L475.9 1249.6L478.1 1250.9L480.3 1252.2L482.5 1253.4L484.7 1254.4L486.9 1255.5L489.1 1256.4L491.3 1257.3L493.5 1258.2L495.7 1258.9L497.9 1259.7L500.1 1260.4L502.3 1261.0L504.4 1261.7L506.6 1262.3L508.8 1262.8L511.0 1263.4L513.2 1264.0L515.4 1264.5L517.6 1265.0L519.8 1265.5L522.0 1265.9L524.2 1266.4L526.4 1266.9L528.6 1267.3L530.8 1267.7L533.0 1268.1L535.2 1268.5L537.4 1268.9L539.6 1269.3L541.8 1269.7L544.0 1270.1L546.2 1270.5L548.4 1270.9L550.6 1271.3L552.8 1271.7L555.0 1272.0L557.2 1272.4L559.4 1272.8L561.6 1273.2L563.8 1273.5L566.0 1273.8L568.2 1274.1L570.4 1274.4L572.6 1274.7L574.7 1275.0L576.9 1275.2L579.1 1275.4L581.3 1275.5L583.5 1275.7L585.7 1275.8L587.9 1275.9L590.1 1276.0L592.3 1276.1L594.5 1276.2L596.7 1276.3L598.9 1276.4L601.1 1276.4L603.3 1276.5L605.5 1276.6L607.7 1276.7L609.9 1276.7L612.1 1276.8L614.3 1276.9L616.5 1276.9L618.7 1277.0L620.9 1277.1L623.1 1277.1L625.3 1277.2L627.5 1277.3L629.7 1277.3L631.9 1277.4L634.1 1277.4L636.3 1277.5L638.5 1277.5L640.7 1277.6L642.9 1277.6L645.0 1277.7L647.2 1277.7L649.4 1277.7L651.6 1277.8L653.8 1277.8L656.0 1277.9L658.2 1277.9L660.4 1277.9L662.6 1277.9L664.8 1278.0L667.0 1278.0L669.2 1278.0L671.4 1278.0L673.6 1278.1L675.8 1278.1L678.0 1278.1L680.2 1278.1L682.4 1278.1L684.6 1278.1L686.8 1278.1L689.0 1278.2L691.2 1278.2L693.4 1278.2L695.6 1278.2L697.8 1278.2L700.0 1278.2L702.2 1278.2L704.4 1278.1L706.6 1278.1L708.8 1278.1L711.0 1278.1L713.2 1278.1L715.3 1278.1L717.5 1278.1L719.7 1278.1L721.9 1278.0L724.1 1278.0L726.3 1278.0L728.5 1278.0L730.7 1277.9L732.9 1277.9L735.1 1277.9L737.3 1277.8L739.5 1277.8L741.7 1277.8L743.9 1277.7L746.1 1277.7L748.3 1277.7L750.5 1277.6L752.7 1277.6L754.9 1277.5L757.1 1277.5L759.3 1277.4L761.5 1277.4L763.7 1277.3L765.9 1277.3L768.1 1277.2L770.3 1277.1L772.5 1277.1L774.7 1277.0L776.9 1277.0L779.1 1276.9L781.3 1276.8L783.5 1276.8L785.7 1276.7L787.8 1276.6L790.0 1276.6L792.2 1276.5" stroke="#ff0000" stroke-opacity="0.8" stroke-width="3.0" />
<path d="M190.3 1267.8L192.5 1266.5L194.7 1264.8L196.9 1262.9L199.1 1260.8L201.3 1258.6L203.5 1256.4L205.7 1254.2L207.9 1252.0L210.1 1249.8L212.3 1247.5L214.5 1245.3L216.7 1243.0L218.8 1240.7L221.0 1238.4L223.2 1236.1L225.4 1233.8L227.6 1231.5L229.8 1229.2L232.0 1226.8L234.2 1224.5L236.4 1222.1L238.6 1219.7L240.8 1217.3L243.0 1214.9L245.2 1212.5L247.4 1210.1L249.6 1207.6L251.8 1205.2L254.0 1202.7L256.2 1200.3L258.4 1197.8L260.6 1195.3L262.8 1192.7L265.0 1190.2L267.2 1187.6L269.4 1185.1L271.6 1182.5L273.8 1179.8L276.0 1177.2L278.2 1174.5L280.4 1171.7L282.6 1168.9L284.8 1165.9L287.0 1163.0L289.2 1159.9L291.3 1156.8L293.5 1153.7L295.7 1150.6L297.9 1147.4L300.1 1144.3L302.3 1141.3L304.5 1138.2L306.7 1135.3L308.9 1132.4L311.1 1129.6L313.3 1126.9L315.5 1124.4L317.7 1122.0L319.9 1119.7L322.1 1117.5L324.3 1115.4L326.5 1113.4L328.7 1111.5L330.9 1109.7L333.1 1107.9L335.3 1106.3L337.5 1104.9L339.7 1103.6L341.9 1102.5L344.1 1101.5L346.3 1100.6L348.5 1099.9L350.7 1099.3L352.9 1098.9L355.1 1098.6L357.3 1098.6L359.5 1098.7L361.6 1099.1L363.8 1099.6L366.0 1100.2L368.2 1101.0L370.4 1101.9L372.6 1102.9L374.8 1104.0L377.0 1105.3L379.2 1106.9L381.4 1108.7L383.6 1110.7L385.8 1112.9L388.0 1115.3L390.2 1117.8L392.4 1120.4L394.6 1123.1L396.8 1125.9L399.0 1128.8L401.2 1131.7L403.4 1134.7L405.6 1137.8L407.8 1141.0L410.0 1144.2L412.2 1147.6L414.4 1151.0L416.6 1154.6L418.8 1158.2L421.0 1161.9L423.2 1165.6L425.4 1169.3L427.6 1173.0L429.8 1176.6L431.9 1180.1L434.1 1183.6L436.3 1187.0L438.5 1190.4L440.7 1193.7L442.9 1197.0L445.1 1200.3L447.3 1203.4L449.5 1206.5L451.7 1209.5L453.9 1212.4L456.1 1215.2L458.3 1218.0L460.5 1220.7L462.7 1223.3L464.9 1225.9L467.1 1228.4L469.3 1230.8L471.5 1233.1L473.7 1235.3L475.9 1237.4L478.1 1239.5L480.3 1241.5L482.5 1243.4L484.7 1245.2L486.9 1247.0L489.1 1248.7L491.3 1250.3L493.5 1251.8L495.7 1253.2L497.9 1254.6L500.1 1255.8L502.3 1257.0L504.4 1258.1L506.6 1259.1L508.8 1260.1L511.0 1261.1L513.2 1262.0L515.4 1262.9L517.6 1263.8L519.8 1264.7L522.0 1265.5L524.2 1266.4L526.4 1267.2L528.6 1268.0L530.8 1268.8L533.0 1269.5L535.2 1270.3L537.4 1271.0L539.6 1271.6L541.8 1272.2L544.0 1272.8L546.2 1273.4L548.4 1273.9L550.6 1274.5L552.8 1275.0L555.0 1275.4L557.2 1275.9L559.4 1276.3L561.6 1276.8L563.8 1277.2L566.0 1277.6L568.2 1278.0L570.4 1278.4L572.6 1278.7L574.7 1279.1L576.9 1279.4L579.1 1279.7L581.3 1279.9L583.5 1280.1L585.7 1280.2L587.9 1280.3L590.1 1280.4L592.3 1280.5L594.5 1280.6L596.7 1280.6L598.9 1280.7L601.1 1280.7L603.3 1280.8L605.5 1280.9L607.7 1280.9L609.9 1280.9L612.1 1281.0L614.3 1281.0L616.5 1281.1L618.7 1281.1L620.9 1281.1L623.1 1281.2L625.3 1281.2L627.5 1281.2L629.7 1281.2L631.9 1281.3L634.1 1281.3L636.3 1281.3L638.5 1281.3L640.7 1281.3L642.9 1281.3L645.0 1281.3L647.2 1281.3L649.4 1281.3L651.6 1281.3L653.8 1281.3L656.0 1281.2L658.2 1281.2L660.4 1281.1L662.6 1281.0L664.8 1280.8L667.0 1280.7L669.2 1280.5L671.4 1280.3L673.6 1280.1L675.8 1279.9L678.0 1279.7L680.2 1279.5L682.4 1279.2L684.6 1279.0L686.8 1278.7L689.0 1278.4L691.2 1278.2L693.4 1277.9L695.6 1277.6L697.8 1277.3L700.0 1277.0L702.2 1276.7L704.4 1276.5L706.6 1276.2L708.8 1275.9L711.0 1275.7L713.2 1275.4L715.3 1275.2L717.5 1274.9L719.7 1274.7L721.9 1274.4L724.1 1274.2L726.3 1274.0L728.5 1273.7L730.7 1273.5L732.9 1273.2L735.1 1273.0L737.3 1272.7L739.5 1272.5L741.7 1272.2L743.9 1272.0L746.1 1271.7L748.3 1271.5L750.5 1271.2L752.7 1270.9L754.9 1270.7L757.1 1270.4L759.3 1270.2L761.5 1269.9L763.7 1269.6L765.9 1269.4L768.1 1269.1L770.3 1268.8L772.5 1268.5L774.7 1268.3L776.9 1268.0L779.1 1267.7L781.3 1267.4L783.5 1267.2L785.7 1266.9L787.8 1266.6L790.0 1266.4L792.2 1266.3" stroke="#ff0000" stroke-width="3.0" />
</g>
<!-- arrow -->
<path d="M346.8 259.5V412" stroke="#000" stroke-opacity="0.52" stroke-width="2.8" fill="none"/>
<path d="M338.9 397.5L355 397.5L346.9 413.4Z" fill="#000" fill-opacity="0.48" stroke="#000" stroke-opacity="0.32" stroke-width="2.6" stroke-linejoin="round"/>
<!-- frame -->
<g fill="none" stroke="#000" stroke-width="2.6" stroke-linecap="round" stroke-linejoin="round">
<rect x="146.4" y="0.88" width="680.30" height="1320.92"/>
<path d="M146.4 661.7H826.70"/>
<path d="M256.12 0.88L256.12 7.08M256.12 661.70L256.12 655.50M256.12 661.70L256.12 667.90M256.12 1321.80L256.12 1315.60M365.85 0.88L365.85 13.08M365.85 661.70L365.85 649.50M365.85 661.70L365.85 673.90M365.85 1321.80L365.85 1309.60M475.58 0.88L475.58 7.08M475.58 661.70L475.58 655.50M475.58 661.70L475.58 667.90M475.58 1321.80L475.58 1315.60M585.30 0.88L585.30 13.08M585.30 661.70L585.30 649.50M585.30 661.70L585.30 673.90M585.30 1321.80L585.30 1309.60M695.02 0.88L695.02 7.08M695.02 661.70L695.02 655.50M695.02 661.70L695.02 667.90M695.02 1321.80L695.02 1315.60M804.75 0.88L804.75 13.08M804.75 661.70L804.75 649.50M804.75 661.70L804.75 673.90M804.75 1321.80L804.75 1309.60M146.40 574.75L152.60 574.75M826.70 574.75L820.50 574.75M146.40 487.80L158.60 487.80M826.70 487.80L814.50 487.80M146.40 400.85L152.60 400.85M826.70 400.85L820.50 400.85M146.40 313.90L158.60 313.90M826.70 313.90L814.50 313.90M146.40 226.95L152.60 226.95M826.70 226.95L820.50 226.95M146.40 140.00L158.60 140.00M826.70 140.00L814.50 140.00M146.40 53.05L152.60 53.05M826.70 53.05L820.50 53.05M146.40 1279.23L152.60 1279.23M826.70 1279.23L820.50 1279.23M146.40 1236.66L158.60 1236.66M826.70 1236.66L814.50 1236.66M146.40 1194.08L152.60 1194.08M826.70 1194.08L820.50 1194.08M146.40 1151.51L158.60 1151.51M826.70 1151.51L814.50 1151.51M146.40 1108.94L152.60 1108.94M826.70 1108.94L820.50 1108.94M146.40 1066.37L158.60 1066.37M826.70 1066.37L814.50 1066.37M146.40 1023.80L152.60 1023.80M826.70 1023.80L820.50 1023.80M146.40 981.22L158.60 981.22M826.70 981.22L814.50 981.22M146.40 938.65L152.60 938.65M826.70 938.65L820.50 938.65M146.40 896.08L158.60 896.08M826.70 896.08L814.50 896.08M146.40 853.51L152.60 853.51M826.70 853.51L820.50 853.51M146.40 810.94L158.60 810.94M826.70 810.94L814.50 810.94M146.40 768.36L152.60 768.36M826.70 768.36L820.50 768.36M146.40 725.79L158.60 725.79M826.70 725.79L814.50 725.79M146.40 683.22L152.60 683.22M826.70 683.22L820.50 683.22"/>
</g>
<!-- legend -->
<rect x="160.55" y="674" width="341.05" height="188.2" fill="#fff" stroke="#2a2a2a" stroke-width="1.2"/>
<g fill="none" stroke-width="3.8" stroke-linecap="round">
<path d="M161.5 695.8H249.3" stroke="#f00"/>
<path d="M162 743.7H249.3" stroke="#f00" stroke-dasharray="3.6 10"/>
<path d="M161.5 791.5H249.3" stroke="#00f"/>
<path d="M162 839.4H249.3" stroke="#00f" stroke-dasharray="3.6 10"/>
</g>
<g font-family="Liberation Sans, sans-serif" fill="#000">
<text x="259.00" y="709.40" font-size="39.2">(00 ) poled</text>
<path transform="translate(315.66 709.40) scale(0.01914 -0.01914)" d="M763 0H583V1147Q518 1085 412.5 1023Q307 961 223 930V1104Q374 1175 487 1276Q600 1377 647 1472H763Z"/>
<text x="259.00" y="757.30" font-size="39.2">(00 ) depoled</text>
<path transform="translate(315.66 757.30) scale(0.01914 -0.01914)" d="M763 0H583V1147Q518 1085 412.5 1023Q307 961 223 930V1104Q374 1175 487 1276Q600 1377 647 1472H763Z"/>
<text x="259.00" y="805.10" font-size="39.2">(   ) poled</text>
<path transform="translate(272.05 805.10) scale(0.01914 -0.01914)" d="M763 0H583V1147Q518 1085 412.5 1023Q307 961 223 930V1104Q374 1175 487 1276Q600 1377 647 1472H763Z"/>
<path transform="translate(293.86 805.10) scale(0.01914 -0.01914)" d="M763 0H583V1147Q518 1085 412.5 1023Q307 961 223 930V1104Q374 1175 487 1276Q600 1377 647 1472H763Z"/>
<path transform="translate(315.66 805.10) scale(0.01914 -0.01914)" d="M763 0H583V1147Q518 1085 412.5 1023Q307 961 223 930V1104Q374 1175 487 1276Q600 1377 647 1472H763Z"/>
<text x="259.00" y="853.00" font-size="39.2">(   ) depoled</text>
<path transform="translate(272.05 853.00) scale(0.01914 -0.01914)" d="M763 0H583V1147Q518 1085 412.5 1023Q307 961 223 930V1104Q374 1175 487 1276Q600 1377 647 1472H763Z"/>
<path transform="translate(293.86 853.00) scale(0.01914 -0.01914)" d="M763 0H583V1147Q518 1085 412.5 1023Q307 961 223 930V1104Q374 1175 487 1276Q600 1377 647 1472H763Z"/>
<path transform="translate(315.66 853.00) scale(0.01914 -0.01914)" d="M763 0H583V1147Q518 1085 412.5 1023Q307 961 223 930V1104Q374 1175 487 1276Q600 1377 647 1472H763Z"/>
</g>
<!-- tick labels -->
<g font-family="Liberation Sans, sans-serif" fill="#000">
<text x="82.63" y="154.30" font-size="47.5">3k</text>
<text x="82.63" y="328.20" font-size="47.5">2k</text>
<text x="82.63" y="502.10" font-size="47.5"> k</text>
<path transform="translate(82.63 502.10) scale(0.02319 -0.02319)" d="M763 0H583V1147Q518 1085 412.5 1023Q307 961 223 930V1104Q374 1175 487 1276Q600 1377 647 1472H763Z"/>
<text x="106.38" y="676.00" font-size="47.5">0</text>
<text x="63.05" y="739.09" font-size="47.5">280</text>
<text x="63.05" y="824.24" font-size="47.5">240</text>
<text x="63.05" y="909.38" font-size="47.5">200</text>
<text x="63.05" y="994.52" font-size="47.5"> 60</text>
<path transform="translate(63.05 994.52) scale(0.02319 -0.02319)" d="M763 0H583V1147Q518 1085 412.5 1023Q307 961 223 930V1104Q374 1175 487 1276Q600 1377 647 1472H763Z"/>
<text x="63.05" y="1079.67" font-size="47.5"> 20</text>
<path transform="translate(63.05 1079.67) scale(0.02319 -0.02319)" d="M763 0H583V1147Q518 1085 412.5 1023Q307 961 223 930V1104Q374 1175 487 1276Q600 1377 647 1472H763Z"/>
<text x="89.47" y="1164.81" font-size="47.5">80</text>
<text x="89.47" y="1249.96" font-size="47.5">40</text>
<text x="115.88" y="1335.10" font-size="47.5">0</text>
</g>
<g font-family="Liberation Sans, sans-serif" fill="#000">
<text x="133.39" y="1372.30" font-size="47.5">0</text>
<text x="327.42" y="1372.30" font-size="47.5"> 00</text>
<path transform="translate(327.42 1372.30) scale(0.02319 -0.02319)" d="M763 0H583V1147Q518 1085 412.5 1023Q307 961 223 930V1104Q374 1175 487 1276Q600 1377 647 1472H763Z"/>
<text x="546.87" y="1372.30" font-size="47.5">200</text>
<text x="765.52" y="1372.30" font-size="47.5">300</text>
</g>
<text font-family="Liberation Sans, sans-serif" font-size="59.5" transform="translate(486.5 1455) scale(0.957 1)" text-anchor="middle">T (K)</text>
<text font-family="Liberation Sans, sans-serif" font-size="55" transform="translate(744 49.8) scale(0.91 1)">a</text>
<text font-family="Liberation Sans, sans-serif" font-size="54" x="750" y="714">b</text>
<g font-family="Liberation Sans, sans-serif" fill="#000">
<text x="242.80" y="279.40" font-size="47">  Hz</text>
<path transform="translate(242.80 279.40) scale(0.02295 -0.02295)" d="M763 0H583V1147Q518 1085 412.5 1023Q307 961 223 930V1104Q374 1175 487 1276Q600 1377 647 1472H763Z"/>
<text x="360.00" y="412.80" font-size="47"> 0 kHz</text>
<path transform="translate(360.00 412.80) scale(0.02295 -0.02295)" d="M763 0H583V1147Q518 1085 412.5 1023Q307 961 223 930V1104Q374 1175 487 1276Q600 1377 647 1472H763Z"/>
</g>
<!-- y titles -->
<g fill="#000">
<text transform="translate(49.6 330.8) rotate(-90)" font-size="51">ε</text>
<text transform="translate(63.6 305.9) rotate(-90)" font-size="36.5">r</text>
<path d="M8.7 286.7L16.5 286.7L23 287.5L23 290.4L16.5 291.5L8.7 291.5Z"/>
<text transform="translate(41.5 999.6) rotate(-90)" font-size="51">ε</text>
<text transform="translate(55.6 974.9) rotate(-90)" font-size="36.5">r</text>
<path d="M0 945.1L7.5 945.1L15 945.9L15 948.8L7.5 949.7L0 949.7Z"/>
<path d="M0 955.7L7.5 955.7L15 956.5L15 959.5L7.5 960.4L0 960.4Z"/>
</g>
</svg>
</body></html>
